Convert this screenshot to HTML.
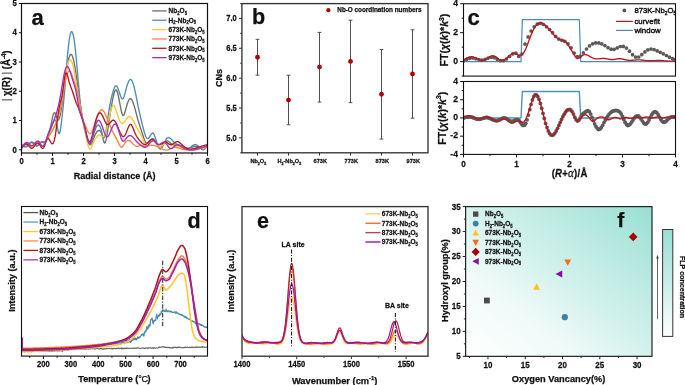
<!DOCTYPE html>
<html><head><meta charset="utf-8"><title>Figure</title>
<style>html,body{margin:0;padding:0;background:#fff;}svg{display:block;will-change:transform;}text{font-family:"Liberation Sans", sans-serif;}</style>
</head><body>
<svg width="685" height="385" viewBox="0 0 685 385" font-family='"Liberation Sans", sans-serif'>
<rect x="0" y="0" width="685" height="385" fill="#fff"/>
<defs><clipPath id="clipA"><rect x="21.5" y="3.5" width="186.0" height="149.5"/></clipPath><clipPath id="clipCU"><rect x="463.5" y="3.75" width="212.0" height="72.35"/></clipPath><clipPath id="clipCL"><rect x="463.5" y="81.5" width="212.0" height="72.9"/></clipPath><clipPath id="clipD"><rect x="21.5" y="206.5" width="186.0" height="149.60000000000002"/></clipPath><clipPath id="clipE"><rect x="242.0" y="206.6" width="186.0" height="149.6"/></clipPath></defs>
<g clip-path="url(#clipA)">
<path d="M21.50,145.41 L21.97,145.69 L22.43,145.95 L22.90,146.20 L23.36,146.43 L23.83,146.62 L24.30,146.76 L24.76,146.86 L25.23,146.90 L25.70,146.87 L26.16,146.76 L26.63,146.56 L27.09,146.28 L27.56,145.90 L28.03,145.44 L28.49,144.94 L28.96,144.42 L29.42,143.92 L29.89,143.44 L30.36,143.04 L30.82,142.72 L31.29,142.53 L31.76,142.49 L32.22,142.61 L32.69,142.86 L33.15,143.23 L33.62,143.67 L34.09,144.15 L34.55,144.63 L35.02,145.09 L35.48,145.49 L35.95,145.80 L36.42,145.99 L36.88,146.02 L37.35,145.86 L37.82,145.54 L38.28,145.09 L38.75,144.55 L39.21,143.98 L39.68,143.40 L40.15,142.86 L40.61,142.41 L41.08,142.08 L41.55,141.91 L42.01,141.94 L42.48,142.13 L42.94,142.38 L43.41,142.62 L43.88,142.76 L44.34,142.73 L44.81,142.43 L45.27,141.82 L45.74,140.94 L46.21,139.85 L46.67,138.61 L47.14,137.27 L47.61,135.89 L48.07,134.53 L48.54,133.20 L49.00,131.85 L49.47,130.43 L49.94,128.89 L50.40,127.20 L50.87,125.29 L51.33,123.14 L51.80,120.87 L52.27,118.65 L52.73,116.65 L53.20,114.99 L53.67,113.74 L54.13,112.96 L54.60,112.70 L55.06,113.04 L55.53,113.96 L56.00,115.27 L56.46,116.75 L56.93,118.18 L57.39,119.35 L57.86,120.04 L58.33,120.11 L58.79,119.60 L59.26,118.56 L59.73,117.06 L60.19,115.15 L60.66,112.89 L61.12,110.34 L61.59,107.54 L62.06,104.51 L62.52,101.27 L62.99,97.85 L63.45,94.26 L63.92,90.55 L64.39,86.76 L64.85,82.97 L65.32,79.23 L65.79,75.61 L66.25,72.18 L66.72,69.00 L67.18,66.10 L67.65,63.49 L68.12,61.19 L68.58,59.20 L69.05,57.54 L69.52,56.22 L69.98,55.25 L70.45,54.64 L70.91,54.40 L71.38,54.55 L71.85,55.07 L72.31,55.96 L72.78,57.21 L73.24,58.79 L73.71,60.69 L74.18,62.89 L74.64,65.39 L75.11,68.16 L75.58,71.16 L76.04,74.33 L76.51,77.64 L76.97,81.05 L77.44,84.50 L77.91,87.96 L78.37,91.38 L78.84,94.75 L79.30,98.04 L79.77,101.25 L80.24,104.36 L80.70,107.36 L81.17,110.22 L81.64,112.94 L82.10,115.50 L82.57,117.90 L83.03,120.18 L83.50,122.36 L83.97,124.47 L84.43,126.55 L84.90,128.64 L85.36,130.75 L85.83,132.87 L86.30,134.96 L86.76,136.96 L87.23,138.84 L87.70,140.55 L88.16,142.03 L88.63,143.24 L89.09,144.15 L89.56,144.69 L90.03,144.86 L90.49,144.70 L90.96,144.26 L91.42,143.58 L91.89,142.70 L92.36,141.67 L92.82,140.54 L93.29,139.34 L93.76,138.13 L94.22,136.95 L94.69,135.83 L95.15,134.81 L95.62,133.88 L96.09,133.05 L96.55,132.33 L97.02,131.71 L97.48,131.21 L97.95,130.83 L98.42,130.58 L98.88,130.45 L99.35,130.48 L99.82,130.68 L100.28,131.08 L100.75,131.72 L101.21,132.62 L101.68,133.82 L102.15,135.34 L102.61,137.15 L103.08,139.05 L103.55,140.82 L104.01,142.21 L104.48,143.00 L104.94,142.98 L105.41,142.17 L105.88,140.67 L106.34,138.61 L106.81,136.10 L107.27,133.25 L107.74,130.19 L108.21,127.03 L108.67,123.87 L109.14,120.75 L109.61,117.68 L110.07,114.68 L110.54,111.75 L111.00,108.89 L111.47,106.13 L111.94,103.45 L112.40,100.89 L112.87,98.48 L113.33,96.26 L113.80,94.28 L114.27,92.61 L114.73,91.28 L115.20,90.34 L115.67,89.85 L116.13,89.86 L116.60,90.37 L117.06,91.36 L117.53,92.75 L118.00,94.48 L118.46,96.51 L118.93,98.76 L119.39,101.17 L119.86,103.69 L120.33,106.22 L120.79,108.65 L121.26,110.88 L121.73,112.81 L122.19,114.32 L122.66,115.31 L123.12,115.69 L123.59,115.46 L124.06,114.72 L124.52,113.57 L124.99,112.12 L125.45,110.46 L125.92,108.72 L126.39,106.98 L126.85,105.33 L127.32,103.80 L127.79,102.41 L128.25,101.20 L128.72,100.18 L129.18,99.38 L129.65,98.83 L130.12,98.55 L130.58,98.56 L131.05,98.83 L131.52,99.35 L131.98,100.09 L132.45,101.03 L132.91,102.15 L133.38,103.43 L133.85,104.84 L134.31,106.37 L134.78,107.99 L135.24,109.69 L135.71,111.43 L136.18,113.20 L136.64,114.98 L137.11,116.73 L137.58,118.45 L138.04,120.10 L138.51,121.70 L138.97,123.23 L139.44,124.72 L139.91,126.17 L140.37,127.60 L140.84,129.01 L141.30,130.41 L141.77,131.80 L142.24,133.21 L142.70,134.63 L143.17,136.06 L143.64,137.44 L144.10,138.76 L144.57,139.97 L145.03,141.03 L145.50,141.93 L145.97,142.61 L146.43,143.04 L146.90,143.24 L147.36,143.24 L147.83,143.06 L148.30,142.74 L148.76,142.31 L149.23,141.80 L149.70,141.24 L150.16,140.67 L150.63,140.12 L151.09,139.61 L151.56,139.18 L152.03,138.86 L152.49,138.69 L152.96,138.68 L153.42,138.88 L153.89,139.24 L154.36,139.76 L154.82,140.39 L155.29,141.11 L155.76,141.89 L156.22,142.70 L156.69,143.52 L157.15,144.31 L157.62,145.05 L158.09,145.70 L158.55,146.24 L159.02,146.65 L159.48,146.89 L159.95,146.94 L160.42,146.82 L160.88,146.56 L161.35,146.18 L161.82,145.70 L162.28,145.15 L162.75,144.56 L163.21,143.94 L163.68,143.33 L164.15,142.74 L164.61,142.21 L165.08,141.74 L165.55,141.38 L166.01,141.14 L166.48,141.01 L166.94,141.00 L167.41,141.07 L167.88,141.23 L168.34,141.45 L168.81,141.73 L169.27,142.04 L169.74,142.39 L170.21,142.75 L170.67,143.11 L171.14,143.46 L171.61,143.79 L172.07,144.08 L172.54,144.33 L173.00,144.54 L173.47,144.72 L173.94,144.87 L174.40,145.00 L174.87,145.11 L175.33,145.21 L175.80,145.29 L176.27,145.37 L176.73,145.45 L177.20,145.53 L177.67,145.62 L178.13,145.70 L178.60,145.79 L179.06,145.89 L179.53,145.99 L180.00,146.10 L180.46,146.21 L180.93,146.33 L181.39,146.46 L181.86,146.60 L182.33,146.75 L182.79,146.91 L183.26,147.07 L183.73,147.25 L184.19,147.42 L184.66,147.59 L185.12,147.76 L185.59,147.91 L186.06,148.05 L186.52,148.17 L186.99,148.27 L187.45,148.34 L187.92,148.38 L188.39,148.38 L188.85,148.34 L189.32,148.26 L189.79,148.15 L190.25,148.00 L190.72,147.83 L191.18,147.64 L191.65,147.44 L192.12,147.24 L192.58,147.04 L193.05,146.85 L193.52,146.67 L193.98,146.52 L194.45,146.40 L194.91,146.31 L195.38,146.27 L195.85,146.27 L196.31,146.31 L196.78,146.37 L197.24,146.47 L197.71,146.58 L198.18,146.70 L198.64,146.84 L199.11,146.97 L199.58,147.10 L200.04,147.23 L200.51,147.33 L200.97,147.42 L201.44,147.47 L201.91,147.50 L202.37,147.50 L202.84,147.47 L203.30,147.42 L203.77,147.35 L204.24,147.26 L204.70,147.15 L205.17,147.03 L205.64,146.89 L206.10,146.75 L206.57,146.60 L207.03,146.45 L207.50,146.29" fill="none" stroke="#6e6e6e" stroke-width="1.35" stroke-linejoin="round" stroke-linecap="round"/>
<path d="M21.50,144.24 L21.97,144.62 L22.43,144.99 L22.90,145.34 L23.36,145.66 L23.83,145.94 L24.30,146.17 L24.76,146.34 L25.23,146.45 L25.70,146.48 L26.16,146.41 L26.63,146.25 L27.09,145.99 L27.56,145.61 L28.03,145.14 L28.49,144.62 L28.96,144.08 L29.42,143.53 L29.89,143.02 L30.36,142.57 L30.82,142.21 L31.29,141.98 L31.76,141.90 L32.22,141.99 L32.69,142.23 L33.15,142.58 L33.62,143.01 L34.09,143.50 L34.55,144.00 L35.02,144.50 L35.48,144.94 L35.95,145.31 L36.42,145.58 L36.88,145.70 L37.35,145.65 L37.82,145.45 L38.28,145.12 L38.75,144.70 L39.21,144.21 L39.68,143.70 L40.15,143.18 L40.61,142.70 L41.08,142.28 L41.55,141.96 L42.01,141.75 L42.48,141.66 L42.94,141.63 L43.41,141.64 L43.88,141.65 L44.34,141.62 L44.81,141.52 L45.27,141.31 L45.74,140.97 L46.21,140.45 L46.67,139.78 L47.14,138.97 L47.61,138.03 L48.07,136.97 L48.54,135.81 L49.00,134.56 L49.47,133.24 L49.94,131.87 L50.40,130.47 L50.87,129.05 L51.33,127.63 L51.80,126.24 L52.27,124.90 L52.73,123.65 L53.20,122.52 L53.67,121.52 L54.13,120.70 L54.60,120.11 L55.06,119.88 L55.53,120.14 L56.00,121.02 L56.46,122.66 L56.93,124.93 L57.39,127.49 L57.86,129.99 L58.33,132.09 L58.79,133.44 L59.26,133.69 L59.73,132.78 L60.19,130.87 L60.66,128.15 L61.12,124.80 L61.59,121.00 L62.06,116.92 L62.52,112.72 L62.99,108.39 L63.45,103.85 L63.92,99.03 L64.39,93.86 L64.85,88.33 L65.32,82.54 L65.79,76.61 L66.25,70.67 L66.72,64.83 L67.18,59.22 L67.65,53.96 L68.12,49.17 L68.58,44.93 L69.05,41.26 L69.52,38.17 L69.98,35.66 L70.45,33.74 L70.91,32.43 L71.38,31.72 L71.85,31.63 L72.31,32.14 L72.78,33.26 L73.24,34.95 L73.71,37.19 L74.18,39.97 L74.64,43.26 L75.11,47.05 L75.58,51.31 L76.04,56.00 L76.51,61.03 L76.97,66.30 L77.44,71.72 L77.91,77.19 L78.37,82.63 L78.84,87.93 L79.30,93.01 L79.77,97.84 L80.24,102.37 L80.70,106.60 L81.17,110.48 L81.64,114.00 L82.10,117.12 L82.57,119.86 L83.03,122.27 L83.50,124.44 L83.97,126.43 L84.43,128.32 L84.90,130.17 L85.36,132.06 L85.83,133.97 L86.30,135.85 L86.76,137.66 L87.23,139.34 L87.70,140.84 L88.16,142.10 L88.63,143.09 L89.09,143.73 L89.56,144.00 L90.03,143.86 L90.49,143.37 L90.96,142.58 L91.42,141.53 L91.89,140.28 L92.36,138.87 L92.82,137.36 L93.29,135.78 L93.76,134.20 L94.22,132.66 L94.69,131.20 L95.15,129.85 L95.62,128.64 L96.09,127.57 L96.55,126.66 L97.02,125.94 L97.48,125.41 L97.95,125.09 L98.42,124.99 L98.88,125.15 L99.35,125.56 L99.82,126.24 L100.28,127.19 L100.75,128.40 L101.21,129.85 L101.68,131.53 L102.15,133.35 L102.61,135.10 L103.08,136.56 L103.55,137.53 L104.01,137.79 L104.48,137.21 L104.94,135.87 L105.41,133.89 L105.88,131.39 L106.34,128.49 L106.81,125.31 L107.27,121.98 L107.74,118.61 L108.21,115.32 L108.67,112.23 L109.14,109.36 L109.61,106.69 L110.07,104.20 L110.54,101.88 L111.00,99.71 L111.47,97.67 L111.94,95.75 L112.40,93.93 L112.87,92.21 L113.33,90.61 L113.80,89.18 L114.27,87.95 L114.73,86.95 L115.20,86.23 L115.67,85.81 L116.13,85.73 L116.60,86.01 L117.06,86.61 L117.53,87.47 L118.00,88.54 L118.46,89.78 L118.93,91.13 L119.39,92.54 L119.86,93.97 L120.33,95.34 L120.79,96.60 L121.26,97.66 L121.73,98.46 L122.19,98.93 L122.66,99.00 L123.12,98.62 L123.59,97.78 L124.06,96.57 L124.52,95.08 L124.99,93.38 L125.45,91.58 L125.92,89.74 L126.39,87.95 L126.85,86.28 L127.32,84.76 L127.79,83.39 L128.25,82.19 L128.72,81.19 L129.18,80.40 L129.65,79.84 L130.12,79.52 L130.58,79.46 L131.05,79.66 L131.52,80.10 L131.98,80.79 L132.45,81.72 L132.91,82.88 L133.38,84.27 L133.85,85.89 L134.31,87.71 L134.78,89.71 L135.24,91.86 L135.71,94.11 L136.18,96.45 L136.64,98.82 L137.11,101.21 L137.58,103.57 L138.04,105.88 L138.51,108.12 L138.97,110.31 L139.44,112.43 L139.91,114.50 L140.37,116.53 L140.84,118.52 L141.30,120.47 L141.77,122.38 L142.24,124.27 L142.70,126.14 L143.17,127.97 L143.64,129.74 L144.10,131.42 L144.57,132.99 L145.03,134.42 L145.50,135.68 L145.97,136.76 L146.43,137.62 L146.90,138.25 L147.36,138.60 L147.83,138.67 L148.30,138.45 L148.76,138.01 L149.23,137.39 L149.70,136.65 L150.16,135.86 L150.63,135.07 L151.09,134.33 L151.56,133.71 L152.03,133.27 L152.49,133.06 L152.96,133.13 L153.42,133.53 L153.89,134.23 L154.36,135.17 L154.82,136.32 L155.29,137.63 L155.76,139.04 L156.22,140.51 L156.69,142.00 L157.15,143.46 L157.62,144.84 L158.09,146.10 L158.55,147.19 L159.02,148.06 L159.48,148.66 L159.95,148.98 L160.42,149.01 L160.88,148.81 L161.35,148.39 L161.82,147.80 L162.28,147.05 L162.75,146.19 L163.21,145.24 L163.68,144.24 L164.15,143.21 L164.61,142.19 L165.08,141.21 L165.55,140.30 L166.01,139.49 L166.48,138.81 L166.94,138.29 L167.41,137.93 L167.88,137.71 L168.34,137.63 L168.81,137.66 L169.27,137.80 L169.74,138.03 L170.21,138.33 L170.67,138.69 L171.14,139.11 L171.61,139.55 L172.07,140.02 L172.54,140.49 L173.00,140.95 L173.47,141.40 L173.94,141.83 L174.40,142.24 L174.87,142.63 L175.33,143.00 L175.80,143.35 L176.27,143.68 L176.73,143.98 L177.20,144.25 L177.67,144.50 L178.13,144.71 L178.60,144.91 L179.06,145.08 L179.53,145.24 L180.00,145.39 L180.46,145.53 L180.93,145.67 L181.39,145.82 L181.86,145.97 L182.33,146.14 L182.79,146.33 L183.26,146.54 L183.73,146.76 L184.19,146.99 L184.66,147.21 L185.12,147.43 L185.59,147.64 L186.06,147.82 L186.52,147.98 L186.99,148.09 L187.45,148.17 L187.92,148.19 L188.39,148.16 L188.85,148.06 L189.32,147.89 L189.79,147.66 L190.25,147.38 L190.72,147.06 L191.18,146.71 L191.65,146.36 L192.12,146.00 L192.58,145.66 L193.05,145.34 L193.52,145.05 L193.98,144.82 L194.45,144.65 L194.91,144.55 L195.38,144.54 L195.85,144.61 L196.31,144.76 L196.78,144.98 L197.24,145.26 L197.71,145.59 L198.18,145.97 L198.64,146.38 L199.11,146.83 L199.58,147.28 L200.04,147.75 L200.51,148.22 L200.97,148.66 L201.44,149.05 L201.91,149.39 L202.37,149.64 L202.84,149.79 L203.30,149.82 L203.77,149.71 L204.24,149.47 L204.70,149.11 L205.17,148.65 L205.64,148.10 L206.10,147.49 L206.57,146.83 L207.03,146.13 L207.50,145.41" fill="none" stroke="#4f8db0" stroke-width="1.35" stroke-linejoin="round" stroke-linecap="round"/>
<path d="M21.50,147.46 L21.97,146.94 L22.43,146.43 L22.90,145.94 L23.36,145.47 L23.83,145.05 L24.30,144.67 L24.76,144.35 L25.23,144.10 L25.70,143.92 L26.16,143.83 L26.63,143.84 L27.09,143.95 L27.56,144.17 L28.03,144.48 L28.49,144.85 L28.96,145.25 L29.42,145.66 L29.89,146.05 L30.36,146.39 L30.82,146.66 L31.29,146.83 L31.76,146.87 L32.22,146.77 L32.69,146.55 L33.15,146.22 L33.62,145.81 L34.09,145.35 L34.55,144.85 L35.02,144.35 L35.48,143.87 L35.95,143.42 L36.42,143.04 L36.88,142.75 L37.35,142.57 L37.82,142.52 L38.28,142.63 L38.75,142.93 L39.21,143.39 L39.68,143.98 L40.15,144.62 L40.61,145.28 L41.08,145.88 L41.55,146.39 L42.01,146.74 L42.48,146.88 L42.94,146.76 L43.41,146.39 L43.88,145.82 L44.34,145.09 L44.81,144.24 L45.27,143.32 L45.74,142.36 L46.21,141.41 L46.67,140.46 L47.14,139.52 L47.61,138.60 L48.07,137.68 L48.54,136.79 L49.00,135.90 L49.47,135.04 L49.94,134.20 L50.40,133.37 L50.87,132.55 L51.33,131.75 L51.80,130.94 L52.27,130.13 L52.73,129.32 L53.20,128.50 L53.67,127.67 L54.13,126.82 L54.60,125.95 L55.06,125.06 L55.53,124.13 L56.00,123.16 L56.46,122.12 L56.93,121.01 L57.39,119.80 L57.86,118.49 L58.33,117.05 L58.79,115.47 L59.26,113.74 L59.73,111.85 L60.19,109.79 L60.66,107.56 L61.12,105.16 L61.59,102.59 L62.06,99.84 L62.52,96.92 L62.99,93.81 L63.45,90.52 L63.92,87.08 L64.39,83.56 L64.85,80.05 L65.32,76.64 L65.79,73.42 L66.25,70.48 L66.72,67.90 L67.18,65.71 L67.65,63.90 L68.12,62.45 L68.58,61.35 L69.05,60.58 L69.52,60.12 L69.98,59.96 L70.45,60.08 L70.91,60.49 L71.38,61.18 L71.85,62.15 L72.31,63.39 L72.78,64.91 L73.24,66.71 L73.71,68.77 L74.18,71.09 L74.64,73.62 L75.11,76.32 L75.58,79.15 L76.04,82.06 L76.51,85.01 L76.97,87.96 L77.44,90.86 L77.91,93.72 L78.37,96.53 L78.84,99.30 L79.30,102.02 L79.77,104.71 L80.24,107.37 L80.70,109.98 L81.17,112.54 L81.64,115.06 L82.10,117.53 L82.57,119.95 L83.03,122.33 L83.50,124.67 L83.97,126.98 L84.43,129.26 L84.90,131.51 L85.36,133.75 L85.83,135.96 L86.30,138.12 L86.76,140.19 L87.23,142.16 L87.70,144.00 L88.16,145.67 L88.63,147.09 L89.09,148.21 L89.56,148.94 L90.03,149.22 L90.49,149.00 L90.96,148.37 L91.42,147.44 L91.89,146.31 L92.36,145.09 L92.82,143.89 L93.29,142.79 L93.76,141.79 L94.22,140.88 L94.69,140.04 L95.15,139.26 L95.62,138.52 L96.09,137.82 L96.55,137.14 L97.02,136.51 L97.48,135.95 L97.95,135.49 L98.42,135.14 L98.88,134.93 L99.35,134.88 L99.82,134.99 L100.28,135.23 L100.75,135.55 L101.21,135.90 L101.68,136.23 L102.15,136.48 L102.61,136.62 L103.08,136.60 L103.55,136.39 L104.01,135.98 L104.48,135.35 L104.94,134.50 L105.41,133.41 L105.88,132.07 L106.34,130.48 L106.81,128.67 L107.27,126.70 L107.74,124.59 L108.21,122.41 L108.67,120.18 L109.14,117.96 L109.61,115.79 L110.07,113.71 L110.54,111.77 L111.00,110.00 L111.47,108.46 L111.94,107.17 L112.40,106.19 L112.87,105.56 L113.33,105.31 L113.80,105.47 L114.27,105.99 L114.73,106.82 L115.20,107.88 L115.67,109.14 L116.13,110.53 L116.60,112.00 L117.06,113.49 L117.53,114.95 L118.00,116.37 L118.46,117.71 L118.93,118.96 L119.39,120.10 L119.86,121.10 L120.33,121.96 L120.79,122.64 L121.26,123.13 L121.73,123.40 L122.19,123.48 L122.66,123.39 L123.12,123.14 L123.59,122.76 L124.06,122.27 L124.52,121.70 L124.99,121.06 L125.45,120.39 L125.92,119.69 L126.39,119.00 L126.85,118.35 L127.32,117.75 L127.79,117.24 L128.25,116.83 L128.72,116.55 L129.18,116.43 L129.65,116.48 L130.12,116.68 L130.58,117.02 L131.05,117.49 L131.52,118.05 L131.98,118.71 L132.45,119.44 L132.91,120.22 L133.38,121.03 L133.85,121.88 L134.31,122.75 L134.78,123.64 L135.24,124.53 L135.71,125.43 L136.18,126.34 L136.64,127.24 L137.11,128.12 L137.58,129.00 L138.04,129.85 L138.51,130.68 L138.97,131.51 L139.44,132.33 L139.91,133.16 L140.37,134.01 L140.84,134.88 L141.30,135.79 L141.77,136.73 L142.24,137.73 L142.70,138.79 L143.17,139.88 L143.64,140.98 L144.10,142.05 L144.57,143.04 L145.03,143.94 L145.50,144.69 L145.97,145.27 L146.43,145.63 L146.90,145.80 L147.36,145.78 L147.83,145.61 L148.30,145.31 L148.76,144.90 L149.23,144.42 L149.70,143.88 L150.16,143.31 L150.63,142.75 L151.09,142.20 L151.56,141.71 L152.03,141.29 L152.49,140.97 L152.96,140.78 L153.42,140.73 L153.89,140.85 L154.36,141.09 L154.82,141.46 L155.29,141.91 L155.76,142.43 L156.22,143.00 L156.69,143.58 L157.15,144.17 L157.62,144.73 L158.09,145.25 L158.55,145.70 L159.02,146.06 L159.48,146.30 L159.95,146.42 L160.42,146.42 L160.88,146.31 L161.35,146.13 L161.82,145.87 L162.28,145.57 L162.75,145.23 L163.21,144.87 L163.68,144.51 L164.15,144.17 L164.61,143.86 L165.08,143.59 L165.55,143.40 L166.01,143.28 L166.48,143.24 L166.94,143.27 L167.41,143.36 L167.88,143.50 L168.34,143.68 L168.81,143.89 L169.27,144.12 L169.74,144.37 L170.21,144.63 L170.67,144.87 L171.14,145.11 L171.61,145.31 L172.07,145.49 L172.54,145.63 L173.00,145.74 L173.47,145.82 L173.94,145.89 L174.40,145.93 L174.87,145.97 L175.33,146.00 L175.80,146.03 L176.27,146.06 L176.73,146.09 L177.20,146.15 L177.67,146.21 L178.13,146.31 L178.60,146.42 L179.06,146.56 L179.53,146.72 L180.00,146.90 L180.46,147.09 L180.93,147.29 L181.39,147.50 L181.86,147.71 L182.33,147.92 L182.79,148.13 L183.26,148.33 L183.73,148.53 L184.19,148.71 L184.66,148.88 L185.12,149.03 L185.59,149.16 L186.06,149.27 L186.52,149.35 L186.99,149.41 L187.45,149.44 L187.92,149.46 L188.39,149.46 L188.85,149.44 L189.32,149.40 L189.79,149.35 L190.25,149.29 L190.72,149.22 L191.18,149.14 L191.65,149.05 L192.12,148.96 L192.58,148.86 L193.05,148.76 L193.52,148.66 L193.98,148.56 L194.45,148.47 L194.91,148.37 L195.38,148.29 L195.85,148.20 L196.31,148.13 L196.78,148.06 L197.24,147.99 L197.71,147.93 L198.18,147.88 L198.64,147.83 L199.11,147.78 L199.58,147.74 L200.04,147.70 L200.51,147.67 L200.97,147.64 L201.44,147.61 L201.91,147.59 L202.37,147.57 L202.84,147.55 L203.30,147.54 L203.77,147.52 L204.24,147.51 L204.70,147.50 L205.17,147.49 L205.64,147.48 L206.10,147.48 L206.57,147.47 L207.03,147.46 L207.50,147.46" fill="none" stroke="#ffc62e" stroke-width="1.35" stroke-linejoin="round" stroke-linecap="round"/>
<path d="M21.50,146.87 L21.97,146.35 L22.43,145.84 L22.90,145.35 L23.36,144.88 L23.83,144.46 L24.30,144.08 L24.76,143.76 L25.23,143.51 L25.70,143.33 L26.16,143.25 L26.63,143.25 L27.09,143.37 L27.56,143.59 L28.03,143.90 L28.49,144.27 L28.96,144.68 L29.42,145.09 L29.89,145.48 L30.36,145.82 L30.82,146.09 L31.29,146.25 L31.76,146.29 L32.22,146.18 L32.69,145.94 L33.15,145.59 L33.62,145.17 L34.09,144.69 L34.55,144.19 L35.02,143.68 L35.48,143.18 L35.95,142.74 L36.42,142.36 L36.88,142.07 L37.35,141.90 L37.82,141.88 L38.28,142.02 L38.75,142.36 L39.21,142.87 L39.68,143.50 L40.15,144.19 L40.61,144.88 L41.08,145.49 L41.55,145.98 L42.01,146.28 L42.48,146.32 L42.94,146.06 L43.41,145.52 L43.88,144.77 L44.34,143.86 L44.81,142.88 L45.27,141.87 L45.74,140.90 L46.21,140.02 L46.67,139.23 L47.14,138.50 L47.61,137.83 L48.07,137.20 L48.54,136.58 L49.00,135.98 L49.47,135.37 L49.94,134.74 L50.40,134.07 L50.87,133.35 L51.33,132.57 L51.80,131.75 L52.27,130.87 L52.73,129.97 L53.20,129.02 L53.67,128.05 L54.13,127.06 L54.60,126.06 L55.06,125.04 L55.53,124.01 L56.00,122.95 L56.46,121.83 L56.93,120.64 L57.39,119.35 L57.86,117.94 L58.33,116.39 L58.79,114.67 L59.26,112.77 L59.73,110.68 L60.19,108.44 L60.66,106.06 L61.12,103.59 L61.59,101.05 L62.06,98.46 L62.52,95.86 L62.99,93.26 L63.45,90.71 L63.92,88.22 L64.39,85.81 L64.85,83.51 L65.32,81.33 L65.79,79.28 L66.25,77.40 L66.72,75.69 L67.18,74.19 L67.65,72.92 L68.12,71.92 L68.58,71.22 L69.05,70.85 L69.52,70.83 L69.98,71.16 L70.45,71.78 L70.91,72.65 L71.38,73.72 L71.85,74.94 L72.31,76.25 L72.78,77.61 L73.24,79.00 L73.71,80.40 L74.18,81.84 L74.64,83.31 L75.11,84.82 L75.58,86.38 L76.04,88.00 L76.51,89.68 L76.97,91.43 L77.44,93.29 L77.91,95.27 L78.37,97.38 L78.84,99.64 L79.30,102.07 L79.77,104.70 L80.24,107.44 L80.70,110.19 L81.17,112.84 L81.64,115.27 L82.10,117.38 L82.57,119.10 L83.03,120.52 L83.50,121.71 L83.97,122.73 L84.43,123.68 L84.90,124.61 L85.36,125.61 L85.83,126.68 L86.30,127.78 L86.76,128.88 L87.23,129.94 L87.70,130.94 L88.16,131.84 L88.63,132.59 L89.09,133.18 L89.56,133.56 L90.03,133.71 L90.49,133.59 L90.96,133.22 L91.42,132.63 L91.89,131.85 L92.36,130.89 L92.82,129.78 L93.29,128.55 L93.76,127.22 L94.22,125.82 L94.69,124.37 L95.15,122.89 L95.62,121.41 L96.09,119.96 L96.55,118.56 L97.02,117.21 L97.48,115.93 L97.95,114.74 L98.42,113.64 L98.88,112.65 L99.35,111.78 L99.82,111.05 L100.28,110.46 L100.75,110.03 L101.21,109.78 L101.68,109.71 L102.15,109.82 L102.61,110.10 L103.08,110.54 L103.55,111.12 L104.01,111.82 L104.48,112.63 L104.94,113.53 L105.41,114.51 L105.88,115.55 L106.34,116.64 L106.81,117.75 L107.27,118.89 L107.74,120.04 L108.21,121.19 L108.67,122.34 L109.14,123.50 L109.61,124.64 L110.07,125.78 L110.54,126.90 L111.00,127.99 L111.47,129.07 L111.94,130.11 L112.40,131.11 L112.87,132.08 L113.33,133.00 L113.80,133.89 L114.27,134.75 L114.73,135.59 L115.20,136.43 L115.67,137.27 L116.13,138.13 L116.60,139.00 L117.06,139.92 L117.53,140.87 L118.00,141.88 L118.46,142.91 L118.93,143.91 L119.39,144.85 L119.86,145.69 L120.33,146.38 L120.79,146.88 L121.26,147.15 L121.73,147.16 L122.19,146.93 L122.66,146.50 L123.12,145.92 L123.59,145.24 L124.06,144.50 L124.52,143.74 L124.99,143.01 L125.45,142.34 L125.92,141.79 L126.39,141.33 L126.85,140.98 L127.32,140.72 L127.79,140.57 L128.25,140.50 L128.72,140.53 L129.18,140.65 L129.65,140.86 L130.12,141.15 L130.58,141.50 L131.05,141.90 L131.52,142.34 L131.98,142.81 L132.45,143.29 L132.91,143.76 L133.38,144.22 L133.85,144.65 L134.31,145.05 L134.78,145.41 L135.24,145.72 L135.71,145.98 L136.18,146.17 L136.64,146.30 L137.11,146.35 L137.58,146.32 L138.04,146.21 L138.51,146.02 L138.97,145.80 L139.44,145.59 L139.91,145.42 L140.37,145.31 L140.84,145.27 L141.30,145.30 L141.77,145.36 L142.24,145.46 L142.70,145.59 L143.17,145.73 L143.64,145.88 L144.10,146.02 L144.57,146.14 L145.03,146.23 L145.50,146.29 L145.97,146.30 L146.43,146.27 L146.90,146.20 L147.36,146.10 L147.83,145.99 L148.30,145.87 L148.76,145.74 L149.23,145.62 L149.70,145.50 L150.16,145.41 L150.63,145.34 L151.09,145.29 L151.56,145.27 L152.03,145.28 L152.49,145.30 L152.96,145.35 L153.42,145.41 L153.89,145.50 L154.36,145.60 L154.82,145.72 L155.29,145.86 L155.76,146.01 L156.22,146.17 L156.69,146.35 L157.15,146.54 L157.62,146.75 L158.09,146.96 L158.55,147.18 L159.02,147.41 L159.48,147.65 L159.95,147.88 L160.42,148.12 L160.88,148.35 L161.35,148.58 L161.82,148.80 L162.28,149.01 L162.75,149.20 L163.21,149.39 L163.68,149.56 L164.15,149.71 L164.61,149.84 L165.08,149.94 L165.55,150.02 L166.01,150.07 L166.48,150.09 L166.94,150.08 L167.41,150.04 L167.88,149.95 L168.34,149.83 L168.81,149.67 L169.27,149.47 L169.74,149.24 L170.21,149.00 L170.67,148.74 L171.14,148.48 L171.61,148.23 L172.07,147.99 L172.54,147.77 L173.00,147.59 L173.47,147.44 L173.94,147.34 L174.40,147.28 L174.87,147.25 L175.33,147.27 L175.80,147.31 L176.27,147.38 L176.73,147.47 L177.20,147.59 L177.67,147.71 L178.13,147.85 L178.60,148.00 L179.06,148.16 L179.53,148.31 L180.00,148.47 L180.46,148.62 L180.93,148.76 L181.39,148.90 L181.86,149.03 L182.33,149.16 L182.79,149.28 L183.26,149.39 L183.73,149.49 L184.19,149.58 L184.66,149.66 L185.12,149.72 L185.59,149.78 L186.06,149.82 L186.52,149.85 L186.99,149.87 L187.45,149.87 L187.92,149.86 L188.39,149.84 L188.85,149.82 L189.32,149.78 L189.79,149.74 L190.25,149.69 L190.72,149.63 L191.18,149.57 L191.65,149.50 L192.12,149.43 L192.58,149.35 L193.05,149.28 L193.52,149.20 L193.98,149.12 L194.45,149.03 L194.91,148.95 L195.38,148.87 L195.85,148.80 L196.31,148.72 L196.78,148.65 L197.24,148.57 L197.71,148.50 L198.18,148.43 L198.64,148.36 L199.11,148.29 L199.58,148.22 L200.04,148.15 L200.51,148.09 L200.97,148.02 L201.44,147.96 L201.91,147.89 L202.37,147.83 L202.84,147.77 L203.30,147.71 L203.77,147.65 L204.24,147.58 L204.70,147.52 L205.17,147.46 L205.64,147.40 L206.10,147.34 L206.57,147.29 L207.03,147.23 L207.50,147.17" fill="none" stroke="#ff8340" stroke-width="1.35" stroke-linejoin="round" stroke-linecap="round"/>
<path d="M21.50,148.34 L21.97,147.70 L22.43,147.09 L22.90,146.49 L23.36,145.93 L23.83,145.42 L24.30,144.97 L24.76,144.60 L25.23,144.31 L25.70,144.12 L26.16,144.03 L26.63,144.07 L27.09,144.25 L27.56,144.56 L28.03,144.99 L28.49,145.49 L28.96,146.03 L29.42,146.59 L29.89,147.12 L30.36,147.60 L30.82,147.98 L31.29,148.24 L31.76,148.34 L32.22,148.26 L32.69,148.02 L33.15,147.64 L33.62,147.17 L34.09,146.62 L34.55,146.03 L35.02,145.42 L35.48,144.83 L35.95,144.28 L36.42,143.81 L36.88,143.43 L37.35,143.19 L37.82,143.10 L38.28,143.21 L38.75,143.53 L39.21,144.05 L39.68,144.72 L40.15,145.48 L40.61,146.25 L41.08,146.99 L41.55,147.62 L42.01,148.08 L42.48,148.32 L42.94,148.27 L43.41,147.93 L43.88,147.31 L44.34,146.41 L44.81,145.25 L45.27,143.88 L45.74,142.40 L46.21,140.98 L46.67,139.73 L47.14,138.81 L47.61,138.33 L48.07,138.28 L48.54,138.57 L49.00,139.12 L49.47,139.87 L49.94,140.72 L50.40,141.59 L50.87,142.42 L51.33,143.11 L51.80,143.60 L52.27,143.80 L52.73,143.67 L53.20,143.18 L53.67,142.29 L54.13,140.98 L54.60,139.21 L55.06,136.95 L55.53,134.17 L56.00,130.86 L56.46,127.16 L56.93,123.27 L57.39,119.41 L57.86,115.76 L58.33,112.47 L58.79,109.55 L59.26,106.99 L59.73,104.77 L60.19,102.88 L60.66,101.20 L61.12,99.52 L61.59,97.65 L62.06,95.38 L62.52,92.55 L62.99,89.29 L63.45,85.82 L63.92,82.36 L64.39,79.15 L64.85,76.40 L65.32,74.34 L65.79,73.19 L66.25,72.94 L66.72,73.45 L67.18,74.55 L67.65,76.06 L68.12,77.83 L68.58,79.69 L69.05,81.48 L69.52,83.09 L69.98,84.55 L70.45,85.90 L70.91,87.17 L71.38,88.40 L71.85,89.63 L72.31,90.90 L72.78,92.24 L73.24,93.68 L73.71,95.17 L74.18,96.68 L74.64,98.19 L75.11,99.65 L75.58,101.03 L76.04,102.30 L76.51,103.47 L76.97,104.56 L77.44,105.61 L77.91,106.65 L78.37,107.70 L78.84,108.81 L79.30,109.99 L79.77,111.24 L80.24,112.55 L80.70,113.90 L81.17,115.28 L81.64,116.67 L82.10,118.07 L82.57,119.47 L83.03,120.89 L83.50,122.36 L83.97,123.90 L84.43,125.52 L84.90,127.26 L85.36,129.13 L85.83,131.10 L86.30,133.09 L86.76,135.04 L87.23,136.87 L87.70,138.53 L88.16,139.93 L88.63,141.01 L89.09,141.70 L89.56,141.93 L90.03,141.68 L90.49,141.00 L90.96,139.96 L91.42,138.59 L91.89,136.97 L92.36,135.15 L92.82,133.18 L93.29,131.12 L93.76,129.02 L94.22,126.95 L94.69,124.95 L95.15,123.06 L95.62,121.28 L96.09,119.64 L96.55,118.13 L97.02,116.79 L97.48,115.62 L97.95,114.63 L98.42,113.84 L98.88,113.26 L99.35,112.91 L99.82,112.79 L100.28,112.89 L100.75,113.19 L101.21,113.66 L101.68,114.29 L102.15,115.05 L102.61,115.93 L103.08,116.91 L103.55,117.96 L104.01,119.03 L104.48,120.10 L104.94,121.13 L105.41,122.09 L105.88,122.93 L106.34,123.63 L106.81,124.15 L107.27,124.46 L107.74,124.54 L108.21,124.44 L108.67,124.19 L109.14,123.82 L109.61,123.35 L110.07,122.83 L110.54,122.29 L111.00,121.75 L111.47,121.25 L111.94,120.81 L112.40,120.47 L112.87,120.23 L113.33,120.14 L113.80,120.22 L114.27,120.48 L114.73,120.92 L115.20,121.52 L115.67,122.26 L116.13,123.12 L116.60,124.08 L117.06,125.12 L117.53,126.22 L118.00,127.36 L118.46,128.52 L118.93,129.68 L119.39,130.82 L119.86,131.91 L120.33,132.94 L120.79,133.88 L121.26,134.72 L121.73,135.43 L122.19,136.00 L122.66,136.40 L123.12,136.61 L123.59,136.61 L124.06,136.38 L124.52,135.91 L124.99,135.22 L125.45,134.35 L125.92,133.34 L126.39,132.22 L126.85,131.04 L127.32,129.84 L127.79,128.64 L128.25,127.50 L128.72,126.47 L129.18,125.59 L129.65,124.91 L130.12,124.48 L130.58,124.34 L131.05,124.53 L131.52,125.03 L131.98,125.77 L132.45,126.71 L132.91,127.79 L133.38,128.97 L133.85,130.19 L134.31,131.40 L134.78,132.55 L135.24,133.61 L135.71,134.58 L136.18,135.47 L136.64,136.29 L137.11,137.04 L137.58,137.74 L138.04,138.40 L138.51,139.01 L138.97,139.60 L139.44,140.16 L139.91,140.71 L140.37,141.26 L140.84,141.79 L141.30,142.29 L141.77,142.77 L142.24,143.21 L142.70,143.61 L143.17,143.94 L143.64,144.22 L144.10,144.42 L144.57,144.54 L145.03,144.57 L145.50,144.50 L145.97,144.32 L146.43,144.04 L146.90,143.65 L147.36,143.18 L147.83,142.66 L148.30,142.11 L148.76,141.56 L149.23,141.02 L149.70,140.53 L150.16,140.10 L150.63,139.77 L151.09,139.55 L151.56,139.47 L152.03,139.51 L152.49,139.66 L152.96,139.90 L153.42,140.22 L153.89,140.60 L154.36,141.03 L154.82,141.49 L155.29,141.97 L155.76,142.45 L156.22,142.92 L156.69,143.36 L157.15,143.76 L157.62,144.10 L158.09,144.37 L158.55,144.54 L159.02,144.62 L159.48,144.61 L159.95,144.52 L160.42,144.37 L160.88,144.17 L161.35,143.93 L161.82,143.66 L162.28,143.39 L162.75,143.11 L163.21,142.85 L163.68,142.61 L164.15,142.41 L164.61,142.27 L165.08,142.18 L165.55,142.18 L166.01,142.27 L166.48,142.43 L166.94,142.66 L167.41,142.93 L167.88,143.22 L168.34,143.53 L168.81,143.82 L169.27,144.09 L169.74,144.31 L170.21,144.46 L170.67,144.54 L171.14,144.52 L171.61,144.42 L172.07,144.26 L172.54,144.03 L173.00,143.77 L173.47,143.47 L173.94,143.16 L174.40,142.84 L174.87,142.54 L175.33,142.25 L175.80,142.01 L176.27,141.81 L176.73,141.67 L177.20,141.61 L177.67,141.63 L178.13,141.74 L178.60,141.94 L179.06,142.20 L179.53,142.52 L180.00,142.88 L180.46,143.29 L180.93,143.72 L181.39,144.16 L181.86,144.61 L182.33,145.06 L182.79,145.50 L183.26,145.91 L183.73,146.29 L184.19,146.66 L184.66,147.00 L185.12,147.31 L185.59,147.60 L186.06,147.87 L186.52,148.11 L186.99,148.32 L187.45,148.51 L187.92,148.67 L188.39,148.80 L188.85,148.91 L189.32,148.99 L189.79,149.05 L190.25,149.08 L190.72,149.09 L191.18,149.07 L191.65,149.04 L192.12,148.99 L192.58,148.92 L193.05,148.84 L193.52,148.74 L193.98,148.64 L194.45,148.52 L194.91,148.39 L195.38,148.26 L195.85,148.11 L196.31,147.97 L196.78,147.82 L197.24,147.66 L197.71,147.51 L198.18,147.35 L198.64,147.19 L199.11,147.03 L199.58,146.87 L200.04,146.71 L200.51,146.55 L200.97,146.39 L201.44,146.24 L201.91,146.10 L202.37,145.95 L202.84,145.81 L203.30,145.68 L203.77,145.54 L204.24,145.41 L204.70,145.28 L205.17,145.15 L205.64,145.03 L206.10,144.90 L206.57,144.78 L207.03,144.66 L207.50,144.53" fill="none" stroke="#b3191c" stroke-width="1.35" stroke-linejoin="round" stroke-linecap="round"/>
<path d="M21.50,148.34 L21.97,147.55 L22.43,146.78 L22.90,146.03 L23.36,145.32 L23.83,144.66 L24.30,144.06 L24.76,143.54 L25.23,143.10 L25.70,142.77 L26.16,142.54 L26.63,142.45 L27.09,142.49 L27.56,142.67 L28.03,142.97 L28.49,143.35 L28.96,143.79 L29.42,144.25 L29.89,144.69 L30.36,145.09 L30.82,145.42 L31.29,145.63 L31.76,145.70 L32.22,145.62 L32.69,145.38 L33.15,145.04 L33.62,144.60 L34.09,144.10 L34.55,143.56 L35.02,143.01 L35.48,142.48 L35.95,141.99 L36.42,141.58 L36.88,141.26 L37.35,141.06 L37.82,141.02 L38.28,141.15 L38.75,141.48 L39.21,142.01 L39.68,142.67 L40.15,143.41 L40.61,144.18 L41.08,144.90 L41.55,145.53 L42.01,146.00 L42.48,146.27 L42.94,146.26 L43.41,146.00 L43.88,145.49 L44.34,144.75 L44.81,143.82 L45.27,142.71 L45.74,141.47 L46.21,140.13 L46.67,138.72 L47.14,137.30 L47.61,135.89 L48.07,134.54 L48.54,133.25 L49.00,132.02 L49.47,130.85 L49.94,129.72 L50.40,128.62 L50.87,127.54 L51.33,126.47 L51.80,125.40 L52.27,124.33 L52.73,123.24 L53.20,122.13 L53.67,120.99 L54.13,119.80 L54.60,118.57 L55.06,117.29 L55.53,115.94 L56.00,114.52 L56.46,113.02 L56.93,111.44 L57.39,109.75 L57.86,107.97 L58.33,106.07 L58.79,104.04 L59.26,101.88 L59.73,99.58 L60.19,97.13 L60.66,94.52 L61.12,91.76 L61.59,88.91 L62.06,86.02 L62.52,83.16 L62.99,80.38 L63.45,77.75 L63.92,75.32 L64.39,73.13 L64.85,71.21 L65.32,69.58 L65.79,68.26 L66.25,67.27 L66.72,66.64 L67.18,66.38 L67.65,66.50 L68.12,66.95 L68.58,67.70 L69.05,68.68 L69.52,69.87 L69.98,71.20 L70.45,72.63 L70.91,74.12 L71.38,75.64 L71.85,77.16 L72.31,78.69 L72.78,80.21 L73.24,81.72 L73.71,83.21 L74.18,84.69 L74.64,86.22 L75.11,87.87 L75.58,89.70 L76.04,91.78 L76.51,94.14 L76.97,96.73 L77.44,99.45 L77.91,102.20 L78.37,104.90 L78.84,107.45 L79.30,109.76 L79.77,111.73 L80.24,113.30 L80.70,114.59 L81.17,115.71 L81.64,116.81 L82.10,118.03 L82.57,119.44 L83.03,121.03 L83.50,122.76 L83.97,124.63 L84.43,126.60 L84.90,128.64 L85.36,130.74 L85.83,132.84 L86.30,134.90 L86.76,136.85 L87.23,138.65 L87.70,140.24 L88.16,141.56 L88.63,142.56 L89.09,143.19 L89.56,143.38 L90.03,143.13 L90.49,142.49 L90.96,141.52 L91.42,140.26 L91.89,138.77 L92.36,137.11 L92.82,135.33 L93.29,133.48 L93.76,131.62 L94.22,129.80 L94.69,128.08 L95.15,126.49 L95.62,125.03 L96.09,123.74 L96.55,122.62 L97.02,121.70 L97.48,120.99 L97.95,120.50 L98.42,120.27 L98.88,120.29 L99.35,120.58 L99.82,121.10 L100.28,121.82 L100.75,122.72 L101.21,123.77 L101.68,124.95 L102.15,126.21 L102.61,127.54 L103.08,128.91 L103.55,130.28 L104.01,131.62 L104.48,132.88 L104.94,134.04 L105.41,135.05 L105.88,135.88 L106.34,136.49 L106.81,136.85 L107.27,136.92 L107.74,136.70 L108.21,136.22 L108.67,135.53 L109.14,134.67 L109.61,133.68 L110.07,132.59 L110.54,131.44 L111.00,130.28 L111.47,129.15 L111.94,128.08 L112.40,127.09 L112.87,126.20 L113.33,125.45 L113.80,124.83 L114.27,124.39 L114.73,124.14 L115.20,124.10 L115.67,124.29 L116.13,124.73 L116.60,125.44 L117.06,126.37 L117.53,127.48 L118.00,128.74 L118.46,130.11 L118.93,131.55 L119.39,133.02 L119.86,134.47 L120.33,135.88 L120.79,137.20 L121.26,138.40 L121.73,139.43 L122.19,140.26 L122.66,140.84 L123.12,141.16 L123.59,141.19 L124.06,141.00 L124.52,140.63 L124.99,140.12 L125.45,139.51 L125.92,138.85 L126.39,138.19 L126.85,137.57 L127.32,137.03 L127.79,136.57 L128.25,136.20 L128.72,135.92 L129.18,135.72 L129.65,135.62 L130.12,135.59 L130.58,135.65 L131.05,135.80 L131.52,136.03 L131.98,136.34 L132.45,136.72 L132.91,137.16 L133.38,137.66 L133.85,138.19 L134.31,138.74 L134.78,139.31 L135.24,139.89 L135.71,140.45 L136.18,141.00 L136.64,141.51 L137.11,141.99 L137.58,142.45 L138.04,142.89 L138.51,143.31 L138.97,143.72 L139.44,144.13 L139.91,144.52 L140.37,144.92 L140.84,145.30 L141.30,145.67 L141.77,146.02 L142.24,146.34 L142.70,146.63 L143.17,146.86 L143.64,147.05 L144.10,147.18 L144.57,147.24 L145.03,147.23 L145.50,147.14 L145.97,146.95 L146.43,146.68 L146.90,146.31 L147.36,145.88 L147.83,145.39 L148.30,144.85 L148.76,144.29 L149.23,143.73 L149.70,143.16 L150.16,142.62 L150.63,142.12 L151.09,141.67 L151.56,141.29 L152.03,140.99 L152.49,140.80 L152.96,140.71 L153.42,140.76 L153.89,140.94 L154.36,141.23 L154.82,141.60 L155.29,142.03 L155.76,142.48 L156.22,142.95 L156.69,143.40 L157.15,143.81 L157.62,144.15 L158.09,144.40 L158.55,144.54 L159.02,144.54 L159.48,144.43 L159.95,144.23 L160.42,143.96 L160.88,143.65 L161.35,143.31 L161.82,142.98 L162.28,142.67 L162.75,142.40 L163.21,142.21 L163.68,142.11 L164.15,142.12 L164.61,142.28 L165.08,142.57 L165.55,142.98 L166.01,143.49 L166.48,144.07 L166.94,144.70 L167.41,145.35 L167.88,146.01 L168.34,146.64 L168.81,147.22 L169.27,147.74 L169.74,148.17 L170.21,148.47 L170.67,148.64 L171.14,148.66 L171.61,148.54 L172.07,148.32 L172.54,148.00 L173.00,147.61 L173.47,147.18 L173.94,146.73 L174.40,146.28 L174.87,145.86 L175.33,145.48 L175.80,145.16 L176.27,144.94 L176.73,144.80 L177.20,144.74 L177.67,144.76 L178.13,144.84 L178.60,144.98 L179.06,145.17 L179.53,145.40 L180.00,145.66 L180.46,145.95 L180.93,146.26 L181.39,146.58 L181.86,146.90 L182.33,147.21 L182.79,147.52 L183.26,147.81 L183.73,148.07 L184.19,148.32 L184.66,148.56 L185.12,148.77 L185.59,148.97 L186.06,149.15 L186.52,149.32 L186.99,149.47 L187.45,149.60 L187.92,149.72 L188.39,149.82 L188.85,149.91 L189.32,149.98 L189.79,150.04 L190.25,150.09 L190.72,150.12 L191.18,150.14 L191.65,150.14 L192.12,150.14 L192.58,150.12 L193.05,150.08 L193.52,150.04 L193.98,149.98 L194.45,149.92 L194.91,149.84 L195.38,149.76 L195.85,149.66 L196.31,149.56 L196.78,149.44 L197.24,149.33 L197.71,149.20 L198.18,149.07 L198.64,148.93 L199.11,148.78 L199.58,148.63 L200.04,148.48 L200.51,148.32 L200.97,148.16 L201.44,147.99 L201.91,147.83 L202.37,147.66 L202.84,147.49 L203.30,147.31 L203.77,147.14 L204.24,146.96 L204.70,146.79 L205.17,146.61 L205.64,146.43 L206.10,146.25 L206.57,146.07 L207.03,145.89 L207.50,145.70" fill="none" stroke="#a830b8" stroke-width="1.35" stroke-linejoin="round" stroke-linecap="round"/>
</g>
<rect x="21.50" y="3.50" width="186.00" height="149.50" stroke="#111" stroke-width="1.2" fill="none"/>
<line x1="18.90" y1="149.80" x2="21.50" y2="149.80" stroke="#111" stroke-width="1"/>
<line x1="18.90" y1="120.54" x2="21.50" y2="120.54" stroke="#111" stroke-width="1"/>
<line x1="18.90" y1="91.28" x2="21.50" y2="91.28" stroke="#111" stroke-width="1"/>
<line x1="18.90" y1="62.02" x2="21.50" y2="62.02" stroke="#111" stroke-width="1"/>
<line x1="18.90" y1="32.76" x2="21.50" y2="32.76" stroke="#111" stroke-width="1"/>
<line x1="18.90" y1="3.50" x2="21.50" y2="3.50" stroke="#111" stroke-width="1"/>
<line x1="21.50" y1="153.00" x2="21.50" y2="155.90" stroke="#111" stroke-width="1"/>
<line x1="37.00" y1="153.00" x2="37.00" y2="154.70" stroke="#111" stroke-width="1"/>
<line x1="52.50" y1="153.00" x2="52.50" y2="155.90" stroke="#111" stroke-width="1"/>
<line x1="68.00" y1="153.00" x2="68.00" y2="154.70" stroke="#111" stroke-width="1"/>
<line x1="83.50" y1="153.00" x2="83.50" y2="155.90" stroke="#111" stroke-width="1"/>
<line x1="99.00" y1="153.00" x2="99.00" y2="154.70" stroke="#111" stroke-width="1"/>
<line x1="114.50" y1="153.00" x2="114.50" y2="155.90" stroke="#111" stroke-width="1"/>
<line x1="130.00" y1="153.00" x2="130.00" y2="154.70" stroke="#111" stroke-width="1"/>
<line x1="145.50" y1="153.00" x2="145.50" y2="155.90" stroke="#111" stroke-width="1"/>
<line x1="161.00" y1="153.00" x2="161.00" y2="154.70" stroke="#111" stroke-width="1"/>
<line x1="176.50" y1="153.00" x2="176.50" y2="155.90" stroke="#111" stroke-width="1"/>
<line x1="192.00" y1="153.00" x2="192.00" y2="154.70" stroke="#111" stroke-width="1"/>
<line x1="207.50" y1="153.00" x2="207.50" y2="155.90" stroke="#111" stroke-width="1"/>
<text transform="translate(16.80 152.50) scale(0.92 1)" font-size="8.48" text-anchor="end" font-weight="bold" fill="#111" stroke="#111" stroke-width="0.25">0</text>
<text transform="translate(16.80 123.24) scale(0.92 1)" font-size="8.48" text-anchor="end" font-weight="bold" fill="#111" stroke="#111" stroke-width="0.25">1</text>
<text transform="translate(16.80 93.98) scale(0.92 1)" font-size="8.48" text-anchor="end" font-weight="bold" fill="#111" stroke="#111" stroke-width="0.25">2</text>
<text transform="translate(16.80 64.72) scale(0.92 1)" font-size="8.48" text-anchor="end" font-weight="bold" fill="#111" stroke="#111" stroke-width="0.25">3</text>
<text transform="translate(16.80 35.46) scale(0.92 1)" font-size="8.48" text-anchor="end" font-weight="bold" fill="#111" stroke="#111" stroke-width="0.25">4</text>
<text transform="translate(16.80 6.20) scale(0.92 1)" font-size="8.48" text-anchor="end" font-weight="bold" fill="#111" stroke="#111" stroke-width="0.25">5</text>
<text transform="translate(21.50 163.90) scale(0.92 1)" font-size="8.26" text-anchor="middle" font-weight="bold" fill="#111" stroke="#111" stroke-width="0.25">0</text>
<text transform="translate(52.50 163.90) scale(0.92 1)" font-size="8.26" text-anchor="middle" font-weight="bold" fill="#111" stroke="#111" stroke-width="0.25">1</text>
<text transform="translate(83.50 163.90) scale(0.92 1)" font-size="8.26" text-anchor="middle" font-weight="bold" fill="#111" stroke="#111" stroke-width="0.25">2</text>
<text transform="translate(114.50 163.90) scale(0.92 1)" font-size="8.26" text-anchor="middle" font-weight="bold" fill="#111" stroke="#111" stroke-width="0.25">3</text>
<text transform="translate(145.50 163.90) scale(0.92 1)" font-size="8.26" text-anchor="middle" font-weight="bold" fill="#111" stroke="#111" stroke-width="0.25">4</text>
<text transform="translate(176.50 163.90) scale(0.92 1)" font-size="8.26" text-anchor="middle" font-weight="bold" fill="#111" stroke="#111" stroke-width="0.25">5</text>
<text transform="translate(207.50 163.90) scale(0.92 1)" font-size="8.26" text-anchor="middle" font-weight="bold" fill="#111" stroke="#111" stroke-width="0.25">6</text>
<text transform="translate(114.60 179.00) scale(0.92 1)" font-size="9.89" text-anchor="middle" font-weight="bold" fill="#111" stroke="#111" stroke-width="0.25">Radial distance (Å)</text>
<text transform="translate(9.70 75.80) rotate(-90) scale(0.92 1)" font-size="10.43" text-anchor="middle" font-weight="bold" fill="#111" stroke="#111" stroke-width="0.25"><tspan font-weight="normal" fill="#888">|</tspan> χ(R) <tspan font-weight="normal" fill="#888">|</tspan> (Å<tspan font-size="64%" dy="-4.03">-4</tspan><tspan dy="4.03">)</tspan></text>
<text transform="translate(31.60 25.10) scale(1.0 1)" font-size="22.00" text-anchor="start" font-weight="bold" fill="#111" stroke="#111" stroke-width="0.25">a</text>
<line x1="152.20" y1="10.90" x2="166.60" y2="10.90" stroke="#6e6e6e" stroke-width="1.3"/>
<text transform="translate(168.60 13.20) scale(0.92 1)" font-size="7.07" text-anchor="start" font-weight="bold" fill="#111" stroke="#111" stroke-width="0.25">Nb<tspan font-size="64%" dy="1.82">2</tspan><tspan dy="-1.82">O</tspan><tspan font-size="64%" dy="1.82">5</tspan></text>
<line x1="152.20" y1="20.25" x2="166.60" y2="20.25" stroke="#4f8db0" stroke-width="1.3"/>
<text transform="translate(168.60 22.55) scale(0.92 1)" font-size="7.07" text-anchor="start" font-weight="bold" fill="#111" stroke="#111" stroke-width="0.25">H<tspan font-size="64%" dy="1.82">2</tspan><tspan dy="-1.82">-</tspan>Nb<tspan font-size="64%" dy="1.82">2</tspan><tspan dy="-1.82">O</tspan><tspan font-size="64%" dy="1.82">5</tspan></text>
<line x1="152.20" y1="29.60" x2="166.60" y2="29.60" stroke="#ffc62e" stroke-width="1.3"/>
<text transform="translate(168.60 31.90) scale(0.92 1)" font-size="7.07" text-anchor="start" font-weight="bold" fill="#111" stroke="#111" stroke-width="0.25">673K-Nb<tspan font-size="64%" dy="1.82">2</tspan><tspan dy="-1.82">O</tspan><tspan font-size="64%" dy="1.82">5</tspan></text>
<line x1="152.20" y1="38.95" x2="166.60" y2="38.95" stroke="#ff8340" stroke-width="1.3"/>
<text transform="translate(168.60 41.25) scale(0.92 1)" font-size="7.07" text-anchor="start" font-weight="bold" fill="#111" stroke="#111" stroke-width="0.25">773K-Nb<tspan font-size="64%" dy="1.82">2</tspan><tspan dy="-1.82">O</tspan><tspan font-size="64%" dy="1.82">5</tspan></text>
<line x1="152.20" y1="48.30" x2="166.60" y2="48.30" stroke="#b3191c" stroke-width="1.3"/>
<text transform="translate(168.60 50.60) scale(0.92 1)" font-size="7.07" text-anchor="start" font-weight="bold" fill="#111" stroke="#111" stroke-width="0.25">873K-Nb<tspan font-size="64%" dy="1.82">2</tspan><tspan dy="-1.82">O</tspan><tspan font-size="64%" dy="1.82">5</tspan></text>
<line x1="152.20" y1="57.65" x2="166.60" y2="57.65" stroke="#a830b8" stroke-width="1.3"/>
<text transform="translate(168.60 59.95) scale(0.92 1)" font-size="7.07" text-anchor="start" font-weight="bold" fill="#111" stroke="#111" stroke-width="0.25">973K-Nb<tspan font-size="64%" dy="1.82">2</tspan><tspan dy="-1.82">O</tspan><tspan font-size="64%" dy="1.82">5</tspan></text>
<rect x="241.90" y="3.60" width="186.10" height="149.20" stroke="#333" stroke-width="1.35" fill="none"/>
<line x1="240.20" y1="152.80" x2="241.90" y2="152.80" stroke="#333" stroke-width="1"/>
<line x1="239.00" y1="137.87" x2="241.90" y2="137.87" stroke="#333" stroke-width="1"/>
<line x1="240.20" y1="122.94" x2="241.90" y2="122.94" stroke="#333" stroke-width="1"/>
<line x1="239.00" y1="108.01" x2="241.90" y2="108.01" stroke="#333" stroke-width="1"/>
<line x1="240.20" y1="93.08" x2="241.90" y2="93.08" stroke="#333" stroke-width="1"/>
<line x1="239.00" y1="78.15" x2="241.90" y2="78.15" stroke="#333" stroke-width="1"/>
<line x1="240.20" y1="63.22" x2="241.90" y2="63.22" stroke="#333" stroke-width="1"/>
<line x1="239.00" y1="48.29" x2="241.90" y2="48.29" stroke="#333" stroke-width="1"/>
<line x1="240.20" y1="33.36" x2="241.90" y2="33.36" stroke="#333" stroke-width="1"/>
<line x1="239.00" y1="18.43" x2="241.90" y2="18.43" stroke="#333" stroke-width="1"/>
<line x1="240.20" y1="3.50" x2="241.90" y2="3.50" stroke="#333" stroke-width="1"/>
<text transform="translate(236.80 140.57) scale(0.92 1)" font-size="8.15" text-anchor="end" font-weight="bold" fill="#111" stroke="#111" stroke-width="0.25">5.0</text>
<text transform="translate(236.80 110.71) scale(0.92 1)" font-size="8.15" text-anchor="end" font-weight="bold" fill="#111" stroke="#111" stroke-width="0.25">5.5</text>
<text transform="translate(236.80 80.85) scale(0.92 1)" font-size="8.15" text-anchor="end" font-weight="bold" fill="#111" stroke="#111" stroke-width="0.25">6.0</text>
<text transform="translate(236.80 50.99) scale(0.92 1)" font-size="8.15" text-anchor="end" font-weight="bold" fill="#111" stroke="#111" stroke-width="0.25">6.5</text>
<text transform="translate(236.80 21.13) scale(0.92 1)" font-size="8.15" text-anchor="end" font-weight="bold" fill="#111" stroke="#111" stroke-width="0.25">7.0</text>
<line x1="257.50" y1="152.80" x2="257.50" y2="155.60" stroke="#333" stroke-width="1"/>
<line x1="288.50" y1="152.80" x2="288.50" y2="155.60" stroke="#333" stroke-width="1"/>
<line x1="319.50" y1="152.80" x2="319.50" y2="155.60" stroke="#333" stroke-width="1"/>
<line x1="350.50" y1="152.80" x2="350.50" y2="155.60" stroke="#333" stroke-width="1"/>
<line x1="381.50" y1="152.80" x2="381.50" y2="155.60" stroke="#333" stroke-width="1"/>
<line x1="412.50" y1="152.80" x2="412.50" y2="155.60" stroke="#333" stroke-width="1"/>
<text transform="translate(258.30 163.00) scale(0.92 1)" font-size="6.09" text-anchor="middle" font-weight="bold" fill="#111" stroke="#111" stroke-width="0.25">Nb<tspan font-size="64%" dy="1.57">2</tspan><tspan dy="-1.57">O</tspan><tspan font-size="64%" dy="1.57">5</tspan></text>
<text transform="translate(289.30 163.00) scale(0.92 1)" font-size="6.09" text-anchor="middle" font-weight="bold" fill="#111" stroke="#111" stroke-width="0.25">H<tspan font-size="64%" dy="1.57">2</tspan><tspan dy="-1.57">-</tspan>Nb<tspan font-size="64%" dy="1.57">2</tspan><tspan dy="-1.57">O</tspan><tspan font-size="64%" dy="1.57">5</tspan></text>
<text transform="translate(320.30 163.00) scale(0.92 1)" font-size="6.09" text-anchor="middle" font-weight="bold" fill="#111" stroke="#111" stroke-width="0.25">673K</text>
<text transform="translate(351.30 163.00) scale(0.92 1)" font-size="6.09" text-anchor="middle" font-weight="bold" fill="#111" stroke="#111" stroke-width="0.25">773K</text>
<text transform="translate(382.30 163.00) scale(0.92 1)" font-size="6.09" text-anchor="middle" font-weight="bold" fill="#111" stroke="#111" stroke-width="0.25">873K</text>
<text transform="translate(413.30 163.00) scale(0.92 1)" font-size="6.09" text-anchor="middle" font-weight="bold" fill="#111" stroke="#111" stroke-width="0.25">973K</text>
<text transform="translate(222.30 78.00) rotate(-90) scale(1.0 1)" font-size="9.00" text-anchor="middle" font-weight="bold" fill="#111" stroke="#111" stroke-width="0.25">CNs</text>
<text transform="translate(251.90 24.00) scale(1.0 1)" font-size="21.60" text-anchor="start" font-weight="bold" fill="#111" stroke="#111" stroke-width="0.25">b</text>
<line x1="257.50" y1="75.16" x2="257.50" y2="39.33" stroke="#505050" stroke-width="1"/>
<line x1="255.60" y1="75.16" x2="259.40" y2="75.16" stroke="#505050" stroke-width="1"/>
<line x1="255.60" y1="39.33" x2="259.40" y2="39.33" stroke="#505050" stroke-width="1"/>
<circle cx="257.50" cy="57.25" r="2.4" fill="#b00000"/>
<line x1="288.50" y1="124.73" x2="288.50" y2="75.22" stroke="#505050" stroke-width="1"/>
<line x1="286.60" y1="124.73" x2="290.40" y2="124.73" stroke="#505050" stroke-width="1"/>
<line x1="286.60" y1="75.22" x2="290.40" y2="75.22" stroke="#505050" stroke-width="1"/>
<circle cx="288.50" cy="100.07" r="2.4" fill="#b00000"/>
<line x1="319.50" y1="102.04" x2="319.50" y2="32.40" stroke="#505050" stroke-width="1"/>
<line x1="317.60" y1="102.04" x2="321.40" y2="102.04" stroke="#505050" stroke-width="1"/>
<line x1="317.60" y1="32.40" x2="321.40" y2="32.40" stroke="#505050" stroke-width="1"/>
<circle cx="319.50" cy="67.04" r="2.4" fill="#b00000"/>
<line x1="350.50" y1="102.64" x2="350.50" y2="20.22" stroke="#505050" stroke-width="1"/>
<line x1="348.60" y1="102.64" x2="352.40" y2="102.64" stroke="#505050" stroke-width="1"/>
<line x1="348.60" y1="20.22" x2="352.40" y2="20.22" stroke="#505050" stroke-width="1"/>
<circle cx="350.50" cy="61.43" r="2.4" fill="#b00000"/>
<line x1="381.50" y1="139.06" x2="381.50" y2="49.48" stroke="#505050" stroke-width="1"/>
<line x1="379.60" y1="139.06" x2="383.40" y2="139.06" stroke="#505050" stroke-width="1"/>
<line x1="379.60" y1="49.48" x2="383.40" y2="49.48" stroke="#505050" stroke-width="1"/>
<circle cx="381.50" cy="94.27" r="2.4" fill="#b00000"/>
<line x1="412.50" y1="118.16" x2="412.50" y2="29.78" stroke="#505050" stroke-width="1"/>
<line x1="410.60" y1="118.16" x2="414.40" y2="118.16" stroke="#505050" stroke-width="1"/>
<line x1="410.60" y1="29.78" x2="414.40" y2="29.78" stroke="#505050" stroke-width="1"/>
<circle cx="412.50" cy="73.97" r="2.4" fill="#b00000"/>
<circle cx="328.4" cy="10.2" r="2.1" fill="#b00000"/>
<text transform="translate(337.30 12.40) scale(1.0 1)" font-size="6.35" text-anchor="start" font-weight="bold" fill="#111" stroke="#111" stroke-width="0.25">Nb-O coordination numbers</text>
<g clip-path="url(#clipCU)">
<path d="M463.50,61.62 L521.00,61.62 L522.33,19.66 L579.31,19.66 L580.74,61.62 L675.50,61.62" fill="none" stroke="#4a8db0" stroke-width="1.2" stroke-linejoin="round" stroke-linecap="round"/>
<circle cx="463.5" cy="60.9" r="1.85" fill="#5a5a5a"/>
<circle cx="466.6" cy="59.4" r="1.85" fill="#5a5a5a"/>
<circle cx="469.6" cy="58.3" r="1.85" fill="#5a5a5a"/>
<circle cx="472.7" cy="58.0" r="1.85" fill="#5a5a5a"/>
<circle cx="475.8" cy="58.7" r="1.85" fill="#5a5a5a"/>
<circle cx="478.9" cy="59.7" r="1.85" fill="#5a5a5a"/>
<circle cx="481.9" cy="60.2" r="1.85" fill="#5a5a5a"/>
<circle cx="485.0" cy="59.4" r="1.85" fill="#5a5a5a"/>
<circle cx="488.1" cy="58.1" r="1.85" fill="#5a5a5a"/>
<circle cx="491.2" cy="57.3" r="1.85" fill="#5a5a5a"/>
<circle cx="494.2" cy="57.7" r="1.85" fill="#5a5a5a"/>
<circle cx="497.3" cy="59.3" r="1.85" fill="#5a5a5a"/>
<circle cx="500.4" cy="60.7" r="1.85" fill="#5a5a5a"/>
<circle cx="503.5" cy="60.7" r="1.85" fill="#5a5a5a"/>
<circle cx="506.5" cy="59.0" r="1.85" fill="#5a5a5a"/>
<circle cx="509.6" cy="56.5" r="1.85" fill="#5a5a5a"/>
<circle cx="512.7" cy="53.9" r="1.85" fill="#5a5a5a"/>
<circle cx="515.8" cy="53.2" r="1.85" fill="#5a5a5a"/>
<circle cx="518.8" cy="56.4" r="1.85" fill="#5a5a5a"/>
<circle cx="521.9" cy="54.0" r="1.85" fill="#5a5a5a"/>
<circle cx="525.0" cy="44.1" r="1.85" fill="#5a5a5a"/>
<circle cx="528.1" cy="36.9" r="1.85" fill="#5a5a5a"/>
<circle cx="531.1" cy="31.0" r="1.85" fill="#5a5a5a"/>
<circle cx="534.2" cy="26.8" r="1.85" fill="#5a5a5a"/>
<circle cx="537.3" cy="24.2" r="1.85" fill="#5a5a5a"/>
<circle cx="540.4" cy="23.3" r="1.85" fill="#5a5a5a"/>
<circle cx="543.4" cy="24.5" r="1.85" fill="#5a5a5a"/>
<circle cx="546.5" cy="26.8" r="1.85" fill="#5a5a5a"/>
<circle cx="549.6" cy="29.5" r="1.85" fill="#5a5a5a"/>
<circle cx="552.6" cy="32.7" r="1.85" fill="#5a5a5a"/>
<circle cx="555.7" cy="36.4" r="1.85" fill="#5a5a5a"/>
<circle cx="558.8" cy="39.1" r="1.85" fill="#5a5a5a"/>
<circle cx="561.9" cy="40.3" r="1.85" fill="#5a5a5a"/>
<circle cx="564.9" cy="41.4" r="1.85" fill="#5a5a5a"/>
<circle cx="568.0" cy="43.9" r="1.85" fill="#5a5a5a"/>
<circle cx="571.1" cy="47.8" r="1.85" fill="#5a5a5a"/>
<circle cx="574.2" cy="53.0" r="1.85" fill="#5a5a5a"/>
<circle cx="577.2" cy="56.7" r="1.85" fill="#5a5a5a"/>
<circle cx="580.3" cy="56.2" r="1.85" fill="#5a5a5a"/>
<circle cx="583.4" cy="52.8" r="1.85" fill="#5a5a5a"/>
<circle cx="586.5" cy="49.0" r="1.85" fill="#5a5a5a"/>
<circle cx="589.5" cy="45.9" r="1.85" fill="#5a5a5a"/>
<circle cx="592.6" cy="43.8" r="1.85" fill="#5a5a5a"/>
<circle cx="595.7" cy="42.9" r="1.85" fill="#5a5a5a"/>
<circle cx="598.8" cy="42.9" r="1.85" fill="#5a5a5a"/>
<circle cx="601.8" cy="43.9" r="1.85" fill="#5a5a5a"/>
<circle cx="604.9" cy="45.6" r="1.85" fill="#5a5a5a"/>
<circle cx="608.0" cy="47.7" r="1.85" fill="#5a5a5a"/>
<circle cx="611.1" cy="49.2" r="1.85" fill="#5a5a5a"/>
<circle cx="614.1" cy="49.3" r="1.85" fill="#5a5a5a"/>
<circle cx="617.2" cy="47.9" r="1.85" fill="#5a5a5a"/>
<circle cx="620.3" cy="46.5" r="1.85" fill="#5a5a5a"/>
<circle cx="623.3" cy="46.4" r="1.85" fill="#5a5a5a"/>
<circle cx="626.4" cy="48.1" r="1.85" fill="#5a5a5a"/>
<circle cx="629.5" cy="51.2" r="1.85" fill="#5a5a5a"/>
<circle cx="632.6" cy="54.7" r="1.85" fill="#5a5a5a"/>
<circle cx="635.6" cy="57.1" r="1.85" fill="#5a5a5a"/>
<circle cx="638.7" cy="57.0" r="1.85" fill="#5a5a5a"/>
<circle cx="641.8" cy="54.7" r="1.85" fill="#5a5a5a"/>
<circle cx="644.9" cy="51.9" r="1.85" fill="#5a5a5a"/>
<circle cx="647.9" cy="49.8" r="1.85" fill="#5a5a5a"/>
<circle cx="651.0" cy="49.0" r="1.85" fill="#5a5a5a"/>
<circle cx="654.1" cy="49.6" r="1.85" fill="#5a5a5a"/>
<circle cx="657.2" cy="50.9" r="1.85" fill="#5a5a5a"/>
<circle cx="660.2" cy="52.3" r="1.85" fill="#5a5a5a"/>
<circle cx="663.3" cy="53.8" r="1.85" fill="#5a5a5a"/>
<circle cx="666.4" cy="55.5" r="1.85" fill="#5a5a5a"/>
<circle cx="669.5" cy="57.2" r="1.85" fill="#5a5a5a"/>
<circle cx="672.5" cy="58.6" r="1.85" fill="#5a5a5a"/>
<circle cx="675.6" cy="59.5" r="1.85" fill="#5a5a5a"/>
<path d="M463.50,59.88 L464.03,59.57 L464.56,59.27 L465.09,58.96 L465.63,58.67 L466.16,58.39 L466.69,58.12 L467.22,57.87 L467.75,57.63 L468.28,57.42 L468.81,57.23 L469.34,57.07 L469.88,56.95 L470.41,56.85 L470.94,56.79 L471.47,56.77 L472.00,56.79 L472.53,56.85 L473.06,56.96 L473.60,57.11 L474.13,57.29 L474.66,57.50 L475.19,57.74 L475.72,58.00 L476.25,58.27 L476.78,58.55 L477.31,58.82 L477.85,59.10 L478.38,59.37 L478.91,59.62 L479.44,59.85 L479.97,60.06 L480.50,60.24 L481.03,60.37 L481.57,60.47 L482.10,60.52 L482.63,60.52 L483.16,60.45 L483.69,60.33 L484.22,60.15 L484.75,59.92 L485.28,59.65 L485.82,59.35 L486.35,59.02 L486.88,58.68 L487.41,58.32 L487.94,57.96 L488.47,57.60 L489.00,57.25 L489.54,56.92 L490.07,56.62 L490.60,56.35 L491.13,56.12 L491.66,55.94 L492.19,55.82 L492.72,55.75 L493.25,55.76 L493.79,55.85 L494.32,56.02 L494.85,56.25 L495.38,56.55 L495.91,56.90 L496.44,57.28 L496.97,57.68 L497.51,58.10 L498.04,58.51 L498.57,58.92 L499.10,59.30 L499.63,59.65 L500.16,59.96 L500.69,60.20 L501.22,60.38 L501.76,60.47 L502.29,60.48 L502.82,60.40 L503.35,60.26 L503.88,60.04 L504.41,59.76 L504.94,59.44 L505.47,59.06 L506.01,58.65 L506.54,58.22 L507.07,57.76 L507.60,57.28 L508.13,56.80 L508.66,56.32 L509.19,55.85 L509.73,55.39 L510.26,54.96 L510.79,54.56 L511.32,54.20 L511.85,53.88 L512.38,53.61 L512.91,53.41 L513.44,53.28 L513.98,53.22 L514.51,53.24 L515.04,53.35 L515.57,53.52 L516.10,53.75 L516.63,54.01 L517.16,54.28 L517.70,54.55 L518.23,54.80 L518.76,55.01 L519.29,55.17 L519.82,55.25 L520.35,55.24 L520.88,55.13 L521.41,54.91 L521.95,54.59 L522.48,54.15 L523.01,53.60 L523.54,52.92 L524.07,52.13 L524.60,51.21 L525.13,50.18 L525.67,49.04 L526.20,47.81 L526.73,46.50 L527.26,45.14 L527.79,43.74 L528.32,42.31 L528.85,40.87 L529.38,39.44 L529.92,38.03 L530.45,36.66 L530.98,35.32 L531.51,34.03 L532.04,32.78 L532.57,31.60 L533.10,30.46 L533.64,29.40 L534.17,28.39 L534.70,27.47 L535.23,26.61 L535.76,25.84 L536.29,25.15 L536.82,24.54 L537.35,24.01 L537.89,23.56 L538.42,23.19 L538.95,22.91 L539.48,22.71 L540.01,22.58 L540.54,22.55 L541.07,22.59 L541.61,22.71 L542.14,22.89 L542.67,23.14 L543.20,23.45 L543.73,23.81 L544.26,24.21 L544.79,24.66 L545.32,25.14 L545.86,25.64 L546.39,26.18 L546.92,26.73 L547.45,27.30 L547.98,27.89 L548.51,28.50 L549.04,29.12 L549.58,29.74 L550.11,30.38 L550.64,31.02 L551.17,31.66 L551.70,32.31 L552.23,32.95 L552.76,33.58 L553.29,34.21 L553.83,34.82 L554.36,35.41 L554.89,35.98 L555.42,36.52 L555.95,37.02 L556.48,37.49 L557.01,37.91 L557.55,38.28 L558.08,38.60 L558.61,38.87 L559.14,39.09 L559.67,39.28 L560.20,39.43 L560.73,39.56 L561.26,39.68 L561.80,39.79 L562.33,39.91 L562.86,40.06 L563.39,40.24 L563.92,40.47 L564.45,40.76 L564.98,41.13 L565.52,41.60 L566.05,42.15 L566.58,42.78 L567.11,43.48 L567.64,44.24 L568.17,45.04 L568.70,45.87 L569.23,46.72 L569.77,47.58 L570.30,48.44 L570.83,49.30 L571.36,50.16 L571.89,51.03 L572.42,51.91 L572.95,52.80 L573.48,53.69 L574.02,54.58 L574.55,55.45 L575.08,56.25 L575.61,56.97 L576.14,57.58 L576.67,58.05 L577.20,58.36 L577.74,58.47 L578.27,58.41 L578.80,58.19 L579.33,57.85 L579.86,57.43 L580.39,56.96 L580.92,56.48 L581.45,56.02 L581.99,55.61 L582.52,55.28 L583.05,55.01 L583.58,54.81 L584.11,54.67 L584.64,54.60 L585.17,54.59 L585.71,54.64 L586.24,54.74 L586.77,54.91 L587.30,55.12 L587.83,55.36 L588.36,55.64 L588.89,55.93 L589.42,56.24 L589.96,56.56 L590.49,56.87 L591.02,57.17 L591.55,57.44 L592.08,57.70 L592.61,57.93 L593.14,58.14 L593.68,58.32 L594.21,58.48 L594.74,58.61 L595.27,58.72 L595.80,58.80 L596.33,58.86 L596.86,58.89 L597.39,58.89 L597.93,58.88 L598.46,58.85 L598.99,58.81 L599.52,58.75 L600.05,58.70 L600.58,58.64 L601.11,58.58 L601.65,58.52 L602.18,58.48 L602.71,58.45 L603.24,58.43 L603.77,58.43 L604.30,58.46 L604.83,58.50 L605.36,58.57 L605.90,58.65 L606.43,58.74 L606.96,58.85 L607.49,58.95 L608.02,59.06 L608.55,59.17 L609.08,59.27 L609.62,59.37 L610.15,59.45 L610.68,59.52 L611.21,59.56 L611.74,59.59 L612.27,59.59 L612.80,59.57 L613.33,59.53 L613.87,59.47 L614.40,59.40 L614.93,59.31 L615.46,59.23 L615.99,59.13 L616.52,59.04 L617.05,58.96 L617.59,58.88 L618.12,58.82 L618.65,58.77 L619.18,58.73 L619.71,58.72 L620.24,58.74 L620.77,58.78 L621.30,58.84 L621.84,58.92 L622.37,59.02 L622.90,59.13 L623.43,59.24 L623.96,59.37 L624.49,59.49 L625.02,59.62 L625.56,59.75 L626.09,59.86 L626.62,59.97 L627.15,60.07 L627.68,60.16 L628.21,60.22 L628.74,60.27 L629.27,60.30 L629.81,60.32 L630.34,60.33 L630.87,60.32 L631.40,60.31 L631.93,60.28 L632.46,60.25 L632.99,60.21 L633.53,60.17 L634.06,60.13 L634.59,60.09 L635.12,60.05 L635.65,60.00 L636.18,59.97 L636.71,59.93 L637.24,59.91 L637.78,59.89 L638.31,59.88 L638.84,59.89 L639.37,59.90 L639.90,59.92 L640.43,59.95 L640.96,59.99 L641.49,60.04 L642.03,60.09 L642.56,60.14 L643.09,60.20 L643.62,60.26 L644.15,60.32 L644.68,60.38 L645.21,60.44 L645.75,60.50 L646.28,60.56 L646.81,60.61 L647.34,60.65 L647.87,60.69 L648.40,60.72 L648.93,60.75 L649.46,60.76 L650.00,60.77 L650.53,60.77 L651.06,60.76 L651.59,60.75 L652.12,60.73 L652.65,60.71 L653.18,60.68 L653.72,60.65 L654.25,60.63 L654.78,60.60 L655.31,60.57 L655.84,60.54 L656.37,60.51 L656.90,60.49 L657.43,60.47 L657.97,60.46 L658.50,60.45 L659.03,60.45 L659.56,60.46 L660.09,60.48 L660.62,60.50 L661.15,60.53 L661.69,60.57 L662.22,60.61 L662.75,60.65 L663.28,60.70 L663.81,60.75 L664.34,60.80 L664.87,60.85 L665.40,60.89 L665.94,60.94 L666.47,60.98 L667.00,61.01 L667.53,61.04 L668.06,61.06 L668.59,61.08 L669.12,61.09 L669.66,61.09 L670.19,61.09 L670.72,61.08 L671.25,61.07 L671.78,61.06 L672.31,61.04 L672.84,61.02 L673.37,61.00 L673.91,60.98 L674.44,60.95 L674.97,60.92 L675.50,60.90" fill="none" stroke="#c0141c" stroke-width="1.35" stroke-linejoin="round" stroke-linecap="round"/>
</g>
<g clip-path="url(#clipCL)">
<path d="M463.50,117.95 L521.00,117.95 L522.33,91.53 L579.31,91.53 L580.74,117.95 L675.50,117.95" fill="none" stroke="#4f92b8" stroke-width="1.4" stroke-linejoin="round" stroke-linecap="round"/>
<circle cx="463.5" cy="118.0" r="1.9" fill="#5a5a5a"/>
<circle cx="464.8" cy="117.5" r="1.9" fill="#5a5a5a"/>
<circle cx="466.1" cy="117.2" r="1.9" fill="#5a5a5a"/>
<circle cx="467.5" cy="116.9" r="1.9" fill="#5a5a5a"/>
<circle cx="468.8" cy="116.8" r="1.9" fill="#5a5a5a"/>
<circle cx="470.1" cy="116.8" r="1.9" fill="#5a5a5a"/>
<circle cx="471.4" cy="117.1" r="1.9" fill="#5a5a5a"/>
<circle cx="472.8" cy="117.5" r="1.9" fill="#5a5a5a"/>
<circle cx="474.1" cy="118.1" r="1.9" fill="#5a5a5a"/>
<circle cx="475.4" cy="118.6" r="1.9" fill="#5a5a5a"/>
<circle cx="476.8" cy="119.0" r="1.9" fill="#5a5a5a"/>
<circle cx="478.1" cy="119.3" r="1.9" fill="#5a5a5a"/>
<circle cx="479.4" cy="119.3" r="1.9" fill="#5a5a5a"/>
<circle cx="480.7" cy="119.0" r="1.9" fill="#5a5a5a"/>
<circle cx="482.1" cy="118.6" r="1.9" fill="#5a5a5a"/>
<circle cx="483.4" cy="118.2" r="1.9" fill="#5a5a5a"/>
<circle cx="484.7" cy="117.8" r="1.9" fill="#5a5a5a"/>
<circle cx="486.0" cy="117.5" r="1.9" fill="#5a5a5a"/>
<circle cx="487.4" cy="117.5" r="1.9" fill="#5a5a5a"/>
<circle cx="488.7" cy="117.9" r="1.9" fill="#5a5a5a"/>
<circle cx="490.0" cy="118.4" r="1.9" fill="#5a5a5a"/>
<circle cx="491.3" cy="119.0" r="1.9" fill="#5a5a5a"/>
<circle cx="492.6" cy="119.7" r="1.9" fill="#5a5a5a"/>
<circle cx="494.0" cy="120.2" r="1.9" fill="#5a5a5a"/>
<circle cx="495.3" cy="120.6" r="1.9" fill="#5a5a5a"/>
<circle cx="496.6" cy="120.8" r="1.9" fill="#5a5a5a"/>
<circle cx="497.9" cy="120.5" r="1.9" fill="#5a5a5a"/>
<circle cx="499.3" cy="120.0" r="1.9" fill="#5a5a5a"/>
<circle cx="500.6" cy="119.3" r="1.9" fill="#5a5a5a"/>
<circle cx="501.9" cy="118.6" r="1.9" fill="#5a5a5a"/>
<circle cx="503.2" cy="118.0" r="1.9" fill="#5a5a5a"/>
<circle cx="504.6" cy="117.9" r="1.9" fill="#5a5a5a"/>
<circle cx="505.9" cy="118.3" r="1.9" fill="#5a5a5a"/>
<circle cx="507.2" cy="119.1" r="1.9" fill="#5a5a5a"/>
<circle cx="508.6" cy="120.1" r="1.9" fill="#5a5a5a"/>
<circle cx="509.9" cy="121.0" r="1.9" fill="#5a5a5a"/>
<circle cx="511.2" cy="121.5" r="1.9" fill="#5a5a5a"/>
<circle cx="512.5" cy="121.5" r="1.9" fill="#5a5a5a"/>
<circle cx="513.9" cy="121.0" r="1.9" fill="#5a5a5a"/>
<circle cx="515.2" cy="120.1" r="1.9" fill="#5a5a5a"/>
<circle cx="516.5" cy="119.6" r="1.9" fill="#5a5a5a"/>
<circle cx="517.8" cy="119.6" r="1.9" fill="#5a5a5a"/>
<circle cx="519.1" cy="120.7" r="1.9" fill="#5a5a5a"/>
<circle cx="520.5" cy="122.5" r="1.9" fill="#5a5a5a"/>
<circle cx="521.8" cy="124.3" r="1.9" fill="#5a5a5a"/>
<circle cx="523.1" cy="125.4" r="1.9" fill="#5a5a5a"/>
<circle cx="524.5" cy="125.2" r="1.9" fill="#5a5a5a"/>
<circle cx="525.8" cy="123.3" r="1.9" fill="#5a5a5a"/>
<circle cx="527.1" cy="119.8" r="1.9" fill="#5a5a5a"/>
<circle cx="528.4" cy="115.1" r="1.9" fill="#5a5a5a"/>
<circle cx="529.8" cy="109.7" r="1.9" fill="#5a5a5a"/>
<circle cx="531.1" cy="104.4" r="1.9" fill="#5a5a5a"/>
<circle cx="532.4" cy="99.9" r="1.9" fill="#5a5a5a"/>
<circle cx="533.7" cy="96.7" r="1.9" fill="#5a5a5a"/>
<circle cx="535.0" cy="95.0" r="1.9" fill="#5a5a5a"/>
<circle cx="536.4" cy="94.8" r="1.9" fill="#5a5a5a"/>
<circle cx="537.7" cy="96.4" r="1.9" fill="#5a5a5a"/>
<circle cx="539.0" cy="99.3" r="1.9" fill="#5a5a5a"/>
<circle cx="540.4" cy="103.4" r="1.9" fill="#5a5a5a"/>
<circle cx="541.7" cy="108.2" r="1.9" fill="#5a5a5a"/>
<circle cx="543.0" cy="113.3" r="1.9" fill="#5a5a5a"/>
<circle cx="544.3" cy="118.5" r="1.9" fill="#5a5a5a"/>
<circle cx="545.6" cy="123.4" r="1.9" fill="#5a5a5a"/>
<circle cx="547.0" cy="127.6" r="1.9" fill="#5a5a5a"/>
<circle cx="548.3" cy="131.0" r="1.9" fill="#5a5a5a"/>
<circle cx="549.6" cy="133.5" r="1.9" fill="#5a5a5a"/>
<circle cx="551.0" cy="135.0" r="1.9" fill="#5a5a5a"/>
<circle cx="552.3" cy="135.3" r="1.9" fill="#5a5a5a"/>
<circle cx="553.6" cy="134.7" r="1.9" fill="#5a5a5a"/>
<circle cx="554.9" cy="133.1" r="1.9" fill="#5a5a5a"/>
<circle cx="556.2" cy="131.0" r="1.9" fill="#5a5a5a"/>
<circle cx="557.6" cy="128.3" r="1.9" fill="#5a5a5a"/>
<circle cx="558.9" cy="125.4" r="1.9" fill="#5a5a5a"/>
<circle cx="560.2" cy="122.4" r="1.9" fill="#5a5a5a"/>
<circle cx="561.5" cy="119.5" r="1.9" fill="#5a5a5a"/>
<circle cx="562.9" cy="116.7" r="1.9" fill="#5a5a5a"/>
<circle cx="564.2" cy="114.2" r="1.9" fill="#5a5a5a"/>
<circle cx="565.5" cy="112.1" r="1.9" fill="#5a5a5a"/>
<circle cx="566.9" cy="110.5" r="1.9" fill="#5a5a5a"/>
<circle cx="568.2" cy="109.6" r="1.9" fill="#5a5a5a"/>
<circle cx="569.5" cy="109.4" r="1.9" fill="#5a5a5a"/>
<circle cx="570.8" cy="110.0" r="1.9" fill="#5a5a5a"/>
<circle cx="572.1" cy="111.6" r="1.9" fill="#5a5a5a"/>
<circle cx="573.5" cy="114.1" r="1.9" fill="#5a5a5a"/>
<circle cx="574.8" cy="117.2" r="1.9" fill="#5a5a5a"/>
<circle cx="576.1" cy="119.8" r="1.9" fill="#5a5a5a"/>
<circle cx="577.5" cy="121.0" r="1.9" fill="#5a5a5a"/>
<circle cx="578.8" cy="120.2" r="1.9" fill="#5a5a5a"/>
<circle cx="580.1" cy="118.1" r="1.9" fill="#5a5a5a"/>
<circle cx="581.4" cy="115.6" r="1.9" fill="#5a5a5a"/>
<circle cx="582.8" cy="113.9" r="1.9" fill="#5a5a5a"/>
<circle cx="584.1" cy="112.8" r="1.9" fill="#5a5a5a"/>
<circle cx="585.4" cy="112.0" r="1.9" fill="#5a5a5a"/>
<circle cx="586.7" cy="111.1" r="1.9" fill="#5a5a5a"/>
<circle cx="588.0" cy="110.7" r="1.9" fill="#5a5a5a"/>
<circle cx="589.4" cy="111.7" r="1.9" fill="#5a5a5a"/>
<circle cx="590.7" cy="114.1" r="1.9" fill="#5a5a5a"/>
<circle cx="592.0" cy="117.3" r="1.9" fill="#5a5a5a"/>
<circle cx="593.4" cy="120.7" r="1.9" fill="#5a5a5a"/>
<circle cx="594.7" cy="123.9" r="1.9" fill="#5a5a5a"/>
<circle cx="596.0" cy="126.6" r="1.9" fill="#5a5a5a"/>
<circle cx="597.3" cy="128.6" r="1.9" fill="#5a5a5a"/>
<circle cx="598.6" cy="129.5" r="1.9" fill="#5a5a5a"/>
<circle cx="600.0" cy="129.1" r="1.9" fill="#5a5a5a"/>
<circle cx="601.3" cy="127.6" r="1.9" fill="#5a5a5a"/>
<circle cx="602.6" cy="125.3" r="1.9" fill="#5a5a5a"/>
<circle cx="604.0" cy="122.6" r="1.9" fill="#5a5a5a"/>
<circle cx="605.3" cy="120.1" r="1.9" fill="#5a5a5a"/>
<circle cx="606.6" cy="117.8" r="1.9" fill="#5a5a5a"/>
<circle cx="607.9" cy="115.8" r="1.9" fill="#5a5a5a"/>
<circle cx="609.2" cy="114.1" r="1.9" fill="#5a5a5a"/>
<circle cx="610.6" cy="112.7" r="1.9" fill="#5a5a5a"/>
<circle cx="611.9" cy="111.7" r="1.9" fill="#5a5a5a"/>
<circle cx="613.2" cy="111.0" r="1.9" fill="#5a5a5a"/>
<circle cx="614.5" cy="110.6" r="1.9" fill="#5a5a5a"/>
<circle cx="615.9" cy="110.5" r="1.9" fill="#5a5a5a"/>
<circle cx="617.2" cy="110.6" r="1.9" fill="#5a5a5a"/>
<circle cx="618.5" cy="111.1" r="1.9" fill="#5a5a5a"/>
<circle cx="619.9" cy="112.1" r="1.9" fill="#5a5a5a"/>
<circle cx="621.2" cy="113.9" r="1.9" fill="#5a5a5a"/>
<circle cx="622.5" cy="116.4" r="1.9" fill="#5a5a5a"/>
<circle cx="623.8" cy="119.4" r="1.9" fill="#5a5a5a"/>
<circle cx="625.1" cy="122.2" r="1.9" fill="#5a5a5a"/>
<circle cx="626.5" cy="124.5" r="1.9" fill="#5a5a5a"/>
<circle cx="627.8" cy="125.5" r="1.9" fill="#5a5a5a"/>
<circle cx="629.1" cy="125.1" r="1.9" fill="#5a5a5a"/>
<circle cx="630.5" cy="123.8" r="1.9" fill="#5a5a5a"/>
<circle cx="631.8" cy="121.9" r="1.9" fill="#5a5a5a"/>
<circle cx="633.1" cy="119.9" r="1.9" fill="#5a5a5a"/>
<circle cx="634.4" cy="118.0" r="1.9" fill="#5a5a5a"/>
<circle cx="635.8" cy="116.5" r="1.9" fill="#5a5a5a"/>
<circle cx="637.1" cy="115.8" r="1.9" fill="#5a5a5a"/>
<circle cx="638.4" cy="116.0" r="1.9" fill="#5a5a5a"/>
<circle cx="639.7" cy="117.1" r="1.9" fill="#5a5a5a"/>
<circle cx="641.0" cy="118.9" r="1.9" fill="#5a5a5a"/>
<circle cx="642.4" cy="121.1" r="1.9" fill="#5a5a5a"/>
<circle cx="643.7" cy="123.0" r="1.9" fill="#5a5a5a"/>
<circle cx="645.0" cy="124.1" r="1.9" fill="#5a5a5a"/>
<circle cx="646.4" cy="123.8" r="1.9" fill="#5a5a5a"/>
<circle cx="647.7" cy="122.3" r="1.9" fill="#5a5a5a"/>
<circle cx="649.0" cy="120.0" r="1.9" fill="#5a5a5a"/>
<circle cx="650.3" cy="117.4" r="1.9" fill="#5a5a5a"/>
<circle cx="651.6" cy="115.0" r="1.9" fill="#5a5a5a"/>
<circle cx="653.0" cy="113.0" r="1.9" fill="#5a5a5a"/>
<circle cx="654.3" cy="111.8" r="1.9" fill="#5a5a5a"/>
<circle cx="655.6" cy="111.8" r="1.9" fill="#5a5a5a"/>
<circle cx="657.0" cy="112.9" r="1.9" fill="#5a5a5a"/>
<circle cx="658.3" cy="114.8" r="1.9" fill="#5a5a5a"/>
<circle cx="659.6" cy="117.1" r="1.9" fill="#5a5a5a"/>
<circle cx="660.9" cy="119.4" r="1.9" fill="#5a5a5a"/>
<circle cx="662.2" cy="121.3" r="1.9" fill="#5a5a5a"/>
<circle cx="663.6" cy="122.2" r="1.9" fill="#5a5a5a"/>
<circle cx="664.9" cy="122.0" r="1.9" fill="#5a5a5a"/>
<circle cx="666.2" cy="121.1" r="1.9" fill="#5a5a5a"/>
<circle cx="667.5" cy="119.8" r="1.9" fill="#5a5a5a"/>
<circle cx="668.9" cy="118.5" r="1.9" fill="#5a5a5a"/>
<circle cx="670.2" cy="117.5" r="1.9" fill="#5a5a5a"/>
<circle cx="671.5" cy="116.9" r="1.9" fill="#5a5a5a"/>
<circle cx="672.9" cy="116.8" r="1.9" fill="#5a5a5a"/>
<circle cx="674.2" cy="117.0" r="1.9" fill="#5a5a5a"/>
<circle cx="675.5" cy="117.5" r="1.9" fill="#5a5a5a"/>
<path d="M463.50,117.49 L464.03,117.31 L464.56,117.12 L465.09,116.94 L465.63,116.77 L466.16,116.62 L466.69,116.48 L467.22,116.36 L467.75,116.26 L468.28,116.19 L468.81,116.14 L469.34,116.13 L469.88,116.16 L470.41,116.22 L470.94,116.33 L471.47,116.47 L472.00,116.64 L472.53,116.83 L473.06,117.04 L473.60,117.27 L474.13,117.50 L474.66,117.73 L475.19,117.95 L475.72,118.16 L476.25,118.36 L476.78,118.53 L477.31,118.67 L477.85,118.78 L478.38,118.84 L478.91,118.86 L479.44,118.83 L479.97,118.75 L480.50,118.63 L481.03,118.49 L481.57,118.32 L482.10,118.14 L482.63,117.95 L483.16,117.76 L483.69,117.57 L484.22,117.40 L484.75,117.26 L485.28,117.14 L485.82,117.06 L486.35,117.03 L486.88,117.04 L487.41,117.12 L487.94,117.24 L488.47,117.41 L489.00,117.62 L489.54,117.86 L490.07,118.13 L490.60,118.42 L491.13,118.72 L491.66,119.03 L492.19,119.34 L492.72,119.64 L493.25,119.93 L493.79,120.20 L494.32,120.45 L494.85,120.66 L495.38,120.84 L495.91,120.97 L496.44,121.05 L496.97,121.08 L497.51,121.04 L498.04,120.93 L498.57,120.77 L499.10,120.57 L499.63,120.34 L500.16,120.09 L500.69,119.82 L501.22,119.57 L501.76,119.33 L502.29,119.12 L502.82,118.94 L503.35,118.82 L503.88,118.77 L504.41,118.78 L504.94,118.89 L505.47,119.09 L506.01,119.36 L506.54,119.70 L507.07,120.09 L507.60,120.50 L508.13,120.94 L508.66,121.37 L509.19,121.79 L509.73,122.18 L510.26,122.52 L510.79,122.81 L511.32,123.01 L511.85,123.13 L512.38,123.13 L512.91,123.03 L513.44,122.83 L513.98,122.57 L514.51,122.26 L515.04,121.92 L515.57,121.58 L516.10,121.27 L516.63,121.00 L517.16,120.80 L517.70,120.69 L518.23,120.70 L518.76,120.82 L519.29,121.03 L519.82,121.29 L520.35,121.59 L520.88,121.87 L521.41,122.12 L521.95,122.29 L522.48,122.36 L523.01,122.29 L523.54,122.05 L524.07,121.63 L524.60,121.03 L525.13,120.26 L525.67,119.33 L526.20,118.26 L526.73,117.05 L527.26,115.72 L527.79,114.27 L528.32,112.74 L528.85,111.13 L529.38,109.49 L529.92,107.81 L530.45,106.14 L530.98,104.48 L531.51,102.86 L532.04,101.31 L532.57,99.85 L533.10,98.52 L533.64,97.34 L534.17,96.34 L534.70,95.55 L535.23,95.01 L535.76,94.74 L536.29,94.77 L536.82,95.10 L537.35,95.73 L537.89,96.62 L538.42,97.74 L538.95,99.06 L539.48,100.57 L540.01,102.24 L540.54,104.04 L541.07,105.94 L541.61,107.93 L542.14,109.98 L542.67,112.06 L543.20,114.16 L543.73,116.26 L544.26,118.32 L544.79,120.34 L545.32,122.28 L545.86,124.12 L546.39,125.84 L546.92,127.45 L547.45,128.93 L547.98,130.28 L548.51,131.48 L549.04,132.53 L549.58,133.43 L550.11,134.17 L550.64,134.73 L551.17,135.12 L551.70,135.32 L552.23,135.34 L552.76,135.19 L553.29,134.89 L553.83,134.44 L554.36,133.86 L554.89,133.17 L555.42,132.37 L555.95,131.48 L556.48,130.51 L557.01,129.48 L557.55,128.40 L558.08,127.28 L558.61,126.12 L559.14,124.94 L559.67,123.75 L560.20,122.55 L560.73,121.35 L561.26,120.16 L561.80,118.98 L562.33,117.83 L562.86,116.71 L563.39,115.63 L563.92,114.60 L564.45,113.63 L564.98,112.73 L565.52,111.92 L566.05,111.21 L566.58,110.60 L567.11,110.11 L567.64,109.75 L568.17,109.53 L568.70,109.46 L569.23,109.55 L569.77,109.79 L570.30,110.17 L570.83,110.68 L571.36,111.32 L571.89,112.07 L572.42,112.94 L572.95,113.91 L573.48,114.95 L574.02,116.04 L574.55,117.12 L575.08,118.15 L575.61,119.08 L576.14,119.89 L576.67,120.52 L577.20,120.94 L577.74,121.10 L578.27,121.00 L578.80,120.70 L579.33,120.23 L579.86,119.64 L580.39,118.97 L580.92,118.26 L581.45,117.57 L581.99,116.92 L582.52,116.32 L583.05,115.79 L583.58,115.36 L584.11,115.02 L584.64,114.81 L585.17,114.74 L585.71,114.80 L586.24,114.99 L586.77,115.29 L587.30,115.70 L587.83,116.20 L588.36,116.78 L588.89,117.43 L589.42,118.13 L589.96,118.83 L590.49,119.50 L591.02,120.10 L591.55,120.60 L592.08,120.96 L592.61,121.13 L593.14,121.13 L593.68,120.98 L594.21,120.71 L594.74,120.35 L595.27,119.93 L595.80,119.48 L596.33,119.03 L596.86,118.60 L597.39,118.20 L597.93,117.86 L598.46,117.55 L598.99,117.30 L599.52,117.10 L600.05,116.96 L600.58,116.87 L601.11,116.85 L601.65,116.89 L602.18,116.98 L602.71,117.13 L603.24,117.33 L603.77,117.57 L604.30,117.85 L604.83,118.16 L605.36,118.50 L605.90,118.84 L606.43,119.15 L606.96,119.42 L607.49,119.63 L608.02,119.75 L608.55,119.77 L609.08,119.69 L609.62,119.53 L610.15,119.31 L610.68,119.05 L611.21,118.77 L611.74,118.49 L612.27,118.22 L612.80,117.99 L613.33,117.79 L613.87,117.63 L614.40,117.51 L614.93,117.44 L615.46,117.42 L615.99,117.47 L616.52,117.58 L617.05,117.74 L617.59,117.94 L618.12,118.15 L618.65,118.37 L619.18,118.56 L619.71,118.73 L620.24,118.83 L620.77,118.87 L621.30,118.81 L621.84,118.68 L622.37,118.50 L622.90,118.28 L623.43,118.05 L623.96,117.83 L624.49,117.64 L625.02,117.51 L625.56,117.46 L626.09,117.48 L626.62,117.55 L627.15,117.67 L627.68,117.81 L628.21,117.97 L628.74,118.12 L629.27,118.25 L629.81,118.35 L630.34,118.40 L630.87,118.39 L631.40,118.32 L631.93,118.21 L632.46,118.06 L632.99,117.90 L633.53,117.73 L634.06,117.56 L634.59,117.41 L635.12,117.30 L635.65,117.23 L636.18,117.21 L636.71,117.25 L637.24,117.32 L637.78,117.42 L638.31,117.53 L638.84,117.65 L639.37,117.77 L639.90,117.86 L640.43,117.93 L640.96,117.95 L641.49,117.92 L642.03,117.85 L642.56,117.75 L643.09,117.62 L643.62,117.48 L644.15,117.35 L644.68,117.22 L645.21,117.12 L645.75,117.06 L646.28,117.04 L646.81,117.07 L647.34,117.16 L647.87,117.28 L648.40,117.43 L648.93,117.58 L649.46,117.74 L650.00,117.89 L650.53,118.01 L651.06,118.09 L651.59,118.13 L652.12,118.11 L652.65,118.04 L653.18,117.92 L653.72,117.78 L654.25,117.63 L654.78,117.47 L655.31,117.32 L655.84,117.19 L656.37,117.09 L656.90,117.04 L657.43,117.04 L657.97,117.09 L658.50,117.18 L659.03,117.29 L659.56,117.42 L660.09,117.56 L660.62,117.69 L661.15,117.81 L661.69,117.90 L662.22,117.95 L662.75,117.96 L663.28,117.92 L663.81,117.86 L664.34,117.76 L664.87,117.65 L665.40,117.52 L665.94,117.39 L666.47,117.26 L667.00,117.14 L667.53,117.04 L668.06,116.96 L668.59,116.91 L669.12,116.87 L669.66,116.85 L670.19,116.86 L670.72,116.87 L671.25,116.91 L671.78,116.95 L672.31,117.01 L672.84,117.07 L673.37,117.15 L673.91,117.23 L674.44,117.31 L674.97,117.40 L675.50,117.49" fill="none" stroke="#c0141c" stroke-width="1.4" stroke-linejoin="round" stroke-linecap="round"/>
</g>
<rect x="463.50" y="3.75" width="212.00" height="72.35" stroke="#111" stroke-width="1.1" fill="none"/>
<rect x="463.50" y="81.50" width="212.00" height="72.90" stroke="#111" stroke-width="1.1" fill="none"/>
<line x1="461.70" y1="76.09" x2="463.50" y2="76.09" stroke="#111" stroke-width="1"/>
<line x1="460.10" y1="61.62" x2="463.50" y2="61.62" stroke="#111" stroke-width="1"/>
<line x1="461.70" y1="47.15" x2="463.50" y2="47.15" stroke="#111" stroke-width="1"/>
<line x1="460.10" y1="32.68" x2="463.50" y2="32.68" stroke="#111" stroke-width="1"/>
<line x1="461.70" y1="18.21" x2="463.50" y2="18.21" stroke="#111" stroke-width="1"/>
<line x1="460.10" y1="3.74" x2="463.50" y2="3.74" stroke="#111" stroke-width="1"/>
<text transform="translate(458.00 63.92) scale(0.92 1)" font-size="9.35" text-anchor="end" font-weight="bold" fill="#111" stroke="#111" stroke-width="0.25">0</text>
<text transform="translate(458.00 34.98) scale(0.92 1)" font-size="9.35" text-anchor="end" font-weight="bold" fill="#111" stroke="#111" stroke-width="0.25">2</text>
<text transform="translate(458.00 6.04) scale(0.92 1)" font-size="9.35" text-anchor="end" font-weight="bold" fill="#111" stroke="#111" stroke-width="0.25">4</text>
<line x1="460.10" y1="154.39" x2="463.50" y2="154.39" stroke="#111" stroke-width="1"/>
<line x1="461.70" y1="145.28" x2="463.50" y2="145.28" stroke="#111" stroke-width="1"/>
<line x1="460.10" y1="136.17" x2="463.50" y2="136.17" stroke="#111" stroke-width="1"/>
<line x1="461.70" y1="127.06" x2="463.50" y2="127.06" stroke="#111" stroke-width="1"/>
<line x1="460.10" y1="117.95" x2="463.50" y2="117.95" stroke="#111" stroke-width="1"/>
<line x1="461.70" y1="108.84" x2="463.50" y2="108.84" stroke="#111" stroke-width="1"/>
<line x1="460.10" y1="99.73" x2="463.50" y2="99.73" stroke="#111" stroke-width="1"/>
<line x1="461.70" y1="90.62" x2="463.50" y2="90.62" stroke="#111" stroke-width="1"/>
<line x1="460.10" y1="81.51" x2="463.50" y2="81.51" stroke="#111" stroke-width="1"/>
<text transform="translate(458.00 156.69) scale(0.92 1)" font-size="9.35" text-anchor="end" font-weight="bold" fill="#111" stroke="#111" stroke-width="0.25">-4</text>
<text transform="translate(458.00 138.47) scale(0.92 1)" font-size="9.35" text-anchor="end" font-weight="bold" fill="#111" stroke="#111" stroke-width="0.25">-2</text>
<text transform="translate(458.00 120.25) scale(0.92 1)" font-size="9.35" text-anchor="end" font-weight="bold" fill="#111" stroke="#111" stroke-width="0.25">0</text>
<text transform="translate(458.00 102.03) scale(0.92 1)" font-size="9.35" text-anchor="end" font-weight="bold" fill="#111" stroke="#111" stroke-width="0.25">2</text>
<text transform="translate(458.00 83.81) scale(0.92 1)" font-size="9.35" text-anchor="end" font-weight="bold" fill="#111" stroke="#111" stroke-width="0.25">4</text>
<line x1="463.50" y1="154.40" x2="463.50" y2="157.40" stroke="#111" stroke-width="1"/>
<line x1="490.00" y1="154.40" x2="490.00" y2="156.20" stroke="#111" stroke-width="1"/>
<line x1="516.50" y1="154.40" x2="516.50" y2="157.40" stroke="#111" stroke-width="1"/>
<line x1="543.00" y1="154.40" x2="543.00" y2="156.20" stroke="#111" stroke-width="1"/>
<line x1="569.50" y1="154.40" x2="569.50" y2="157.40" stroke="#111" stroke-width="1"/>
<line x1="596.00" y1="154.40" x2="596.00" y2="156.20" stroke="#111" stroke-width="1"/>
<line x1="622.50" y1="154.40" x2="622.50" y2="157.40" stroke="#111" stroke-width="1"/>
<line x1="649.00" y1="154.40" x2="649.00" y2="156.20" stroke="#111" stroke-width="1"/>
<line x1="675.50" y1="154.40" x2="675.50" y2="157.40" stroke="#111" stroke-width="1"/>
<text transform="translate(463.50 166.90) scale(0.92 1)" font-size="8.91" text-anchor="middle" font-weight="bold" fill="#111" stroke="#111" stroke-width="0.25">0</text>
<text transform="translate(516.50 166.90) scale(0.92 1)" font-size="8.91" text-anchor="middle" font-weight="bold" fill="#111" stroke="#111" stroke-width="0.25">1</text>
<text transform="translate(569.50 166.90) scale(0.92 1)" font-size="8.91" text-anchor="middle" font-weight="bold" fill="#111" stroke="#111" stroke-width="0.25">2</text>
<text transform="translate(622.50 166.90) scale(0.92 1)" font-size="8.91" text-anchor="middle" font-weight="bold" fill="#111" stroke="#111" stroke-width="0.25">3</text>
<text transform="translate(675.50 166.90) scale(0.92 1)" font-size="8.91" text-anchor="middle" font-weight="bold" fill="#111" stroke="#111" stroke-width="0.25">4</text>
<text transform="translate(569.60 176.60) scale(0.92 1)" font-size="10.43" text-anchor="middle" font-weight="bold" fill="#111" stroke="#111" stroke-width="0.25" letter-spacing="0.25">(<tspan font-style="italic">R</tspan>+<tspan font-style="italic" font-weight="normal" font-family="Liberation Serif, serif" font-size="115%">α</tspan>)/Å</text>
<text transform="translate(448.30 40.10) rotate(-90) scale(1.0 1)" font-size="10.60" text-anchor="middle" font-weight="bold" fill="#111" stroke="#111" stroke-width="0.25">FT(<tspan font-style="italic">χ</tspan>(<tspan font-style="italic">k</tspan>)*<tspan font-style="italic">k</tspan><tspan font-size="64%" dy="-4.33">3</tspan><tspan dy="4.33">)</tspan></text>
<text transform="translate(445.60 118.20) rotate(-90) scale(1.0 1)" font-size="10.60" text-anchor="middle" font-weight="bold" fill="#111" stroke="#111" stroke-width="0.25">FT(<tspan font-style="italic">χ</tspan>(<tspan font-style="italic">k</tspan>)*<tspan font-style="italic">k</tspan><tspan font-size="64%" dy="-4.33">3</tspan><tspan dy="4.33">)</tspan></text>
<text transform="translate(467.60 24.60) scale(1.0 1)" font-size="22.00" text-anchor="start" font-weight="bold" fill="#111" stroke="#111" stroke-width="0.25">c</text>
<circle cx="624.4" cy="10.4" r="1.9" fill="#555"/>
<svg x="0" y="0" width="676" height="385" overflow="hidden">
<text transform="translate(634.40 13.00) scale(1.0 1)" font-size="7.70" text-anchor="start" font-weight="normal" fill="#111" stroke="#111" stroke-width="0.4">873K-Nb<tspan font-size="64%" dy="2.16">2</tspan><tspan dy="-2.16">O</tspan><tspan font-size="64%" dy="2.16">5</tspan></text>
</svg>
<line x1="616.00" y1="21.40" x2="632.90" y2="21.40" stroke="#c0141c" stroke-width="1.2"/>
<text transform="translate(634.40 23.80) scale(1.0 1)" font-size="7.90" text-anchor="start" font-weight="normal" fill="#111" stroke="#111" stroke-width="0.4">curvefit</text>
<line x1="616.00" y1="30.40" x2="632.90" y2="30.40" stroke="#4a8db0" stroke-width="1.2"/>
<text transform="translate(634.40 32.80) scale(1.0 1)" font-size="7.90" text-anchor="start" font-weight="normal" fill="#111" stroke="#111" stroke-width="0.4">window</text>
<g clip-path="url(#clipD)">
<path d="M21.60,349.42 L22.06,349.80 L22.53,349.42 L22.99,349.53 L23.46,349.48 L23.92,349.82 L24.39,349.44 L24.85,349.33 L25.32,349.47 L25.78,349.28 L26.25,349.43 L26.71,349.39 L27.18,349.45 L27.64,349.87 L28.11,349.28 L28.57,349.39 L29.03,349.33 L29.50,349.55 L29.96,349.08 L30.43,349.20 L30.89,349.36 L31.36,349.51 L31.82,349.36 L32.29,349.24 L32.75,349.15 L33.22,349.49 L33.68,349.72 L34.15,349.44 L34.61,349.41 L35.08,349.47 L35.54,349.12 L36.00,349.27 L36.47,349.28 L36.93,349.42 L37.40,349.34 L37.86,349.04 L38.33,349.62 L38.79,349.76 L39.26,349.27 L39.72,349.43 L40.19,349.40 L40.65,349.52 L41.12,348.96 L41.58,349.73 L42.05,349.20 L42.51,349.63 L42.97,349.34 L43.44,349.21 L43.90,349.27 L44.37,349.53 L44.83,349.09 L45.30,349.21 L45.76,349.18 L46.23,348.87 L46.69,349.62 L47.16,349.43 L47.62,349.28 L48.09,349.57 L48.55,349.04 L49.02,349.26 L49.48,349.71 L49.94,349.52 L50.41,348.71 L50.87,348.43 L51.34,349.00 L51.80,349.52 L52.27,349.14 L52.73,349.20 L53.20,349.40 L53.66,349.02 L54.13,349.30 L54.59,349.44 L55.06,349.35 L55.52,349.33 L55.98,349.08 L56.45,349.35 L56.91,349.12 L57.38,349.55 L57.84,349.86 L58.31,349.03 L58.77,348.67 L59.24,349.10 L59.70,349.30 L60.17,349.46 L60.63,349.47 L61.10,349.00 L61.56,348.99 L62.03,349.50 L62.49,348.91 L62.95,349.45 L63.42,349.12 L63.88,349.36 L64.35,349.34 L64.81,349.35 L65.28,349.36 L65.74,348.90 L66.21,349.22 L66.67,349.14 L67.14,349.21 L67.60,349.44 L68.07,349.06 L68.53,348.94 L69.00,348.93 L69.46,349.03 L69.92,349.29 L70.39,348.90 L70.85,349.38 L71.32,349.16 L71.78,349.03 L72.25,348.74 L72.71,349.13 L73.18,349.24 L73.64,348.62 L74.11,349.35 L74.57,349.46 L75.04,349.13 L75.50,349.16 L75.97,349.63 L76.43,349.33 L76.89,348.79 L77.36,349.01 L77.82,348.97 L78.29,348.96 L78.75,348.40 L79.22,349.18 L79.68,348.82 L80.15,349.01 L80.61,348.93 L81.08,349.18 L81.54,348.88 L82.01,348.75 L82.47,349.07 L82.94,349.29 L83.40,348.85 L83.86,349.26 L84.33,348.98 L84.79,348.78 L85.26,349.28 L85.72,348.69 L86.19,349.14 L86.65,348.76 L87.12,348.99 L87.58,348.56 L88.05,348.65 L88.51,349.12 L88.98,348.90 L89.44,348.85 L89.91,348.73 L90.37,348.94 L90.83,348.47 L91.30,348.54 L91.76,348.77 L92.23,348.59 L92.69,348.62 L93.16,348.77 L93.62,348.75 L94.09,348.72 L94.55,349.19 L95.02,349.02 L95.48,349.07 L95.95,348.75 L96.41,348.62 L96.88,348.38 L97.34,348.65 L97.80,348.21 L98.27,348.58 L98.73,348.91 L99.20,349.12 L99.66,348.95 L100.13,348.48 L100.59,348.82 L101.06,348.49 L101.52,348.89 L101.99,348.65 L102.45,348.88 L102.92,349.31 L103.38,348.89 L103.85,349.24 L104.31,348.69 L104.77,348.56 L105.24,348.97 L105.70,349.06 L106.17,348.49 L106.63,348.64 L107.10,348.25 L107.56,348.56 L108.03,348.82 L108.49,348.58 L108.96,348.45 L109.42,348.23 L109.89,348.67 L110.35,348.77 L110.82,348.72 L111.28,348.63 L111.74,348.24 L112.21,348.99 L112.67,348.53 L113.14,348.51 L113.60,348.72 L114.07,347.99 L114.53,348.51 L115.00,348.49 L115.46,348.61 L115.93,348.85 L116.39,348.62 L116.86,348.04 L117.32,348.41 L117.78,348.54 L118.25,348.52 L118.71,348.16 L119.18,348.05 L119.64,348.60 L120.11,348.54 L120.57,348.45 L121.04,348.02 L121.50,348.89 L121.97,347.71 L122.43,348.34 L122.90,348.95 L123.36,348.38 L123.83,348.47 L124.29,348.11 L124.75,348.74 L125.22,348.07 L125.68,348.45 L126.15,348.42 L126.61,348.12 L127.08,348.60 L127.54,348.01 L128.01,348.19 L128.47,348.35 L128.94,348.25 L129.40,348.46 L129.87,348.57 L130.33,348.26 L130.80,348.19 L131.26,348.19 L131.72,348.22 L132.19,348.51 L132.65,348.25 L133.12,348.40 L133.58,348.27 L134.05,348.07 L134.51,348.49 L134.98,348.01 L135.44,348.27 L135.91,348.63 L136.37,347.98 L136.84,348.23 L137.30,347.84 L137.77,348.10 L138.23,347.85 L138.69,348.13 L139.16,348.08 L139.62,348.24 L140.09,348.59 L140.55,348.26 L141.02,348.35 L141.48,348.17 L141.95,348.11 L142.41,347.96 L142.88,347.71 L143.34,348.18 L143.81,348.56 L144.27,348.27 L144.74,348.01 L145.20,348.55 L145.66,348.03 L146.13,347.98 L146.59,347.82 L147.06,347.88 L147.52,348.06 L147.99,348.61 L148.45,348.06 L148.92,347.84 L149.38,347.94 L149.85,348.03 L150.31,347.66 L150.78,348.11 L151.24,348.24 L151.71,348.14 L152.17,348.20 L152.63,347.72 L153.10,347.61 L153.56,348.35 L154.03,348.29 L154.49,347.62 L154.96,348.05 L155.42,347.99 L155.89,348.11 L156.35,348.01 L156.82,347.82 L157.28,347.97 L157.75,347.95 L158.21,347.88 L158.68,347.36 L159.14,346.98 L159.60,347.41 L160.07,347.06 L160.53,347.38 L161.00,347.35 L161.46,347.10 L161.93,346.83 L162.39,346.86 L162.86,347.09 L163.32,346.63 L163.79,347.08 L164.25,347.10 L164.72,347.08 L165.18,347.49 L165.65,347.06 L166.11,347.58 L166.57,347.21 L167.04,347.33 L167.50,347.31 L167.97,347.71 L168.43,347.36 L168.90,347.61 L169.36,347.31 L169.83,347.86 L170.29,348.06 L170.76,347.65 L171.22,348.00 L171.69,347.73 L172.15,348.13 L172.62,347.61 L173.08,347.19 L173.54,347.95 L174.01,347.55 L174.47,347.32 L174.94,347.41 L175.40,347.16 L175.87,347.52 L176.33,347.29 L176.80,347.93 L177.26,347.72 L177.73,347.13 L178.19,347.17 L178.66,347.40 L179.12,347.05 L179.58,347.50 L180.05,347.51 L180.51,347.33 L180.98,347.38 L181.44,347.63 L181.91,347.86 L182.37,347.87 L182.84,347.50 L183.30,347.70 L183.77,347.30 L184.23,347.58 L184.70,347.23 L185.16,347.65 L185.63,347.15 L186.09,347.21 L186.55,347.44 L187.02,347.58 L187.48,347.07 L187.95,347.29 L188.41,347.45 L188.88,347.47 L189.34,347.20 L189.81,347.43 L190.27,347.33 L190.74,347.74 L191.20,347.52 L191.67,347.04 L192.13,346.82 L192.60,347.39 L193.06,347.65 L193.52,347.39 L193.99,347.56 L194.45,347.21 L194.92,346.98 L195.38,347.50 L195.85,347.32 L196.31,347.46 L196.78,346.93 L197.24,347.31 L197.71,347.10 L198.17,347.45 L198.64,347.09 L199.10,347.07 L199.57,347.07 L200.03,347.52 L200.49,347.20 L200.96,346.99 L201.42,346.91 L201.89,346.89 L202.35,347.51 L202.82,346.68 L203.28,346.91 L203.75,347.27 L204.21,347.39 L204.68,347.04 L205.14,347.26 L205.61,347.24 L206.07,347.29 L206.54,347.04 L207.00,347.43" fill="none" stroke="#666666" stroke-width="1.1" stroke-linejoin="round" stroke-linecap="round"/>
<path d="M21.60,351.42 L21.97,349.37 L22.34,350.72 L22.71,350.30 L23.09,350.37 L23.46,350.49 L23.83,349.70 L24.20,350.52 L24.57,350.25 L24.94,352.15 L25.32,350.77 L25.69,350.53 L26.06,350.57 L26.43,350.42 L26.80,350.26 L27.17,350.57 L27.54,350.98 L27.92,350.66 L28.29,351.22 L28.66,350.71 L29.03,350.82 L29.40,351.52 L29.77,351.08 L30.15,350.62 L30.52,350.77 L30.89,351.11 L31.26,351.75 L31.63,350.77 L32.00,350.79 L32.37,351.36 L32.75,350.52 L33.12,350.79 L33.49,351.33 L33.86,351.20 L34.23,350.99 L34.60,351.25 L34.98,349.69 L35.35,351.42 L35.72,350.54 L36.09,350.22 L36.46,351.10 L36.83,351.30 L37.20,350.79 L37.58,350.51 L37.95,351.00 L38.32,350.97 L38.69,351.63 L39.06,351.33 L39.43,351.09 L39.81,351.50 L40.18,350.91 L40.55,350.58 L40.92,351.26 L41.29,351.26 L41.66,350.90 L42.03,350.64 L42.41,351.10 L42.78,349.87 L43.15,351.30 L43.52,351.21 L43.89,350.25 L44.26,351.01 L44.64,350.54 L45.01,351.31 L45.38,350.05 L45.75,350.55 L46.12,351.28 L46.49,351.48 L46.86,349.98 L47.24,350.72 L47.61,351.09 L47.98,350.66 L48.35,351.64 L48.72,350.39 L49.09,351.07 L49.47,350.44 L49.84,351.53 L50.21,350.88 L50.58,350.72 L50.95,350.10 L51.32,351.63 L51.69,351.20 L52.07,351.19 L52.44,351.35 L52.81,350.99 L53.18,350.54 L53.55,350.45 L53.92,350.44 L54.30,351.41 L54.67,350.12 L55.04,350.50 L55.41,350.62 L55.78,350.85 L56.15,351.00 L56.53,350.16 L56.90,349.93 L57.27,350.70 L57.64,351.23 L58.01,351.01 L58.38,350.76 L58.75,350.50 L59.13,350.77 L59.50,350.51 L59.87,350.97 L60.24,350.23 L60.61,350.63 L60.98,350.49 L61.36,350.75 L61.73,350.57 L62.10,351.57 L62.47,351.05 L62.84,351.00 L63.21,349.36 L63.58,350.06 L63.96,349.88 L64.33,350.33 L64.70,349.00 L65.07,350.48 L65.44,350.36 L65.81,349.22 L66.19,349.30 L66.56,349.30 L66.93,349.61 L67.30,349.80 L67.67,350.36 L68.04,349.28 L68.41,349.64 L68.79,349.29 L69.16,349.94 L69.53,349.42 L69.90,349.63 L70.27,348.47 L70.64,348.80 L71.02,348.45 L71.39,349.43 L71.76,348.98 L72.13,348.47 L72.50,348.34 L72.87,348.68 L73.24,348.08 L73.62,347.90 L73.99,348.46 L74.36,349.27 L74.73,347.98 L75.10,347.76 L75.47,347.41 L75.85,347.26 L76.22,348.02 L76.59,348.09 L76.96,347.63 L77.33,347.70 L77.70,347.53 L78.07,347.46 L78.45,346.64 L78.82,347.04 L79.19,347.23 L79.56,346.75 L79.93,346.82 L80.30,346.59 L80.68,346.74 L81.05,347.21 L81.42,346.57 L81.79,346.62 L82.16,346.99 L82.53,346.85 L82.90,347.27 L83.28,345.50 L83.65,346.77 L84.02,346.12 L84.39,346.34 L84.76,346.61 L85.13,346.67 L85.51,346.60 L85.88,346.16 L86.25,346.77 L86.62,345.88 L86.99,345.90 L87.36,346.28 L87.73,345.63 L88.11,346.81 L88.48,346.26 L88.85,346.74 L89.22,345.71 L89.59,345.51 L89.96,345.72 L90.34,345.94 L90.71,345.31 L91.08,345.71 L91.45,345.50 L91.82,346.20 L92.19,345.14 L92.56,345.88 L92.94,345.09 L93.31,344.91 L93.68,344.99 L94.05,344.75 L94.42,345.32 L94.79,345.68 L95.17,345.26 L95.54,345.44 L95.91,345.86 L96.28,345.22 L96.65,345.16 L97.02,344.92 L97.39,344.29 L97.77,345.32 L98.14,344.16 L98.51,345.22 L98.88,344.89 L99.25,345.37 L99.62,344.81 L100.00,344.44 L100.37,344.94 L100.74,344.50 L101.11,344.64 L101.48,344.71 L101.85,344.60 L102.22,344.55 L102.60,344.23 L102.97,344.48 L103.34,343.58 L103.71,344.44 L104.08,343.94 L104.45,344.95 L104.83,344.98 L105.20,343.50 L105.57,344.41 L105.94,344.25 L106.31,343.81 L106.68,344.48 L107.05,344.00 L107.43,343.37 L107.80,344.01 L108.17,344.03 L108.54,344.11 L108.91,343.46 L109.28,344.26 L109.66,344.27 L110.03,343.38 L110.40,343.56 L110.77,343.78 L111.14,343.52 L111.51,344.52 L111.88,343.78 L112.26,343.19 L112.63,343.25 L113.00,343.54 L113.37,344.56 L113.74,343.40 L114.11,343.50 L114.49,343.63 L114.86,343.34 L115.23,344.34 L115.60,343.04 L115.97,343.57 L116.34,343.26 L116.72,343.42 L117.09,342.57 L117.46,343.85 L117.83,342.95 L118.20,342.98 L118.57,342.50 L118.94,342.54 L119.32,343.07 L119.69,343.22 L120.06,343.40 L120.43,343.76 L120.80,343.26 L121.17,342.59 L121.55,343.27 L121.92,342.99 L122.29,342.31 L122.66,343.00 L123.03,343.45 L123.40,342.44 L123.77,341.85 L124.15,342.76 L124.52,343.76 L124.89,341.80 L125.26,341.84 L125.63,341.73 L126.00,342.89 L126.38,340.07 L126.75,341.98 L127.12,342.65 L127.49,340.77 L127.86,342.77 L128.23,341.83 L128.60,340.77 L128.98,341.37 L129.35,339.71 L129.72,340.48 L130.09,342.54 L130.46,339.98 L130.83,342.34 L131.21,340.49 L131.58,341.34 L131.95,340.37 L132.32,338.19 L132.69,339.56 L133.06,340.11 L133.43,338.77 L133.81,338.46 L134.18,339.86 L134.55,338.80 L134.92,337.71 L135.29,338.47 L135.66,339.71 L136.04,338.36 L136.41,339.47 L136.78,339.84 L137.15,338.33 L137.52,337.12 L137.89,336.80 L138.26,337.77 L138.64,338.41 L139.01,337.67 L139.38,337.72 L139.75,336.62 L140.12,337.07 L140.49,336.15 L140.87,336.03 L141.24,334.91 L141.61,334.39 L141.98,335.08 L142.35,334.20 L142.72,333.97 L143.09,335.02 L143.47,333.88 L143.84,336.12 L144.21,333.84 L144.58,331.92 L144.95,332.67 L145.32,331.76 L145.70,330.30 L146.07,331.40 L146.44,329.17 L146.81,326.55 L147.18,329.42 L147.55,327.55 L147.92,328.83 L148.30,326.31 L148.67,325.24 L149.04,327.14 L149.41,324.26 L149.78,324.93 L150.15,325.64 L150.53,320.05 L150.90,319.52 L151.27,319.36 L151.64,319.70 L152.01,317.92 L152.38,318.91 L152.75,322.59 L153.13,323.89 L153.50,321.19 L153.87,320.38 L154.24,321.55 L154.61,320.21 L154.98,320.48 L155.36,319.97 L155.73,320.53 L156.10,316.51 L156.47,316.63 L156.84,314.02 L157.21,317.11 L157.58,318.88 L157.96,316.47 L158.33,316.02 L158.70,315.11 L159.07,316.28 L159.44,315.47 L159.81,313.77 L160.19,314.94 L160.56,313.96 L160.93,313.71 L161.30,311.72 L161.67,313.17 L162.04,311.36 L162.41,310.41 L162.79,309.78 L163.16,309.98 L163.53,311.00 L163.90,310.03 L164.27,311.31 L164.64,310.95 L165.02,311.73 L165.39,311.35 L165.76,310.66 L166.13,309.09 L166.50,311.17 L166.87,311.69 L167.24,311.19 L167.62,311.60 L167.99,310.73 L168.36,311.04 L168.73,310.84 L169.10,311.93 L169.47,311.43 L169.85,311.19 L170.22,310.86 L170.59,311.43 L170.96,312.20 L171.33,311.80 L171.70,311.32 L172.07,312.34 L172.45,312.39 L172.82,312.24 L173.19,312.21 L173.56,312.44 L173.93,312.23 L174.30,312.40 L174.68,311.78 L175.05,312.89 L175.42,312.40 L175.79,313.31 L176.16,311.59 L176.53,312.95 L176.91,313.21 L177.28,312.75 L177.65,313.26 L178.02,313.55 L178.39,313.63 L178.76,313.30 L179.13,313.66 L179.51,314.37 L179.88,314.67 L180.25,314.34 L180.62,314.53 L180.99,314.79 L181.36,315.37 L181.74,314.64 L182.11,314.73 L182.48,315.60 L182.85,315.26 L183.22,315.71 L183.59,316.23 L183.96,316.63 L184.34,316.15 L184.71,317.21 L185.08,316.27 L185.45,317.52 L185.82,316.78 L186.19,317.12 L186.57,318.19 L186.94,317.92 L187.31,317.94 L187.68,318.29 L188.05,318.88 L188.42,318.84 L188.79,319.04 L189.17,319.71 L189.54,319.11 L189.91,319.41 L190.28,319.58 L190.65,320.53 L191.02,320.65 L191.40,320.97 L191.77,320.58 L192.14,320.71 L192.51,321.36 L192.88,321.00 L193.25,321.74 L193.62,321.89 L194.00,321.44 L194.37,321.91 L194.74,322.08 L195.11,323.11 L195.48,323.68 L195.85,322.66 L196.23,322.89 L196.60,322.04 L196.97,323.35 L197.34,323.43 L197.71,323.13 L198.08,324.14 L198.45,323.25 L198.83,324.03 L199.20,324.36 L199.57,323.89 L199.94,325.00 L200.31,325.25 L200.68,324.31 L201.06,324.45 L201.43,325.51 L201.80,325.38 L202.17,325.00 L202.54,325.56 L202.91,325.79 L203.28,325.91 L203.66,326.49 L204.03,326.44 L204.40,327.20 L204.77,327.16 L205.14,326.98 L205.51,327.29 L205.89,327.54 L206.26,327.39 L206.63,326.65 L207.00,327.72" fill="none" stroke="#4a8caf" stroke-width="1.2" stroke-linejoin="round" stroke-linecap="round"/>
<path d="M21.60,351.90 L22.06,351.88 L22.53,351.87 L22.99,351.85 L23.46,351.83 L23.92,351.82 L24.39,351.80 L24.85,351.79 L25.32,351.77 L25.78,351.75 L26.25,351.73 L26.71,351.72 L27.18,351.70 L27.64,351.68 L28.11,351.67 L28.57,351.65 L29.03,351.63 L29.50,351.61 L29.96,351.60 L30.43,351.58 L30.89,351.56 L31.36,351.54 L31.82,351.53 L32.29,351.51 L32.75,351.49 L33.22,351.47 L33.68,351.45 L34.15,351.44 L34.61,351.42 L35.08,351.40 L35.54,351.38 L36.00,351.36 L36.47,351.34 L36.93,351.32 L37.40,351.31 L37.86,351.29 L38.33,351.27 L38.79,351.25 L39.26,351.23 L39.72,351.21 L40.19,351.19 L40.65,351.17 L41.12,351.15 L41.58,351.14 L42.05,351.12 L42.51,351.10 L42.97,351.08 L43.44,351.06 L43.90,351.04 L44.37,351.02 L44.83,351.00 L45.30,350.98 L45.76,350.96 L46.23,350.94 L46.69,350.92 L47.16,350.91 L47.62,350.89 L48.09,350.87 L48.55,350.85 L49.02,350.83 L49.48,350.81 L49.94,350.79 L50.41,350.77 L50.87,350.75 L51.34,350.73 L51.80,350.70 L52.27,350.68 L52.73,350.66 L53.20,350.64 L53.66,350.62 L54.13,350.60 L54.59,350.58 L55.06,350.55 L55.52,350.53 L55.98,350.51 L56.45,350.49 L56.91,350.46 L57.38,350.44 L57.84,350.41 L58.31,350.39 L58.77,350.37 L59.24,350.34 L59.70,350.32 L60.17,350.29 L60.63,350.27 L61.10,350.24 L61.56,350.21 L62.03,350.19 L62.49,350.16 L62.95,350.13 L63.42,350.10 L63.88,350.07 L64.35,350.04 L64.81,350.01 L65.28,349.98 L65.74,349.95 L66.21,349.92 L66.67,349.89 L67.14,349.86 L67.60,349.83 L68.07,349.80 L68.53,349.77 L69.00,349.74 L69.46,349.70 L69.92,349.67 L70.39,349.64 L70.85,349.60 L71.32,349.57 L71.78,349.54 L72.25,349.50 L72.71,349.47 L73.18,349.43 L73.64,349.40 L74.11,349.36 L74.57,349.33 L75.04,349.29 L75.50,349.26 L75.97,349.22 L76.43,349.18 L76.89,349.15 L77.36,349.11 L77.82,349.07 L78.29,349.04 L78.75,349.00 L79.22,348.96 L79.68,348.93 L80.15,348.89 L80.61,348.85 L81.08,348.81 L81.54,348.77 L82.01,348.73 L82.47,348.69 L82.94,348.65 L83.40,348.61 L83.86,348.57 L84.33,348.53 L84.79,348.49 L85.26,348.44 L85.72,348.40 L86.19,348.36 L86.65,348.31 L87.12,348.27 L87.58,348.23 L88.05,348.18 L88.51,348.14 L88.98,348.09 L89.44,348.05 L89.91,348.00 L90.37,347.96 L90.83,347.91 L91.30,347.86 L91.76,347.82 L92.23,347.77 L92.69,347.73 L93.16,347.68 L93.62,347.63 L94.09,347.59 L94.55,347.54 L95.02,347.49 L95.48,347.45 L95.95,347.40 L96.41,347.36 L96.88,347.31 L97.34,347.26 L97.80,347.22 L98.27,347.17 L98.73,347.12 L99.20,347.08 L99.66,347.03 L100.13,346.99 L100.59,346.94 L101.06,346.90 L101.52,346.86 L101.99,346.81 L102.45,346.77 L102.92,346.73 L103.38,346.68 L103.85,346.64 L104.31,346.60 L104.77,346.56 L105.24,346.51 L105.70,346.47 L106.17,346.42 L106.63,346.38 L107.10,346.33 L107.56,346.28 L108.03,346.23 L108.49,346.18 L108.96,346.13 L109.42,346.07 L109.89,346.01 L110.35,345.96 L110.82,345.90 L111.28,345.83 L111.74,345.77 L112.21,345.70 L112.67,345.64 L113.14,345.57 L113.60,345.50 L114.07,345.42 L114.53,345.35 L115.00,345.27 L115.46,345.19 L115.93,345.11 L116.39,345.03 L116.86,344.94 L117.32,344.86 L117.78,344.77 L118.25,344.67 L118.71,344.58 L119.18,344.48 L119.64,344.38 L120.11,344.28 L120.57,344.17 L121.04,344.05 L121.50,343.93 L121.97,343.80 L122.43,343.66 L122.90,343.52 L123.36,343.37 L123.83,343.22 L124.29,343.06 L124.75,342.89 L125.22,342.72 L125.68,342.53 L126.15,342.34 L126.61,342.14 L127.08,341.93 L127.54,341.71 L128.01,341.47 L128.47,341.22 L128.94,340.96 L129.40,340.68 L129.87,340.39 L130.33,340.07 L130.80,339.73 L131.26,339.36 L131.72,338.96 L132.19,338.53 L132.65,338.08 L133.12,337.61 L133.58,337.12 L134.05,336.61 L134.51,336.09 L134.98,335.55 L135.44,334.99 L135.91,334.43 L136.37,333.85 L136.84,333.27 L137.30,332.68 L137.77,332.09 L138.23,331.49 L138.69,330.89 L139.16,330.29 L139.62,329.68 L140.09,329.05 L140.55,328.41 L141.02,327.75 L141.48,327.07 L141.95,326.38 L142.41,325.68 L142.88,324.96 L143.34,324.23 L143.81,323.50 L144.27,322.74 L144.74,321.98 L145.20,321.21 L145.66,320.43 L146.13,319.65 L146.59,318.85 L147.06,318.05 L147.52,317.24 L147.99,316.43 L148.45,315.61 L148.92,314.78 L149.38,313.94 L149.85,313.09 L150.31,312.22 L150.78,311.35 L151.24,310.46 L151.71,309.56 L152.17,308.65 L152.63,307.73 L153.10,306.80 L153.56,305.86 L154.03,304.91 L154.49,303.94 L154.96,302.97 L155.42,301.98 L155.89,300.99 L156.35,299.98 L156.82,298.96 L157.28,297.93 L157.75,296.90 L158.21,295.71 L158.68,294.34 L159.14,292.85 L159.60,291.32 L160.07,289.82 L160.53,288.43 L161.00,287.22 L161.46,286.26 L161.93,285.63 L162.39,285.40 L162.86,285.61 L163.32,286.19 L163.79,286.99 L164.25,287.90 L164.72,288.78 L165.18,289.50 L165.65,289.93 L166.11,289.98 L166.57,289.84 L167.04,289.58 L167.50,289.21 L167.97,288.77 L168.43,288.27 L168.90,287.74 L169.36,287.21 L169.83,286.69 L170.29,286.18 L170.76,285.62 L171.22,285.01 L171.69,284.37 L172.15,283.69 L172.62,282.99 L173.08,282.29 L173.54,281.58 L174.01,280.89 L174.47,280.22 L174.94,279.58 L175.40,278.95 L175.87,278.29 L176.33,277.61 L176.80,276.95 L177.26,276.31 L177.73,275.71 L178.19,275.19 L178.66,274.75 L179.12,274.42 L179.58,274.12 L180.05,273.84 L180.51,273.58 L180.98,273.38 L181.44,273.25 L181.91,273.20 L182.37,273.28 L182.84,273.50 L183.30,273.83 L183.77,274.26 L184.23,274.88 L184.70,276.32 L185.16,278.47 L185.63,281.06 L186.09,283.86 L186.55,286.64 L187.02,289.86 L187.48,293.53 L187.95,297.47 L188.41,301.51 L188.88,305.47 L189.34,309.17 L189.81,312.73 L190.27,316.42 L190.74,320.10 L191.20,323.59 L191.67,326.71 L192.13,329.31 L192.60,331.25 L193.06,332.88 L193.52,334.29 L193.99,335.47 L194.45,336.42 L194.92,337.20 L195.38,337.89 L195.85,338.49 L196.31,339.00 L196.78,339.41 L197.24,339.74 L197.71,340.03 L198.17,340.29 L198.64,340.53 L199.10,340.72 L199.57,340.88 L200.03,341.01 L200.49,341.11 L200.96,341.21 L201.42,341.31 L201.89,341.40 L202.35,341.49 L202.82,341.57 L203.28,341.64 L203.75,341.71 L204.21,341.78 L204.68,341.83 L205.14,341.88 L205.61,341.92 L206.07,341.95 L206.54,341.98 L207.00,341.99" fill="none" stroke="#ffc72c" stroke-width="1.55" stroke-linejoin="round" stroke-linecap="round"/>
<path d="M21.60,348.40 L22.06,348.39 L22.53,348.38 L22.99,348.37 L23.46,348.36 L23.92,348.34 L24.39,348.33 L24.85,348.32 L25.32,348.31 L25.78,348.30 L26.25,348.29 L26.71,348.27 L27.18,348.26 L27.64,348.25 L28.11,348.24 L28.57,348.23 L29.03,348.21 L29.50,348.20 L29.96,348.19 L30.43,348.18 L30.89,348.16 L31.36,348.15 L31.82,348.14 L32.29,348.13 L32.75,348.11 L33.22,348.10 L33.68,348.09 L34.15,348.07 L34.61,348.06 L35.08,348.05 L35.54,348.03 L36.00,348.02 L36.47,348.01 L36.93,347.99 L37.40,347.98 L37.86,347.96 L38.33,347.95 L38.79,347.94 L39.26,347.92 L39.72,347.91 L40.19,347.89 L40.65,347.88 L41.12,347.87 L41.58,347.85 L42.05,347.84 L42.51,347.82 L42.97,347.81 L43.44,347.79 L43.90,347.78 L44.37,347.77 L44.83,347.75 L45.30,347.74 L45.76,347.72 L46.23,347.71 L46.69,347.69 L47.16,347.68 L47.62,347.66 L48.09,347.65 L48.55,347.63 L49.02,347.62 L49.48,347.60 L49.94,347.59 L50.41,347.57 L50.87,347.55 L51.34,347.54 L51.80,347.52 L52.27,347.51 L52.73,347.49 L53.20,347.47 L53.66,347.46 L54.13,347.44 L54.59,347.42 L55.06,347.40 L55.52,347.39 L55.98,347.37 L56.45,347.35 L56.91,347.33 L57.38,347.31 L57.84,347.29 L58.31,347.27 L58.77,347.25 L59.24,347.23 L59.70,347.21 L60.17,347.19 L60.63,347.17 L61.10,347.15 L61.56,347.13 L62.03,347.11 L62.49,347.08 L62.95,347.06 L63.42,347.04 L63.88,347.01 L64.35,346.99 L64.81,346.96 L65.28,346.94 L65.74,346.91 L66.21,346.89 L66.67,346.86 L67.14,346.83 L67.60,346.81 L68.07,346.78 L68.53,346.75 L69.00,346.72 L69.46,346.69 L69.92,346.67 L70.39,346.64 L70.85,346.61 L71.32,346.58 L71.78,346.55 L72.25,346.52 L72.71,346.49 L73.18,346.46 L73.64,346.43 L74.11,346.40 L74.57,346.37 L75.04,346.34 L75.50,346.31 L75.97,346.27 L76.43,346.24 L76.89,346.21 L77.36,346.18 L77.82,346.15 L78.29,346.12 L78.75,346.09 L79.22,346.05 L79.68,346.02 L80.15,345.99 L80.61,345.96 L81.08,345.93 L81.54,345.89 L82.01,345.86 L82.47,345.83 L82.94,345.80 L83.40,345.77 L83.86,345.74 L84.33,345.70 L84.79,345.67 L85.26,345.64 L85.72,345.61 L86.19,345.58 L86.65,345.54 L87.12,345.51 L87.58,345.48 L88.05,345.44 L88.51,345.41 L88.98,345.38 L89.44,345.34 L89.91,345.31 L90.37,345.27 L90.83,345.24 L91.30,345.20 L91.76,345.16 L92.23,345.13 L92.69,345.09 L93.16,345.05 L93.62,345.01 L94.09,344.97 L94.55,344.93 L95.02,344.89 L95.48,344.85 L95.95,344.80 L96.41,344.76 L96.88,344.72 L97.34,344.67 L97.80,344.63 L98.27,344.58 L98.73,344.53 L99.20,344.49 L99.66,344.44 L100.13,344.39 L100.59,344.33 L101.06,344.28 L101.52,344.23 L101.99,344.17 L102.45,344.11 L102.92,344.05 L103.38,343.99 L103.85,343.92 L104.31,343.86 L104.77,343.79 L105.24,343.73 L105.70,343.66 L106.17,343.59 L106.63,343.51 L107.10,343.44 L107.56,343.36 L108.03,343.29 L108.49,343.21 L108.96,343.13 L109.42,343.05 L109.89,342.97 L110.35,342.89 L110.82,342.80 L111.28,342.72 L111.74,342.63 L112.21,342.54 L112.67,342.46 L113.14,342.37 L113.60,342.28 L114.07,342.19 L114.53,342.09 L115.00,342.00 L115.46,341.91 L115.93,341.81 L116.39,341.72 L116.86,341.62 L117.32,341.53 L117.78,341.43 L118.25,341.33 L118.71,341.22 L119.18,341.12 L119.64,341.01 L120.11,340.90 L120.57,340.78 L121.04,340.66 L121.50,340.53 L121.97,340.40 L122.43,340.27 L122.90,340.12 L123.36,339.98 L123.83,339.82 L124.29,339.66 L124.75,339.49 L125.22,339.31 L125.68,339.12 L126.15,338.91 L126.61,338.69 L127.08,338.45 L127.54,338.20 L128.01,337.93 L128.47,337.65 L128.94,337.35 L129.40,337.04 L129.87,336.72 L130.33,336.38 L130.80,336.03 L131.26,335.67 L131.72,335.29 L132.19,334.90 L132.65,334.50 L133.12,334.09 L133.58,333.67 L134.05,333.24 L134.51,332.79 L134.98,332.30 L135.44,331.77 L135.91,331.19 L136.37,330.58 L136.84,329.93 L137.30,329.25 L137.77,328.54 L138.23,327.81 L138.69,327.07 L139.16,326.30 L139.62,325.52 L140.09,324.74 L140.55,323.94 L141.02,323.15 L141.48,322.36 L141.95,321.55 L142.41,320.71 L142.88,319.85 L143.34,318.97 L143.81,318.07 L144.27,317.15 L144.74,316.21 L145.20,315.26 L145.66,314.30 L146.13,313.33 L146.59,312.35 L147.06,311.36 L147.52,310.37 L147.99,309.38 L148.45,308.39 L148.92,307.39 L149.38,306.39 L149.85,305.38 L150.31,304.37 L150.78,303.34 L151.24,302.31 L151.71,301.26 L152.17,300.20 L152.63,299.14 L153.10,298.06 L153.56,296.96 L154.03,295.86 L154.49,294.73 L154.96,293.60 L155.42,292.44 L155.89,291.22 L156.35,289.91 L156.82,288.53 L157.28,287.13 L157.75,285.73 L158.21,284.37 L158.68,283.07 L159.14,281.87 L159.60,280.79 L160.07,279.87 L160.53,278.96 L161.00,278.06 L161.46,277.27 L161.93,276.72 L162.39,276.50 L162.86,276.62 L163.32,276.93 L163.79,277.37 L164.25,277.86 L164.72,278.34 L165.18,278.73 L165.65,278.96 L166.11,278.99 L166.57,278.90 L167.04,278.73 L167.50,278.49 L167.97,278.18 L168.43,277.83 L168.90,277.45 L169.36,277.03 L169.83,276.48 L170.29,275.68 L170.76,274.72 L171.22,273.68 L171.69,272.65 L172.15,271.70 L172.62,270.79 L173.08,269.86 L173.54,268.93 L174.01,267.99 L174.47,267.06 L174.94,266.12 L175.40,265.17 L175.87,264.16 L176.33,263.14 L176.80,262.15 L177.26,261.22 L177.73,260.41 L178.19,259.73 L178.66,259.06 L179.12,258.38 L179.58,257.74 L180.05,257.15 L180.51,256.64 L180.98,256.25 L181.44,255.99 L181.91,255.90 L182.37,256.03 L182.84,256.36 L183.30,256.85 L183.77,257.45 L184.23,258.11 L184.70,258.81 L185.16,259.69 L185.63,260.78 L186.09,262.05 L186.55,263.45 L187.02,264.96 L187.48,266.55 L187.95,268.17 L188.41,269.94 L188.88,271.91 L189.34,274.06 L189.81,276.35 L190.27,278.77 L190.74,281.34 L191.20,284.21 L191.67,287.34 L192.13,290.60 L192.60,293.89 L193.06,297.12 L193.52,300.16 L193.99,303.06 L194.45,305.91 L194.92,308.70 L195.38,311.44 L195.85,314.13 L196.31,316.82 L196.78,319.59 L197.24,322.32 L197.71,324.86 L198.17,327.07 L198.64,328.88 L199.10,330.54 L199.57,332.06 L200.03,333.40 L200.49,334.54 L200.96,335.43 L201.42,336.14 L201.89,336.78 L202.35,337.35 L202.82,337.85 L203.28,338.28 L203.75,338.65 L204.21,338.95 L204.68,339.21 L205.14,339.45 L205.61,339.68 L206.07,339.87 L206.54,340.03 L207.00,340.14" fill="none" stroke="#ff8340" stroke-width="1.55" stroke-linejoin="round" stroke-linecap="round"/>
<path d="M21.60,349.40 L22.06,349.39 L22.53,349.38 L22.99,349.37 L23.46,349.37 L23.92,349.36 L24.39,349.35 L24.85,349.34 L25.32,349.33 L25.78,349.32 L26.25,349.31 L26.71,349.30 L27.18,349.29 L27.64,349.28 L28.11,349.27 L28.57,349.26 L29.03,349.25 L29.50,349.25 L29.96,349.24 L30.43,349.23 L30.89,349.21 L31.36,349.20 L31.82,349.19 L32.29,349.18 L32.75,349.17 L33.22,349.16 L33.68,349.15 L34.15,349.14 L34.61,349.13 L35.08,349.12 L35.54,349.11 L36.00,349.10 L36.47,349.09 L36.93,349.08 L37.40,349.06 L37.86,349.05 L38.33,349.04 L38.79,349.03 L39.26,349.02 L39.72,349.01 L40.19,349.00 L40.65,348.98 L41.12,348.97 L41.58,348.96 L42.05,348.95 L42.51,348.94 L42.97,348.93 L43.44,348.91 L43.90,348.90 L44.37,348.89 L44.83,348.88 L45.30,348.87 L45.76,348.86 L46.23,348.84 L46.69,348.83 L47.16,348.82 L47.62,348.81 L48.09,348.79 L48.55,348.78 L49.02,348.77 L49.48,348.76 L49.94,348.74 L50.41,348.73 L50.87,348.72 L51.34,348.70 L51.80,348.69 L52.27,348.68 L52.73,348.66 L53.20,348.65 L53.66,348.63 L54.13,348.62 L54.59,348.60 L55.06,348.59 L55.52,348.57 L55.98,348.55 L56.45,348.54 L56.91,348.52 L57.38,348.50 L57.84,348.49 L58.31,348.47 L58.77,348.45 L59.24,348.43 L59.70,348.41 L60.17,348.39 L60.63,348.37 L61.10,348.35 L61.56,348.33 L62.03,348.31 L62.49,348.28 L62.95,348.26 L63.42,348.23 L63.88,348.21 L64.35,348.18 L64.81,348.15 L65.28,348.12 L65.74,348.09 L66.21,348.06 L66.67,348.03 L67.14,348.00 L67.60,347.97 L68.07,347.94 L68.53,347.91 L69.00,347.87 L69.46,347.84 L69.92,347.81 L70.39,347.77 L70.85,347.74 L71.32,347.70 L71.78,347.67 L72.25,347.63 L72.71,347.59 L73.18,347.56 L73.64,347.52 L74.11,347.48 L74.57,347.45 L75.04,347.41 L75.50,347.37 L75.97,347.33 L76.43,347.29 L76.89,347.26 L77.36,347.22 L77.82,347.18 L78.29,347.14 L78.75,347.10 L79.22,347.06 L79.68,347.03 L80.15,346.99 L80.61,346.95 L81.08,346.91 L81.54,346.87 L82.01,346.83 L82.47,346.79 L82.94,346.76 L83.40,346.72 L83.86,346.68 L84.33,346.64 L84.79,346.60 L85.26,346.56 L85.72,346.51 L86.19,346.47 L86.65,346.43 L87.12,346.39 L87.58,346.35 L88.05,346.30 L88.51,346.26 L88.98,346.22 L89.44,346.17 L89.91,346.13 L90.37,346.08 L90.83,346.04 L91.30,345.99 L91.76,345.95 L92.23,345.90 L92.69,345.85 L93.16,345.80 L93.62,345.75 L94.09,345.70 L94.55,345.65 L95.02,345.60 L95.48,345.55 L95.95,345.50 L96.41,345.44 L96.88,345.39 L97.34,345.33 L97.80,345.28 L98.27,345.22 L98.73,345.16 L99.20,345.10 L99.66,345.04 L100.13,344.98 L100.59,344.92 L101.06,344.86 L101.52,344.79 L101.99,344.73 L102.45,344.66 L102.92,344.59 L103.38,344.52 L103.85,344.45 L104.31,344.38 L104.77,344.31 L105.24,344.23 L105.70,344.16 L106.17,344.08 L106.63,344.00 L107.10,343.92 L107.56,343.83 L108.03,343.75 L108.49,343.67 L108.96,343.58 L109.42,343.49 L109.89,343.40 L110.35,343.31 L110.82,343.21 L111.28,343.12 L111.74,343.02 L112.21,342.92 L112.67,342.82 L113.14,342.72 L113.60,342.62 L114.07,342.52 L114.53,342.41 L115.00,342.30 L115.46,342.19 L115.93,342.08 L116.39,341.96 L116.86,341.85 L117.32,341.73 L117.78,341.61 L118.25,341.48 L118.71,341.35 L119.18,341.22 L119.64,341.08 L120.11,340.94 L120.57,340.79 L121.04,340.64 L121.50,340.48 L121.97,340.32 L122.43,340.15 L122.90,339.98 L123.36,339.79 L123.83,339.61 L124.29,339.41 L124.75,339.21 L125.22,339.00 L125.68,338.78 L126.15,338.54 L126.61,338.29 L127.08,338.02 L127.54,337.74 L128.01,337.45 L128.47,337.14 L128.94,336.82 L129.40,336.48 L129.87,336.13 L130.33,335.77 L130.80,335.39 L131.26,335.00 L131.72,334.60 L132.19,334.18 L132.65,333.74 L133.12,333.30 L133.58,332.84 L134.05,332.36 L134.51,331.87 L134.98,331.33 L135.44,330.73 L135.91,330.09 L136.37,329.40 L136.84,328.68 L137.30,327.92 L137.77,327.13 L138.23,326.31 L138.69,325.47 L139.16,324.62 L139.62,323.75 L140.09,322.88 L140.55,322.00 L141.02,321.12 L141.48,320.24 L141.95,319.36 L142.41,318.44 L142.88,317.50 L143.34,316.55 L143.81,315.57 L144.27,314.57 L144.74,313.56 L145.20,312.53 L145.66,311.49 L146.13,310.44 L146.59,309.38 L147.06,308.31 L147.52,307.23 L147.99,306.16 L148.45,305.08 L148.92,303.99 L149.38,302.90 L149.85,301.81 L150.31,300.70 L150.78,299.58 L151.24,298.46 L151.71,297.32 L152.17,296.16 L152.63,295.00 L153.10,293.81 L153.56,292.62 L154.03,291.40 L154.49,290.17 L154.96,288.91 L155.42,287.64 L155.89,286.29 L156.35,284.83 L156.82,283.31 L157.28,281.76 L157.75,280.20 L158.21,278.68 L158.68,277.22 L159.14,275.85 L159.60,274.62 L160.07,273.55 L160.53,272.47 L161.00,271.39 L161.46,270.44 L161.93,269.76 L162.39,269.50 L162.86,269.61 L163.32,269.89 L163.79,270.30 L164.25,270.75 L164.72,271.19 L165.18,271.55 L165.65,271.77 L166.11,271.78 L166.57,271.61 L167.04,271.30 L167.50,270.87 L167.97,270.35 L168.43,269.77 L168.90,269.16 L169.36,268.55 L169.83,267.88 L170.29,267.05 L170.76,266.13 L171.22,265.14 L171.69,264.15 L172.15,263.19 L172.62,262.23 L173.08,261.24 L173.54,260.23 L174.01,259.21 L174.47,258.18 L174.94,257.14 L175.40,256.05 L175.87,254.88 L176.33,253.68 L176.80,252.51 L177.26,251.42 L177.73,250.47 L178.19,249.69 L178.66,248.93 L179.12,248.17 L179.58,247.45 L180.05,246.79 L180.51,246.22 L180.98,245.78 L181.44,245.50 L181.91,245.40 L182.37,245.52 L182.84,245.83 L183.30,246.31 L183.77,246.90 L184.23,247.58 L184.70,248.35 L185.16,249.52 L185.63,251.08 L186.09,252.98 L186.55,255.12 L187.02,257.43 L187.48,259.83 L187.95,262.26 L188.41,264.94 L188.88,267.99 L189.34,271.25 L189.81,274.61 L190.27,277.99 L190.74,281.52 L191.20,285.18 L191.67,288.89 L192.13,292.59 L192.60,296.24 L193.06,300.00 L193.52,303.77 L193.99,307.39 L194.45,310.70 L194.92,313.72 L195.38,316.64 L195.85,319.38 L196.31,321.89 L196.78,324.08 L197.24,325.98 L197.71,327.75 L198.17,329.37 L198.64,330.82 L199.10,332.08 L199.57,333.14 L200.03,334.08 L200.49,334.96 L200.96,335.77 L201.42,336.50 L201.89,337.12 L202.35,337.63 L202.82,338.01 L203.28,338.33 L203.75,338.63 L204.21,338.91 L204.68,339.17 L205.14,339.40 L205.61,339.60 L206.07,339.77 L206.54,339.89 L207.00,339.97" fill="none" stroke="#a81a1f" stroke-width="1.55" stroke-linejoin="round" stroke-linecap="round"/>
<path d="M21.60,350.60 L22.06,350.59 L22.53,350.58 L22.99,350.57 L23.46,350.57 L23.92,350.56 L24.39,350.55 L24.85,350.54 L25.32,350.53 L25.78,350.52 L26.25,350.51 L26.71,350.50 L27.18,350.49 L27.64,350.48 L28.11,350.47 L28.57,350.46 L29.03,350.45 L29.50,350.45 L29.96,350.44 L30.43,350.43 L30.89,350.41 L31.36,350.40 L31.82,350.39 L32.29,350.38 L32.75,350.37 L33.22,350.36 L33.68,350.35 L34.15,350.34 L34.61,350.33 L35.08,350.32 L35.54,350.31 L36.00,350.30 L36.47,350.29 L36.93,350.28 L37.40,350.26 L37.86,350.25 L38.33,350.24 L38.79,350.23 L39.26,350.22 L39.72,350.21 L40.19,350.20 L40.65,350.18 L41.12,350.17 L41.58,350.16 L42.05,350.15 L42.51,350.14 L42.97,350.13 L43.44,350.11 L43.90,350.10 L44.37,350.09 L44.83,350.08 L45.30,350.07 L45.76,350.06 L46.23,350.04 L46.69,350.03 L47.16,350.02 L47.62,350.01 L48.09,349.99 L48.55,349.98 L49.02,349.97 L49.48,349.96 L49.94,349.94 L50.41,349.93 L50.87,349.92 L51.34,349.90 L51.80,349.89 L52.27,349.88 L52.73,349.86 L53.20,349.85 L53.66,349.83 L54.13,349.82 L54.59,349.80 L55.06,349.79 L55.52,349.77 L55.98,349.75 L56.45,349.74 L56.91,349.72 L57.38,349.70 L57.84,349.69 L58.31,349.67 L58.77,349.65 L59.24,349.63 L59.70,349.61 L60.17,349.59 L60.63,349.57 L61.10,349.55 L61.56,349.53 L62.03,349.51 L62.49,349.48 L62.95,349.46 L63.42,349.43 L63.88,349.41 L64.35,349.38 L64.81,349.35 L65.28,349.33 L65.74,349.30 L66.21,349.27 L66.67,349.24 L67.14,349.21 L67.60,349.18 L68.07,349.15 L68.53,349.11 L69.00,349.08 L69.46,349.05 L69.92,349.01 L70.39,348.98 L70.85,348.95 L71.32,348.91 L71.78,348.88 L72.25,348.84 L72.71,348.80 L73.18,348.77 L73.64,348.73 L74.11,348.69 L74.57,348.65 L75.04,348.62 L75.50,348.58 L75.97,348.54 L76.43,348.50 L76.89,348.46 L77.36,348.42 L77.82,348.39 L78.29,348.35 L78.75,348.31 L79.22,348.27 L79.68,348.23 L80.15,348.19 L80.61,348.15 L81.08,348.11 L81.54,348.07 L82.01,348.03 L82.47,347.98 L82.94,347.94 L83.40,347.90 L83.86,347.86 L84.33,347.82 L84.79,347.77 L85.26,347.73 L85.72,347.69 L86.19,347.64 L86.65,347.60 L87.12,347.55 L87.58,347.50 L88.05,347.46 L88.51,347.41 L88.98,347.36 L89.44,347.31 L89.91,347.26 L90.37,347.21 L90.83,347.16 L91.30,347.11 L91.76,347.06 L92.23,347.01 L92.69,346.96 L93.16,346.90 L93.62,346.85 L94.09,346.79 L94.55,346.73 L95.02,346.68 L95.48,346.62 L95.95,346.56 L96.41,346.50 L96.88,346.44 L97.34,346.37 L97.80,346.31 L98.27,346.25 L98.73,346.18 L99.20,346.12 L99.66,346.05 L100.13,345.98 L100.59,345.91 L101.06,345.84 L101.52,345.76 L101.99,345.68 L102.45,345.60 L102.92,345.51 L103.38,345.42 L103.85,345.33 L104.31,345.24 L104.77,345.15 L105.24,345.05 L105.70,344.95 L106.17,344.85 L106.63,344.75 L107.10,344.65 L107.56,344.54 L108.03,344.44 L108.49,344.33 L108.96,344.22 L109.42,344.12 L109.89,344.01 L110.35,343.90 L110.82,343.79 L111.28,343.68 L111.74,343.57 L112.21,343.46 L112.67,343.35 L113.14,343.24 L113.60,343.13 L114.07,343.02 L114.53,342.91 L115.00,342.80 L115.46,342.69 L115.93,342.59 L116.39,342.49 L116.86,342.39 L117.32,342.29 L117.78,342.20 L118.25,342.10 L118.71,342.00 L119.18,341.90 L119.64,341.80 L120.11,341.70 L120.57,341.59 L121.04,341.48 L121.50,341.36 L121.97,341.24 L122.43,341.12 L122.90,340.99 L123.36,340.85 L123.83,340.70 L124.29,340.55 L124.75,340.39 L125.22,340.22 L125.68,340.03 L126.15,339.83 L126.61,339.61 L127.08,339.38 L127.54,339.13 L128.01,338.87 L128.47,338.59 L128.94,338.30 L129.40,337.99 L129.87,337.67 L130.33,337.34 L130.80,336.99 L131.26,336.64 L131.72,336.26 L132.19,335.88 L132.65,335.49 L133.12,335.08 L133.58,334.66 L134.05,334.24 L134.51,333.79 L134.98,333.31 L135.44,332.77 L135.91,332.20 L136.37,331.59 L136.84,330.94 L137.30,330.26 L137.77,329.55 L138.23,328.82 L138.69,328.07 L139.16,327.31 L139.62,326.53 L140.09,325.74 L140.55,324.95 L141.02,324.15 L141.48,323.36 L141.95,322.55 L142.41,321.71 L142.88,320.85 L143.34,319.97 L143.81,319.07 L144.27,318.15 L144.74,317.21 L145.20,316.26 L145.66,315.30 L146.13,314.33 L146.59,313.35 L147.06,312.36 L147.52,311.37 L147.99,310.38 L148.45,309.39 L148.92,308.39 L149.38,307.39 L149.85,306.38 L150.31,305.37 L150.78,304.34 L151.24,303.31 L151.71,302.26 L152.17,301.20 L152.63,300.14 L153.10,299.06 L153.56,297.96 L154.03,296.86 L154.49,295.73 L154.96,294.60 L155.42,293.44 L155.89,292.20 L156.35,290.85 L156.82,289.43 L157.28,287.97 L157.75,286.53 L158.21,285.13 L158.68,283.83 L159.14,282.66 L159.60,281.67 L160.07,280.90 L160.53,280.19 L161.00,279.52 L161.46,278.95 L161.93,278.55 L162.39,278.40 L162.86,278.51 L163.32,278.79 L163.79,279.20 L164.25,279.65 L164.72,280.09 L165.18,280.45 L165.65,280.67 L166.11,280.69 L166.57,280.62 L167.04,280.48 L167.50,280.27 L167.97,280.02 L168.43,279.72 L168.90,279.39 L169.36,279.03 L169.83,278.52 L170.29,277.73 L170.76,276.75 L171.22,275.70 L171.69,274.65 L172.15,273.70 L172.62,272.79 L173.08,271.86 L173.54,270.93 L174.01,269.99 L174.47,269.06 L174.94,268.12 L175.40,267.15 L175.87,266.11 L176.33,265.06 L176.80,264.04 L177.26,263.12 L177.73,262.36 L178.19,261.78 L178.66,261.24 L179.12,260.72 L179.58,260.23 L180.05,259.80 L180.51,259.43 L180.98,259.14 L181.44,258.96 L181.91,258.90 L182.37,259.03 L182.84,259.36 L183.30,259.85 L183.77,260.45 L184.23,261.11 L184.70,261.80 L185.16,262.67 L185.63,263.73 L186.09,264.96 L186.55,266.33 L187.02,267.80 L187.48,269.36 L187.95,270.97 L188.41,272.77 L188.88,274.80 L189.34,277.02 L189.81,279.37 L190.27,281.80 L190.74,284.27 L191.20,286.89 L191.67,289.65 L192.13,292.51 L192.60,295.44 L193.06,298.40 L193.52,301.35 L193.99,304.26 L194.45,307.21 L194.92,310.21 L195.38,313.19 L195.85,316.08 L196.31,318.92 L196.78,321.89 L197.24,324.81 L197.71,327.47 L198.17,329.66 L198.64,331.26 L199.10,332.62 L199.57,333.82 L200.03,334.86 L200.49,335.73 L200.96,336.45 L201.42,337.04 L201.89,337.58 L202.35,338.07 L202.82,338.51 L203.28,338.88 L203.75,339.20 L204.21,339.46 L204.68,339.67 L205.14,339.88 L205.61,340.07 L206.07,340.24 L206.54,340.37 L207.00,340.46" fill="none" stroke="#a020b8" stroke-width="1.55" stroke-linejoin="round" stroke-linecap="round"/>
<line x1="22.30" y1="349.50" x2="22.30" y2="337.40" stroke="#a81a1f" stroke-width="1.3"/>
<line x1="22.30" y1="350.50" x2="22.30" y2="339.00" stroke="#a020b8" stroke-width="1.3"/>
</g>
<line x1="162.60" y1="260.80" x2="162.60" y2="327.60" stroke="#555" stroke-width="1.4" stroke-dasharray="4.5 1.5 1.2 1.5"/>
<rect x="21.50" y="206.50" width="186.00" height="149.60" stroke="#111" stroke-width="1.1" fill="none"/>
<line x1="29.69" y1="356.10" x2="29.69" y2="357.80" stroke="#111" stroke-width="1"/>
<line x1="43.40" y1="356.10" x2="43.40" y2="359.00" stroke="#111" stroke-width="1"/>
<line x1="57.11" y1="356.10" x2="57.11" y2="357.80" stroke="#111" stroke-width="1"/>
<line x1="70.82" y1="356.10" x2="70.82" y2="359.00" stroke="#111" stroke-width="1"/>
<line x1="84.53" y1="356.10" x2="84.53" y2="357.80" stroke="#111" stroke-width="1"/>
<line x1="98.24" y1="356.10" x2="98.24" y2="359.00" stroke="#111" stroke-width="1"/>
<line x1="111.95" y1="356.10" x2="111.95" y2="357.80" stroke="#111" stroke-width="1"/>
<line x1="125.66" y1="356.10" x2="125.66" y2="359.00" stroke="#111" stroke-width="1"/>
<line x1="139.37" y1="356.10" x2="139.37" y2="357.80" stroke="#111" stroke-width="1"/>
<line x1="153.08" y1="356.10" x2="153.08" y2="359.00" stroke="#111" stroke-width="1"/>
<line x1="166.79" y1="356.10" x2="166.79" y2="357.80" stroke="#111" stroke-width="1"/>
<line x1="180.50" y1="356.10" x2="180.50" y2="359.00" stroke="#111" stroke-width="1"/>
<line x1="194.21" y1="356.10" x2="194.21" y2="357.80" stroke="#111" stroke-width="1"/>
<text transform="translate(43.40 366.70) scale(0.92 1)" font-size="8.26" text-anchor="middle" font-weight="bold" fill="#111" stroke="#111" stroke-width="0.25">200</text>
<text transform="translate(70.82 366.70) scale(0.92 1)" font-size="8.26" text-anchor="middle" font-weight="bold" fill="#111" stroke="#111" stroke-width="0.25">300</text>
<text transform="translate(98.24 366.70) scale(0.92 1)" font-size="8.26" text-anchor="middle" font-weight="bold" fill="#111" stroke="#111" stroke-width="0.25">400</text>
<text transform="translate(125.66 366.70) scale(0.92 1)" font-size="8.26" text-anchor="middle" font-weight="bold" fill="#111" stroke="#111" stroke-width="0.25">500</text>
<text transform="translate(153.08 366.70) scale(0.92 1)" font-size="8.26" text-anchor="middle" font-weight="bold" fill="#111" stroke="#111" stroke-width="0.25">600</text>
<text transform="translate(180.50 366.70) scale(0.92 1)" font-size="8.26" text-anchor="middle" font-weight="bold" fill="#111" stroke="#111" stroke-width="0.25">700</text>
<text transform="translate(114.40 381.60) scale(1.0 1)" font-size="9.10" text-anchor="middle" font-weight="bold" fill="#111" stroke="#111" stroke-width="0.25">Temperature (<tspan font-weight="normal" letter-spacing="-0.5">°C</tspan>)</text>
<text transform="translate(14.50 280.70) rotate(-90) scale(1.0 1)" font-size="9.20" text-anchor="middle" font-weight="bold" fill="#111" stroke="#111" stroke-width="0.25">Intensity (a.u.)</text>
<text transform="translate(187.50 228.00) scale(1.0 1)" font-size="21.50" text-anchor="start" font-weight="bold" fill="#111" stroke="#111" stroke-width="0.25">d</text>
<line x1="23.40" y1="212.60" x2="38.20" y2="212.60" stroke="#555555" stroke-width="1.3"/>
<text transform="translate(39.60 214.90) scale(0.92 1)" font-size="7.07" text-anchor="start" font-weight="bold" fill="#111" stroke="#111" stroke-width="0.25">Nb<tspan font-size="64%" dy="1.82">2</tspan><tspan dy="-1.82">O</tspan><tspan font-size="64%" dy="1.82">5</tspan></text>
<line x1="23.40" y1="222.05" x2="38.20" y2="222.05" stroke="#6a9ab8" stroke-width="1.3"/>
<text transform="translate(39.60 224.35) scale(0.92 1)" font-size="7.07" text-anchor="start" font-weight="bold" fill="#111" stroke="#111" stroke-width="0.25">H<tspan font-size="64%" dy="1.82">2</tspan><tspan dy="-1.82">-</tspan>Nb<tspan font-size="64%" dy="1.82">2</tspan><tspan dy="-1.82">O</tspan><tspan font-size="64%" dy="1.82">5</tspan></text>
<line x1="23.40" y1="231.50" x2="38.20" y2="231.50" stroke="#ffc72c" stroke-width="1.3"/>
<text transform="translate(39.60 233.80) scale(0.92 1)" font-size="7.07" text-anchor="start" font-weight="bold" fill="#111" stroke="#111" stroke-width="0.25">673K-Nb<tspan font-size="64%" dy="1.82">2</tspan><tspan dy="-1.82">O</tspan><tspan font-size="64%" dy="1.82">5</tspan></text>
<line x1="23.40" y1="240.95" x2="38.20" y2="240.95" stroke="#ff8a4a" stroke-width="1.3"/>
<text transform="translate(39.60 243.25) scale(0.92 1)" font-size="7.07" text-anchor="start" font-weight="bold" fill="#111" stroke="#111" stroke-width="0.25">773K-Nb<tspan font-size="64%" dy="1.82">2</tspan><tspan dy="-1.82">O</tspan><tspan font-size="64%" dy="1.82">5</tspan></text>
<line x1="23.40" y1="250.40" x2="38.20" y2="250.40" stroke="#a81a1f" stroke-width="1.3"/>
<text transform="translate(39.60 252.70) scale(0.92 1)" font-size="7.07" text-anchor="start" font-weight="bold" fill="#111" stroke="#111" stroke-width="0.25">873K-Nb<tspan font-size="64%" dy="1.82">2</tspan><tspan dy="-1.82">O</tspan><tspan font-size="64%" dy="1.82">5</tspan></text>
<line x1="23.40" y1="259.85" x2="38.20" y2="259.85" stroke="#a83ab8" stroke-width="1.3"/>
<text transform="translate(39.60 262.15) scale(0.92 1)" font-size="7.07" text-anchor="start" font-weight="bold" fill="#111" stroke="#111" stroke-width="0.25">973K-Nb<tspan font-size="64%" dy="1.82">2</tspan><tspan dy="-1.82">O</tspan><tspan font-size="64%" dy="1.82">5</tspan></text>
<g clip-path="url(#clipE)">
<path d="M242.00,335.95 L242.27,336.64 L242.53,337.18 L242.80,337.66 L243.06,338.24 L243.33,338.66 L243.60,339.24 L243.86,339.81 L244.13,339.98 L244.39,340.33 L244.66,340.80 L244.93,341.09 L245.19,341.35 L245.46,341.49 L245.73,341.84 L245.99,342.16 L246.26,342.12 L246.52,342.41 L246.79,342.41 L247.06,342.64 L247.32,342.72 L247.59,343.04 L247.85,343.03 L248.12,343.31 L248.39,343.39 L248.65,343.42 L248.92,343.21 L249.18,343.50 L249.45,343.60 L249.72,343.66 L249.98,343.49 L250.25,343.64 L250.51,343.59 L250.78,343.61 L251.05,343.84 L251.31,343.61 L251.58,343.69 L251.85,343.79 L252.11,343.60 L252.38,343.63 L252.64,343.64 L252.91,343.61 L253.18,343.43 L253.44,343.57 L253.71,343.69 L253.97,343.32 L254.24,343.59 L254.51,343.48 L254.77,343.37 L255.04,343.67 L255.30,343.51 L255.57,343.26 L255.84,343.40 L256.10,343.46 L256.37,343.36 L256.63,343.47 L256.90,343.38 L257.17,343.47 L257.43,343.58 L257.70,343.34 L257.97,343.46 L258.23,343.39 L258.50,343.49 L258.76,343.35 L259.03,343.45 L259.30,343.52 L259.56,343.68 L259.83,343.74 L260.09,343.47 L260.36,343.57 L260.63,343.77 L260.89,343.48 L261.16,343.69 L261.42,343.76 L261.69,343.95 L261.96,343.91 L262.22,343.81 L262.49,343.82 L262.76,343.85 L263.02,344.08 L263.29,343.86 L263.55,343.88 L263.82,343.96 L264.09,343.90 L264.35,343.89 L264.62,343.77 L264.88,343.89 L265.15,343.83 L265.42,344.00 L265.68,343.92 L265.95,343.81 L266.21,343.87 L266.48,343.72 L266.75,343.85 L267.01,343.69 L267.28,343.73 L267.54,343.47 L267.81,343.62 L268.08,343.34 L268.34,343.26 L268.61,343.44 L268.88,343.33 L269.14,343.42 L269.41,343.64 L269.67,343.24 L269.94,343.24 L270.21,343.32 L270.47,343.34 L270.74,343.24 L271.00,343.23 L271.27,343.33 L271.54,343.31 L271.80,343.13 L272.07,343.25 L272.33,343.28 L272.60,343.17 L272.87,343.35 L273.13,343.24 L273.40,343.50 L273.66,343.44 L273.93,343.47 L274.20,343.43 L274.46,343.54 L274.73,343.36 L275.00,343.52 L275.26,343.75 L275.53,343.51 L275.79,343.92 L276.06,343.66 L276.33,344.02 L276.59,343.88 L276.86,344.12 L277.12,344.09 L277.39,343.93 L277.66,344.30 L277.92,344.36 L278.19,344.20 L278.45,344.19 L278.72,344.21 L278.99,344.11 L279.25,344.34 L279.52,344.11 L279.78,344.12 L280.05,343.97 L280.32,343.90 L280.58,343.71 L280.85,343.88 L281.12,343.54 L281.38,343.48 L281.65,343.12 L281.91,342.75 L282.18,342.47 L282.45,342.05 L282.71,341.68 L282.98,341.12 L283.24,340.54 L283.51,339.76 L283.78,339.08 L284.04,338.54 L284.31,337.34 L284.57,336.27 L284.84,335.31 L285.11,334.21 L285.37,332.53 L285.64,331.24 L285.90,329.64 L286.17,327.86 L286.44,326.43 L286.70,324.52 L286.97,322.64 L287.24,320.58 L287.50,318.73 L287.77,316.58 L288.03,314.59 L288.30,312.44 L288.57,310.43 L288.83,308.80 L289.10,306.71 L289.36,305.05 L289.63,303.37 L289.90,301.84 L290.16,300.51 L290.43,299.51 L290.69,298.47 L290.96,297.78 L291.23,297.32 L291.49,297.21 L291.76,297.15 L292.02,297.35 L292.29,297.71 L292.56,298.31 L292.82,299.51 L293.09,300.64 L293.36,301.82 L293.62,303.39 L293.89,305.06 L294.15,306.83 L294.42,308.71 L294.69,310.49 L294.95,312.73 L295.22,314.43 L295.48,316.73 L295.75,318.72 L296.02,320.77 L296.28,322.85 L296.55,324.70 L296.81,326.20 L297.08,327.86 L297.35,329.80 L297.61,331.11 L297.88,332.65 L298.15,334.07 L298.41,334.97 L298.68,336.02 L298.94,337.29 L299.21,338.16 L299.48,338.92 L299.74,339.65 L300.01,340.16 L300.27,340.63 L300.54,341.26 L300.81,341.57 L301.07,341.84 L301.34,342.39 L301.60,342.58 L301.87,342.85 L302.14,342.86 L302.40,343.05 L302.67,343.14 L302.93,343.26 L303.20,343.49 L303.47,343.45 L303.73,343.65 L304.00,343.71 L304.27,343.97 L304.53,343.61 L304.80,343.93 L305.06,343.85 L305.33,343.91 L305.60,343.78 L305.86,343.94 L306.13,344.12 L306.39,344.06 L306.66,344.12 L306.93,344.12 L307.19,344.33 L307.46,344.23 L307.72,344.01 L307.99,344.22 L308.26,344.11 L308.52,343.98 L308.79,344.34 L309.05,344.60 L309.32,344.47 L309.59,344.34 L309.85,344.39 L310.12,344.66 L310.39,344.55 L310.65,344.55 L310.92,344.54 L311.18,344.55 L311.45,344.64 L311.72,344.61 L311.98,344.56 L312.25,344.39 L312.51,344.56 L312.78,344.40 L313.05,344.59 L313.31,344.28 L313.58,344.38 L313.84,344.37 L314.11,344.17 L314.38,344.51 L314.64,344.44 L314.91,344.17 L315.17,344.28 L315.44,344.20 L315.71,343.80 L315.97,344.11 L316.24,344.04 L316.51,344.02 L316.77,343.85 L317.04,343.92 L317.30,343.91 L317.57,344.05 L317.84,343.93 L318.10,343.87 L318.37,344.05 L318.63,343.79 L318.90,343.80 L319.17,343.63 L319.43,344.04 L319.70,343.98 L319.96,343.98 L320.23,343.97 L320.50,343.92 L320.76,343.95 L321.03,343.92 L321.29,343.96 L321.56,344.02 L321.83,344.22 L322.09,344.14 L322.36,344.10 L322.63,344.08 L322.89,344.11 L323.16,344.41 L323.42,344.32 L323.69,344.30 L323.96,344.29 L324.22,344.23 L324.49,344.39 L324.75,344.53 L325.02,344.40 L325.29,344.45 L325.55,344.47 L325.82,344.53 L326.08,344.34 L326.35,344.51 L326.62,344.44 L326.88,344.66 L327.15,344.46 L327.41,344.61 L327.68,344.72 L327.95,344.48 L328.21,344.43 L328.48,344.51 L328.75,344.46 L329.01,344.31 L329.28,344.45 L329.54,344.60 L329.81,344.29 L330.08,344.25 L330.34,344.09 L330.61,344.20 L330.87,343.95 L331.14,343.89 L331.41,344.10 L331.67,343.75 L331.94,343.88 L332.20,343.81 L332.47,343.52 L332.74,343.40 L333.00,343.38 L333.27,342.91 L333.54,342.63 L333.80,342.26 L334.07,342.11 L334.33,341.94 L334.60,341.48 L334.87,340.82 L335.13,340.36 L335.40,339.89 L335.66,339.44 L335.93,338.80 L336.20,338.24 L336.46,337.63 L336.73,336.92 L336.99,336.32 L337.26,335.74 L337.53,335.11 L337.79,334.63 L338.06,334.29 L338.32,333.70 L338.59,333.27 L338.86,332.79 L339.12,332.85 L339.39,332.48 L339.66,332.55 L339.92,332.93 L340.19,333.12 L340.45,333.31 L340.72,333.51 L340.99,334.13 L341.25,334.62 L341.52,335.36 L341.78,336.17 L342.05,336.57 L342.32,337.11 L342.58,337.73 L342.85,338.51 L343.11,339.13 L343.38,339.62 L343.65,340.34 L343.91,340.71 L344.18,341.46 L344.44,341.89 L344.71,342.27 L344.98,342.42 L345.24,342.83 L345.51,343.00 L345.78,343.17 L346.04,343.34 L346.31,343.36 L346.57,343.45 L346.84,343.79 L347.11,343.73 L347.37,343.81 L347.64,343.92 L347.90,343.60 L348.17,343.71 L348.44,343.81 L348.70,343.82 L348.97,343.70 L349.23,343.84 L349.50,343.71 L349.77,343.51 L350.03,343.52 L350.30,343.70 L350.56,343.63 L350.83,343.32 L351.10,343.68 L351.36,343.57 L351.63,343.65 L351.90,343.43 L352.16,343.43 L352.43,343.32 L352.69,343.76 L352.96,343.44 L353.23,343.66 L353.49,343.41 L353.76,343.53 L354.02,343.33 L354.29,343.51 L354.56,343.71 L354.82,343.48 L355.09,343.80 L355.35,343.75 L355.62,343.63 L355.89,343.75 L356.15,343.80 L356.42,343.90 L356.68,343.89 L356.95,343.91 L357.22,344.02 L357.48,343.98 L357.75,343.99 L358.02,344.18 L358.28,344.32 L358.55,344.07 L358.81,344.28 L359.08,344.22 L359.35,344.20 L359.61,344.43 L359.88,344.27 L360.14,344.51 L360.41,344.24 L360.68,344.37 L360.94,344.28 L361.21,344.20 L361.47,344.34 L361.74,344.23 L362.01,344.29 L362.27,344.19 L362.54,344.03 L362.80,344.12 L363.07,344.11 L363.34,344.19 L363.60,343.93 L363.87,344.01 L364.14,343.78 L364.40,344.03 L364.67,343.80 L364.93,343.69 L365.20,343.88 L365.47,344.01 L365.73,343.68 L366.00,343.72 L366.26,343.76 L366.53,343.71 L366.80,343.90 L367.06,343.76 L367.33,343.78 L367.59,343.95 L367.86,343.81 L368.13,343.97 L368.39,343.83 L368.66,343.82 L368.92,343.78 L369.19,344.25 L369.46,344.02 L369.72,344.12 L369.99,344.12 L370.26,344.18 L370.52,344.20 L370.79,344.45 L371.05,344.13 L371.32,344.10 L371.59,344.19 L371.85,344.17 L372.12,344.44 L372.38,344.47 L372.65,344.27 L372.92,344.22 L373.18,344.35 L373.45,344.56 L373.71,344.05 L373.98,344.44 L374.25,344.23 L374.51,344.46 L374.78,344.18 L375.05,344.24 L375.31,344.06 L375.58,344.08 L375.84,344.32 L376.11,344.21 L376.38,344.01 L376.64,343.91 L376.91,343.74 L377.17,343.86 L377.44,343.86 L377.71,343.80 L377.97,343.75 L378.24,343.59 L378.50,343.67 L378.77,343.64 L379.04,343.76 L379.30,343.80 L379.57,343.53 L379.83,343.44 L380.10,343.51 L380.37,343.43 L380.63,343.41 L380.90,343.49 L381.17,343.38 L381.43,343.58 L381.70,343.51 L381.96,343.57 L382.23,343.54 L382.50,343.50 L382.76,343.50 L383.03,343.62 L383.29,343.61 L383.56,343.74 L383.83,343.75 L384.09,343.62 L384.36,343.83 L384.62,343.70 L384.89,343.82 L385.16,343.89 L385.42,343.71 L385.69,344.00 L385.95,344.03 L386.22,344.01 L386.49,343.98 L386.75,343.99 L387.02,343.91 L387.29,343.97 L387.55,343.90 L387.82,343.93 L388.08,343.70 L388.35,343.78 L388.62,343.66 L388.88,343.49 L389.15,343.29 L389.41,343.22 L389.68,342.74 L389.95,342.75 L390.21,342.45 L390.48,342.15 L390.74,341.83 L391.01,341.35 L391.28,341.01 L391.54,340.71 L391.81,340.26 L392.07,339.79 L392.34,339.13 L392.61,338.92 L392.87,338.54 L393.14,338.07 L393.41,337.55 L393.67,336.92 L393.94,336.84 L394.20,336.36 L394.47,335.76 L394.74,335.85 L395.00,335.41 L395.27,335.28 L395.53,335.26 L395.80,335.44 L396.07,335.26 L396.33,335.42 L396.60,335.73 L396.86,335.90 L397.13,335.93 L397.40,336.20 L397.66,336.40 L397.93,336.83 L398.19,337.35 L398.46,337.76 L398.73,338.15 L398.99,338.70 L399.26,338.93 L399.53,339.45 L399.79,339.98 L400.06,340.39 L400.32,340.85 L400.59,341.16 L400.86,341.44 L401.12,341.87 L401.39,342.03 L401.65,342.25 L401.92,342.79 L402.19,342.96 L402.45,343.22 L402.72,343.18 L402.98,343.52 L403.25,343.65 L403.52,343.76 L403.78,343.71 L404.05,344.04 L404.31,344.28 L404.58,344.28 L404.85,344.22 L405.11,344.34 L405.38,344.46 L405.65,344.06 L405.91,344.39 L406.18,344.48 L406.44,344.49 L406.71,344.59 L406.98,344.50 L407.24,344.38 L407.51,344.34 L407.77,344.36 L408.04,344.15 L408.31,344.16 L408.57,344.21 L408.84,344.28 L409.10,343.96 L409.37,343.91 L409.64,343.88 L409.90,343.95 L410.17,343.72 L410.44,343.84 L410.70,343.48 L410.97,343.52 L411.23,343.46 L411.50,343.53 L411.77,343.52 L412.03,343.17 L412.30,343.21 L412.56,343.34 L412.83,343.20 L413.10,343.09 L413.36,343.39 L413.63,343.33 L413.89,343.35 L414.16,343.25 L414.43,343.45 L414.69,343.33 L414.96,343.53 L415.22,343.33 L415.49,343.38 L415.76,343.56 L416.02,343.50 L416.29,343.72 L416.56,343.72 L416.82,343.63 L417.09,343.80 L417.35,343.80 L417.62,344.00 L417.89,343.86 L418.15,343.92 L418.42,344.14 L418.68,344.29 L418.95,344.28 L419.22,344.05 L419.48,344.07 L419.75,344.21 L420.01,343.98 L420.28,343.84 L420.55,343.91 L420.81,343.87 L421.08,343.63 L421.34,343.42 L421.61,343.31 L421.88,343.41 L422.14,343.06 L422.41,342.94 L422.68,342.75 L422.94,342.55 L423.21,342.15 L423.47,341.95 L423.74,341.44 L424.01,341.14 L424.27,340.67 L424.54,340.50 L424.80,339.91 L425.07,339.35 L425.34,338.89 L425.60,338.38 L425.87,337.94 L426.13,337.09 L426.40,336.57 L426.67,336.05 L426.93,335.79 L427.20,334.98 L427.46,334.23 L427.73,333.71 L428.00,333.27" fill="none" stroke="#ffc83c" stroke-width="1.2" stroke-linejoin="round" stroke-linecap="round"/>
<path d="M242.00,335.75 L242.27,336.38 L242.53,337.18 L242.80,337.65 L243.06,338.18 L243.33,338.51 L243.60,339.23 L243.86,339.60 L244.13,339.83 L244.39,340.17 L244.66,340.15 L244.93,340.74 L245.19,340.89 L245.46,341.19 L245.73,341.42 L245.99,341.48 L246.26,341.48 L246.52,341.87 L246.79,341.87 L247.06,342.03 L247.32,342.10 L247.59,342.21 L247.85,342.05 L248.12,342.54 L248.39,342.48 L248.65,342.63 L248.92,342.78 L249.18,342.58 L249.45,342.39 L249.72,342.52 L249.98,342.51 L250.25,342.61 L250.51,342.69 L250.78,342.46 L251.05,342.75 L251.31,342.54 L251.58,342.77 L251.85,342.73 L252.11,342.72 L252.38,342.76 L252.64,342.72 L252.91,342.73 L253.18,342.62 L253.44,342.83 L253.71,343.08 L253.97,343.11 L254.24,343.06 L254.51,343.01 L254.77,342.87 L255.04,343.15 L255.30,342.99 L255.57,343.02 L255.84,343.02 L256.10,343.09 L256.37,343.06 L256.63,343.13 L256.90,343.03 L257.17,343.14 L257.43,343.49 L257.70,343.23 L257.97,343.23 L258.23,343.34 L258.50,343.37 L258.76,343.17 L259.03,343.29 L259.30,343.43 L259.56,343.36 L259.83,343.35 L260.09,343.52 L260.36,343.25 L260.63,343.33 L260.89,343.25 L261.16,343.48 L261.42,343.05 L261.69,343.19 L261.96,343.18 L262.22,343.30 L262.49,343.27 L262.76,343.34 L263.02,342.95 L263.29,343.20 L263.55,343.04 L263.82,342.97 L264.09,343.08 L264.35,342.87 L264.62,342.70 L264.88,342.87 L265.15,342.70 L265.42,342.77 L265.68,342.87 L265.95,342.83 L266.21,342.96 L266.48,342.72 L266.75,342.54 L267.01,342.61 L267.28,342.57 L267.54,342.53 L267.81,342.71 L268.08,342.58 L268.34,342.41 L268.61,342.74 L268.88,342.64 L269.14,342.71 L269.41,342.69 L269.67,342.77 L269.94,342.71 L270.21,342.88 L270.47,342.81 L270.74,342.83 L271.00,342.87 L271.27,342.68 L271.54,342.87 L271.80,342.90 L272.07,343.00 L272.33,342.85 L272.60,343.26 L272.87,343.12 L273.13,343.00 L273.40,342.99 L273.66,343.21 L273.93,343.27 L274.20,343.24 L274.46,343.38 L274.73,343.33 L275.00,343.51 L275.26,343.39 L275.53,343.50 L275.79,343.65 L276.06,343.86 L276.33,343.45 L276.59,343.52 L276.86,343.48 L277.12,343.68 L277.39,343.44 L277.66,343.51 L277.92,343.54 L278.19,343.40 L278.45,343.36 L278.72,343.36 L278.99,343.10 L279.25,343.10 L279.52,343.13 L279.78,343.08 L280.05,342.90 L280.32,342.54 L280.58,342.49 L280.85,342.41 L281.12,342.10 L281.38,341.69 L281.65,341.21 L281.91,340.95 L282.18,340.28 L282.45,339.61 L282.71,338.96 L282.98,338.44 L283.24,337.39 L283.51,336.48 L283.78,335.13 L284.04,334.00 L284.31,332.37 L284.57,330.82 L284.84,329.36 L285.11,327.22 L285.37,324.96 L285.64,322.73 L285.90,320.34 L286.17,317.83 L286.44,314.87 L286.70,311.81 L286.97,308.96 L287.24,305.87 L287.50,302.67 L287.77,299.55 L288.03,296.15 L288.30,292.94 L288.57,289.48 L288.83,286.57 L289.10,283.70 L289.36,280.67 L289.63,277.94 L289.90,275.50 L290.16,273.53 L290.43,271.33 L290.69,269.89 L290.96,268.76 L291.23,267.97 L291.49,267.38 L291.76,267.41 L292.02,267.66 L292.29,268.42 L292.56,269.46 L292.82,270.78 L293.09,272.68 L293.36,274.86 L293.62,277.00 L293.89,279.68 L294.15,282.60 L294.42,285.37 L294.69,288.63 L294.95,291.69 L295.22,295.21 L295.48,298.64 L295.75,301.88 L296.02,304.84 L296.28,308.11 L296.55,311.10 L296.81,314.04 L297.08,317.02 L297.35,319.34 L297.61,322.12 L297.88,324.32 L298.15,326.65 L298.41,328.49 L298.68,330.21 L298.94,331.97 L299.21,333.52 L299.48,334.77 L299.74,336.03 L300.01,336.97 L300.27,337.71 L300.54,338.90 L300.81,339.59 L301.07,340.16 L301.34,340.69 L301.60,341.28 L301.87,341.50 L302.14,341.82 L302.40,342.18 L302.67,342.61 L302.93,342.52 L303.20,343.02 L303.47,342.96 L303.73,343.04 L304.00,343.45 L304.27,343.39 L304.53,343.33 L304.80,343.52 L305.06,343.75 L305.33,343.84 L305.60,343.70 L305.86,343.84 L306.13,343.91 L306.39,343.78 L306.66,343.93 L306.93,343.90 L307.19,343.86 L307.46,343.88 L307.72,343.95 L307.99,343.95 L308.26,343.87 L308.52,343.88 L308.79,344.06 L309.05,343.94 L309.32,344.00 L309.59,344.02 L309.85,343.92 L310.12,344.09 L310.39,343.69 L310.65,343.85 L310.92,343.69 L311.18,343.91 L311.45,343.86 L311.72,343.38 L311.98,343.46 L312.25,343.62 L312.51,343.60 L312.78,343.56 L313.05,343.43 L313.31,343.46 L313.58,343.45 L313.84,343.34 L314.11,343.45 L314.38,343.03 L314.64,343.36 L314.91,343.15 L315.17,343.38 L315.44,343.23 L315.71,343.14 L315.97,343.30 L316.24,343.15 L316.51,343.15 L316.77,343.09 L317.04,343.29 L317.30,343.37 L317.57,343.46 L317.84,343.34 L318.10,343.51 L318.37,343.42 L318.63,343.44 L318.90,343.56 L319.17,343.65 L319.43,343.52 L319.70,343.57 L319.96,343.61 L320.23,343.68 L320.50,343.60 L320.76,343.86 L321.03,343.72 L321.29,343.86 L321.56,343.73 L321.83,343.90 L322.09,343.93 L322.36,343.85 L322.63,344.16 L322.89,343.98 L323.16,344.16 L323.42,344.06 L323.69,343.87 L323.96,343.90 L324.22,343.99 L324.49,343.94 L324.75,343.92 L325.02,343.87 L325.29,343.66 L325.55,343.83 L325.82,343.57 L326.08,343.85 L326.35,343.68 L326.62,343.65 L326.88,343.68 L327.15,343.70 L327.41,343.46 L327.68,343.38 L327.95,343.43 L328.21,343.27 L328.48,343.36 L328.75,343.63 L329.01,343.28 L329.28,343.45 L329.54,343.17 L329.81,343.33 L330.08,343.22 L330.34,343.22 L330.61,343.25 L330.87,343.35 L331.14,343.11 L331.41,343.05 L331.67,342.85 L331.94,342.95 L332.20,342.76 L332.47,342.77 L332.74,342.53 L333.00,342.57 L333.27,341.92 L333.54,341.89 L333.80,341.75 L334.07,341.27 L334.33,340.85 L334.60,340.49 L334.87,339.87 L335.13,339.52 L335.40,339.22 L335.66,338.44 L335.93,337.50 L336.20,336.82 L336.46,336.15 L336.73,335.57 L336.99,334.60 L337.26,333.88 L337.53,333.36 L337.79,332.68 L338.06,331.92 L338.32,331.29 L338.59,330.77 L338.86,330.51 L339.12,330.07 L339.39,330.28 L339.66,330.08 L339.92,330.29 L340.19,330.66 L340.45,330.88 L340.72,331.01 L340.99,331.75 L341.25,332.36 L341.52,332.77 L341.78,333.44 L342.05,334.27 L342.32,334.83 L342.58,335.95 L342.85,336.22 L343.11,337.10 L343.38,337.89 L343.65,338.54 L343.91,339.19 L344.18,339.76 L344.44,340.21 L344.71,340.83 L344.98,340.83 L345.24,341.44 L345.51,341.66 L345.78,342.02 L346.04,342.25 L346.31,342.30 L346.57,342.48 L346.84,342.78 L347.11,342.83 L347.37,342.79 L347.64,343.18 L347.90,343.27 L348.17,342.86 L348.44,343.11 L348.70,343.40 L348.97,343.22 L349.23,343.17 L349.50,343.14 L349.77,343.11 L350.03,343.16 L350.30,343.13 L350.56,343.30 L350.83,343.17 L351.10,343.18 L351.36,343.10 L351.63,343.24 L351.90,343.15 L352.16,343.24 L352.43,343.40 L352.69,343.32 L352.96,343.35 L353.23,343.34 L353.49,343.31 L353.76,343.29 L354.02,343.28 L354.29,343.42 L354.56,343.20 L354.82,343.50 L355.09,343.36 L355.35,343.27 L355.62,343.31 L355.89,343.30 L356.15,343.41 L356.42,343.31 L356.68,343.54 L356.95,343.31 L357.22,343.13 L357.48,343.32 L357.75,343.17 L358.02,343.40 L358.28,343.53 L358.55,343.47 L358.81,343.23 L359.08,343.29 L359.35,343.58 L359.61,343.39 L359.88,343.34 L360.14,343.46 L360.41,343.61 L360.68,343.45 L360.94,343.30 L361.21,343.31 L361.47,343.33 L361.74,343.17 L362.01,343.11 L362.27,343.24 L362.54,343.11 L362.80,343.22 L363.07,343.24 L363.34,343.51 L363.60,343.14 L363.87,343.24 L364.14,343.24 L364.40,343.33 L364.67,343.43 L364.93,343.27 L365.20,343.25 L365.47,343.18 L365.73,343.30 L366.00,343.51 L366.26,343.48 L366.53,343.39 L366.80,343.50 L367.06,343.59 L367.33,343.68 L367.59,343.59 L367.86,343.66 L368.13,343.51 L368.39,343.62 L368.66,343.99 L368.92,343.56 L369.19,343.80 L369.46,343.89 L369.72,343.84 L369.99,343.80 L370.26,343.90 L370.52,343.92 L370.79,343.91 L371.05,343.69 L371.32,343.89 L371.59,343.80 L371.85,343.81 L372.12,343.89 L372.38,343.91 L372.65,343.91 L372.92,343.70 L373.18,343.83 L373.45,343.82 L373.71,343.76 L373.98,343.74 L374.25,343.50 L374.51,343.44 L374.78,343.50 L375.05,343.18 L375.31,343.30 L375.58,343.15 L375.84,343.11 L376.11,342.89 L376.38,342.94 L376.64,342.99 L376.91,343.05 L377.17,343.01 L377.44,342.85 L377.71,342.80 L377.97,342.69 L378.24,342.82 L378.50,342.73 L378.77,342.82 L379.04,342.96 L379.30,342.75 L379.57,342.59 L379.83,342.69 L380.10,342.65 L380.37,342.71 L380.63,343.05 L380.90,342.97 L381.17,342.80 L381.43,343.12 L381.70,343.24 L381.96,343.11 L382.23,343.13 L382.50,343.23 L382.76,343.36 L383.03,343.46 L383.29,343.58 L383.56,343.64 L383.83,343.69 L384.09,343.76 L384.36,343.71 L384.62,343.49 L384.89,343.68 L385.16,343.76 L385.42,343.69 L385.69,343.85 L385.95,343.68 L386.22,343.60 L386.49,343.85 L386.75,343.70 L387.02,343.58 L387.29,343.58 L387.55,343.48 L387.82,343.26 L388.08,342.77 L388.35,342.80 L388.62,342.60 L388.88,342.29 L389.15,342.15 L389.41,341.94 L389.68,341.38 L389.95,340.91 L390.21,340.85 L390.48,340.08 L390.74,339.48 L391.01,339.11 L391.28,338.56 L391.54,337.82 L391.81,337.38 L392.07,336.58 L392.34,335.88 L392.61,335.37 L392.87,334.80 L393.14,334.00 L393.41,333.52 L393.67,332.91 L393.94,332.74 L394.20,331.85 L394.47,331.70 L394.74,331.20 L395.00,330.93 L395.27,330.86 L395.53,330.79 L395.80,330.83 L396.07,330.80 L396.33,330.85 L396.60,331.11 L396.86,331.56 L397.13,331.97 L397.40,332.52 L397.66,332.92 L397.93,333.56 L398.19,334.22 L398.46,334.68 L398.73,335.13 L398.99,335.82 L399.26,336.45 L399.53,337.46 L399.79,337.79 L400.06,338.65 L400.32,339.16 L400.59,339.84 L400.86,340.27 L401.12,340.61 L401.39,341.04 L401.65,341.47 L401.92,341.83 L402.19,342.06 L402.45,342.40 L402.72,342.84 L402.98,342.65 L403.25,343.06 L403.52,343.06 L403.78,343.31 L404.05,343.48 L404.31,343.44 L404.58,343.59 L404.85,343.34 L405.11,343.69 L405.38,343.49 L405.65,343.63 L405.91,343.56 L406.18,343.20 L406.44,343.38 L406.71,343.46 L406.98,343.58 L407.24,343.38 L407.51,343.33 L407.77,343.07 L408.04,343.36 L408.31,343.35 L408.57,343.09 L408.84,343.00 L409.10,342.78 L409.37,343.04 L409.64,343.21 L409.90,342.93 L410.17,342.96 L410.44,342.84 L410.70,342.63 L410.97,342.89 L411.23,342.57 L411.50,342.68 L411.77,342.74 L412.03,342.82 L412.30,342.78 L412.56,342.79 L412.83,342.68 L413.10,342.65 L413.36,342.85 L413.63,342.80 L413.89,342.78 L414.16,342.84 L414.43,342.99 L414.69,342.89 L414.96,343.01 L415.22,343.03 L415.49,343.31 L415.76,343.40 L416.02,343.65 L416.29,343.28 L416.56,343.43 L416.82,343.66 L417.09,343.57 L417.35,343.59 L417.62,343.86 L417.89,343.63 L418.15,343.54 L418.42,343.51 L418.68,343.70 L418.95,343.67 L419.22,343.44 L419.48,343.44 L419.75,343.56 L420.01,343.49 L420.28,343.26 L420.55,343.31 L420.81,343.18 L421.08,342.77 L421.34,342.79 L421.61,342.71 L421.88,342.40 L422.14,342.00 L422.41,341.99 L422.68,341.86 L422.94,341.69 L423.21,340.94 L423.47,341.19 L423.74,340.40 L424.01,340.28 L424.27,339.91 L424.54,339.47 L424.80,338.92 L425.07,338.30 L425.34,338.03 L425.60,337.36 L425.87,336.62 L426.13,336.72 L426.40,335.92 L426.67,335.48 L426.93,334.58 L427.20,334.29 L427.46,333.73 L427.73,333.15 L428.00,332.40" fill="none" stroke="#ff5a1e" stroke-width="1.2" stroke-linejoin="round" stroke-linecap="round"/>
<path d="M242.00,335.19 L242.27,335.95 L242.53,336.28 L242.80,336.87 L243.06,337.57 L243.33,337.88 L243.60,338.38 L243.86,338.76 L244.13,339.33 L244.39,339.56 L244.66,339.67 L244.93,340.07 L245.19,340.06 L245.46,340.31 L245.73,340.64 L245.99,340.55 L246.26,340.81 L246.52,340.82 L246.79,341.11 L247.06,341.40 L247.32,341.21 L247.59,341.41 L247.85,341.35 L248.12,341.39 L248.39,341.45 L248.65,341.83 L248.92,341.99 L249.18,341.82 L249.45,341.72 L249.72,341.94 L249.98,341.85 L250.25,342.03 L250.51,342.01 L250.78,342.05 L251.05,342.13 L251.31,342.03 L251.58,342.09 L251.85,341.97 L252.11,342.17 L252.38,342.09 L252.64,342.28 L252.91,342.23 L253.18,342.40 L253.44,342.48 L253.71,342.29 L253.97,342.40 L254.24,342.43 L254.51,342.66 L254.77,342.81 L255.04,342.74 L255.30,342.63 L255.57,342.87 L255.84,342.54 L256.10,342.93 L256.37,342.69 L256.63,342.45 L256.90,343.11 L257.17,342.99 L257.43,342.68 L257.70,342.83 L257.97,342.78 L258.23,342.81 L258.50,342.61 L258.76,342.69 L259.03,342.81 L259.30,342.76 L259.56,342.86 L259.83,342.70 L260.09,342.94 L260.36,342.54 L260.63,342.63 L260.89,342.33 L261.16,342.38 L261.42,342.65 L261.69,342.34 L261.96,342.48 L262.22,342.37 L262.49,342.22 L262.76,342.26 L263.02,342.21 L263.29,342.18 L263.55,342.30 L263.82,342.26 L264.09,342.08 L264.35,342.02 L264.62,342.14 L264.88,342.08 L265.15,342.20 L265.42,342.38 L265.68,342.16 L265.95,342.05 L266.21,342.03 L266.48,341.95 L266.75,341.95 L267.01,341.95 L267.28,342.03 L267.54,342.04 L267.81,342.20 L268.08,342.09 L268.34,342.13 L268.61,342.04 L268.88,342.41 L269.14,342.30 L269.41,342.49 L269.67,342.41 L269.94,342.52 L270.21,342.35 L270.47,342.50 L270.74,342.78 L271.00,342.34 L271.27,342.67 L271.54,342.77 L271.80,342.65 L272.07,342.72 L272.33,342.82 L272.60,342.62 L272.87,342.77 L273.13,342.65 L273.40,342.69 L273.66,342.72 L273.93,342.80 L274.20,342.85 L274.46,342.90 L274.73,342.69 L275.00,343.11 L275.26,343.01 L275.53,342.96 L275.79,342.83 L276.06,342.85 L276.33,342.92 L276.59,342.89 L276.86,342.61 L277.12,342.89 L277.39,343.13 L277.66,342.51 L277.92,342.82 L278.19,342.70 L278.45,342.59 L278.72,342.71 L278.99,342.33 L279.25,342.41 L279.52,342.47 L279.78,342.15 L280.05,341.98 L280.32,341.89 L280.58,341.62 L280.85,341.64 L281.12,341.06 L281.38,340.96 L281.65,340.32 L281.91,340.12 L282.18,339.51 L282.45,338.60 L282.71,338.23 L282.98,337.30 L283.24,336.46 L283.51,335.66 L283.78,334.15 L284.04,332.83 L284.31,331.66 L284.57,329.84 L284.84,328.20 L285.11,326.04 L285.37,323.71 L285.64,321.45 L285.90,319.07 L286.17,316.32 L286.44,313.33 L286.70,310.30 L286.97,307.13 L287.24,303.80 L287.50,300.75 L287.77,297.10 L288.03,293.52 L288.30,290.17 L288.57,286.93 L288.83,283.62 L289.10,280.34 L289.36,277.26 L289.63,274.54 L289.90,271.76 L290.16,269.51 L290.43,267.79 L290.69,265.99 L290.96,264.82 L291.23,264.03 L291.49,263.47 L291.76,263.30 L292.02,263.87 L292.29,264.40 L292.56,265.38 L292.82,266.99 L293.09,268.77 L293.36,270.77 L293.62,273.32 L293.89,276.00 L294.15,278.70 L294.42,282.02 L294.69,285.25 L294.95,288.58 L295.22,291.84 L295.48,295.44 L295.75,298.91 L296.02,302.31 L296.28,305.47 L296.55,308.90 L296.81,311.77 L297.08,314.84 L297.35,317.83 L297.61,320.22 L297.88,322.70 L298.15,325.18 L298.41,327.10 L298.68,329.04 L298.94,330.86 L299.21,332.55 L299.48,333.58 L299.74,335.02 L300.01,336.14 L300.27,337.13 L300.54,338.05 L300.81,338.82 L301.07,339.64 L301.34,340.08 L301.60,340.71 L301.87,341.18 L302.14,341.41 L302.40,341.84 L302.67,342.29 L302.93,342.36 L303.20,342.44 L303.47,342.67 L303.73,342.70 L304.00,342.96 L304.27,343.13 L304.53,343.00 L304.80,343.14 L305.06,343.35 L305.33,343.19 L305.60,343.30 L305.86,343.17 L306.13,343.21 L306.39,343.25 L306.66,343.57 L306.93,343.25 L307.19,343.23 L307.46,343.20 L307.72,343.23 L307.99,343.31 L308.26,343.22 L308.52,343.42 L308.79,343.16 L309.05,343.28 L309.32,343.10 L309.59,343.10 L309.85,342.82 L310.12,342.94 L310.39,342.91 L310.65,342.86 L310.92,342.59 L311.18,342.92 L311.45,342.74 L311.72,342.71 L311.98,342.70 L312.25,342.68 L312.51,342.74 L312.78,342.52 L313.05,342.55 L313.31,342.69 L313.58,342.67 L313.84,342.60 L314.11,342.58 L314.38,342.56 L314.64,342.66 L314.91,342.83 L315.17,342.58 L315.44,342.91 L315.71,342.85 L315.97,342.72 L316.24,342.90 L316.51,342.66 L316.77,342.66 L317.04,342.75 L317.30,342.89 L317.57,342.94 L317.84,342.95 L318.10,343.07 L318.37,342.83 L318.63,343.18 L318.90,342.99 L319.17,343.11 L319.43,343.17 L319.70,343.11 L319.96,343.11 L320.23,343.17 L320.50,343.31 L320.76,343.40 L321.03,343.41 L321.29,343.23 L321.56,343.25 L321.83,343.24 L322.09,343.40 L322.36,343.09 L322.63,343.47 L322.89,343.25 L323.16,343.20 L323.42,343.31 L323.69,343.37 L323.96,343.26 L324.22,343.31 L324.49,343.17 L324.75,343.27 L325.02,343.23 L325.29,343.03 L325.55,343.18 L325.82,342.99 L326.08,342.95 L326.35,342.79 L326.62,342.83 L326.88,342.92 L327.15,342.64 L327.41,342.85 L327.68,342.78 L327.95,342.75 L328.21,342.43 L328.48,342.66 L328.75,342.74 L329.01,342.55 L329.28,342.64 L329.54,342.33 L329.81,342.69 L330.08,342.52 L330.34,342.69 L330.61,342.35 L330.87,342.64 L331.14,342.50 L331.41,342.59 L331.67,342.34 L331.94,342.31 L332.20,342.57 L332.47,342.09 L332.74,341.97 L333.00,341.85 L333.27,341.55 L333.54,341.56 L333.80,341.32 L334.07,340.67 L334.33,340.14 L334.60,340.01 L334.87,339.47 L335.13,338.84 L335.40,338.22 L335.66,337.27 L335.93,336.59 L336.20,335.64 L336.46,334.80 L336.73,334.24 L336.99,333.19 L337.26,332.69 L337.53,331.61 L337.79,330.75 L338.06,330.21 L338.32,329.70 L338.59,329.00 L338.86,328.36 L339.12,328.23 L339.39,328.16 L339.66,327.87 L339.92,327.91 L340.19,328.32 L340.45,328.53 L340.72,328.82 L340.99,329.44 L341.25,330.02 L341.52,330.85 L341.78,331.59 L342.05,332.51 L342.32,333.29 L342.58,333.85 L342.85,334.91 L343.11,335.78 L343.38,336.50 L343.65,337.31 L343.91,337.81 L344.18,338.40 L344.44,339.21 L344.71,339.49 L344.98,339.83 L345.24,340.63 L345.51,340.79 L345.78,341.16 L346.04,341.30 L346.31,341.55 L346.57,341.77 L346.84,342.03 L347.11,342.26 L347.37,342.06 L347.64,342.53 L347.90,342.38 L348.17,342.47 L348.44,342.74 L348.70,342.70 L348.97,342.57 L349.23,343.01 L349.50,342.71 L349.77,342.87 L350.03,342.88 L350.30,343.04 L350.56,342.83 L350.83,343.01 L351.10,342.80 L351.36,343.03 L351.63,342.79 L351.90,342.84 L352.16,343.10 L352.43,342.89 L352.69,342.85 L352.96,343.09 L353.23,342.85 L353.49,342.69 L353.76,342.86 L354.02,342.61 L354.29,342.86 L354.56,342.85 L354.82,342.62 L355.09,342.59 L355.35,342.67 L355.62,342.64 L355.89,342.50 L356.15,342.67 L356.42,342.35 L356.68,342.53 L356.95,342.52 L357.22,342.52 L357.48,342.59 L357.75,342.39 L358.02,342.61 L358.28,342.51 L358.55,342.45 L358.81,342.36 L359.08,342.38 L359.35,342.56 L359.61,342.41 L359.88,342.53 L360.14,342.66 L360.41,342.66 L360.68,342.73 L360.94,342.52 L361.21,342.44 L361.47,342.70 L361.74,342.64 L362.01,342.75 L362.27,342.64 L362.54,342.81 L362.80,342.79 L363.07,342.81 L363.34,342.81 L363.60,342.83 L363.87,342.85 L364.14,342.88 L364.40,343.01 L364.67,342.87 L364.93,343.17 L365.20,342.99 L365.47,343.16 L365.73,343.07 L366.00,343.08 L366.26,343.39 L366.53,343.14 L366.80,343.06 L367.06,343.15 L367.33,343.23 L367.59,343.55 L367.86,343.33 L368.13,343.43 L368.39,343.21 L368.66,343.38 L368.92,343.42 L369.19,343.56 L369.46,343.25 L369.72,343.40 L369.99,343.35 L370.26,343.17 L370.52,343.27 L370.79,343.22 L371.05,342.94 L371.32,343.26 L371.59,343.21 L371.85,343.05 L372.12,342.90 L372.38,343.19 L372.65,343.00 L372.92,343.04 L373.18,343.03 L373.45,342.75 L373.71,342.85 L373.98,342.67 L374.25,342.64 L374.51,342.58 L374.78,342.54 L375.05,342.62 L375.31,342.45 L375.58,342.37 L375.84,342.32 L376.11,342.35 L376.38,342.17 L376.64,342.19 L376.91,342.22 L377.17,342.14 L377.44,342.18 L377.71,342.12 L377.97,342.43 L378.24,342.36 L378.50,342.27 L378.77,342.23 L379.04,342.52 L379.30,342.33 L379.57,342.32 L379.83,342.41 L380.10,342.46 L380.37,342.64 L380.63,342.53 L380.90,342.84 L381.17,342.54 L381.43,342.79 L381.70,342.64 L381.96,343.04 L382.23,342.84 L382.50,342.93 L382.76,343.10 L383.03,343.18 L383.29,342.94 L383.56,343.07 L383.83,342.97 L384.09,343.18 L384.36,343.17 L384.62,343.15 L384.89,343.10 L385.16,343.13 L385.42,343.06 L385.69,343.17 L385.95,343.24 L386.22,342.76 L386.49,342.89 L386.75,342.74 L387.02,342.72 L387.29,342.39 L387.55,342.30 L387.82,341.97 L388.08,341.92 L388.35,341.55 L388.62,341.18 L388.88,340.85 L389.15,340.33 L389.41,339.67 L389.68,339.37 L389.95,338.72 L390.21,337.98 L390.48,337.37 L390.74,336.59 L391.01,335.45 L391.28,334.56 L391.54,333.87 L391.81,332.84 L392.07,331.53 L392.34,330.40 L392.61,329.38 L392.87,328.31 L393.14,327.11 L393.41,326.26 L393.67,325.11 L393.94,324.19 L394.20,323.60 L394.47,322.65 L394.74,322.08 L395.00,321.63 L395.27,321.26 L395.53,320.86 L395.80,320.79 L396.07,320.72 L396.33,321.21 L396.60,321.39 L396.86,321.64 L397.13,322.36 L397.40,323.14 L397.66,323.92 L397.93,324.98 L398.19,325.90 L398.46,326.70 L398.73,327.82 L398.99,328.78 L399.26,330.07 L399.53,331.16 L399.79,332.55 L400.06,333.29 L400.32,334.04 L400.59,335.17 L400.86,336.16 L401.12,336.84 L401.39,337.66 L401.65,338.42 L401.92,339.15 L402.19,339.66 L402.45,340.07 L402.72,340.71 L402.98,340.94 L403.25,341.27 L403.52,341.44 L403.78,341.74 L404.05,342.10 L404.31,341.98 L404.58,342.29 L404.85,342.47 L405.11,342.41 L405.38,342.53 L405.65,342.40 L405.91,342.70 L406.18,342.68 L406.44,342.57 L406.71,342.32 L406.98,342.39 L407.24,342.61 L407.51,342.67 L407.77,342.48 L408.04,342.56 L408.31,342.31 L408.57,342.34 L408.84,342.34 L409.10,342.37 L409.37,342.12 L409.64,342.40 L409.90,342.43 L410.17,342.13 L410.44,342.10 L410.70,342.30 L410.97,342.19 L411.23,341.99 L411.50,342.39 L411.77,342.33 L412.03,342.28 L412.30,342.62 L412.56,342.41 L412.83,342.34 L413.10,342.49 L413.36,342.39 L413.63,342.47 L413.89,342.66 L414.16,342.59 L414.43,342.65 L414.69,342.96 L414.96,342.91 L415.22,342.94 L415.49,342.95 L415.76,342.99 L416.02,343.14 L416.29,342.99 L416.56,343.24 L416.82,342.92 L417.09,343.01 L417.35,342.88 L417.62,343.00 L417.89,343.09 L418.15,343.18 L418.42,342.90 L418.68,342.94 L418.95,342.85 L419.22,342.75 L419.48,342.62 L419.75,342.70 L420.01,342.39 L420.28,342.51 L420.55,342.38 L420.81,342.17 L421.08,341.99 L421.34,341.79 L421.61,342.01 L421.88,341.44 L422.14,341.58 L422.41,341.24 L422.68,340.89 L422.94,340.53 L423.21,340.51 L423.47,340.29 L423.74,339.65 L424.01,339.38 L424.27,339.17 L424.54,338.69 L424.80,338.48 L425.07,337.73 L425.34,337.41 L425.60,336.72 L425.87,336.62 L426.13,335.77 L426.40,335.07 L426.67,334.78 L426.93,334.23 L427.20,333.92 L427.46,333.10 L427.73,332.58 L428.00,332.10" fill="none" stroke="#b02a30" stroke-width="1.2" stroke-linejoin="round" stroke-linecap="round"/>
<path d="M242.00,335.37 L242.27,335.77 L242.53,336.45 L242.80,336.88 L243.06,337.24 L243.33,337.71 L243.60,338.08 L243.86,338.31 L244.13,338.88 L244.39,338.86 L244.66,339.43 L244.93,339.64 L245.19,339.74 L245.46,339.86 L245.73,340.11 L245.99,340.36 L246.26,340.55 L246.52,340.63 L246.79,340.85 L247.06,340.79 L247.32,341.00 L247.59,340.89 L247.85,341.28 L248.12,341.30 L248.39,341.33 L248.65,341.60 L248.92,341.63 L249.18,341.30 L249.45,341.72 L249.72,341.62 L249.98,341.99 L250.25,342.24 L250.51,341.95 L250.78,342.09 L251.05,342.12 L251.31,342.25 L251.58,342.35 L251.85,342.49 L252.11,342.27 L252.38,342.63 L252.64,342.38 L252.91,342.58 L253.18,342.73 L253.44,342.71 L253.71,342.55 L253.97,342.61 L254.24,342.67 L254.51,342.74 L254.77,342.90 L255.04,342.62 L255.30,342.84 L255.57,342.86 L255.84,342.86 L256.10,342.84 L256.37,342.96 L256.63,342.82 L256.90,342.84 L257.17,342.78 L257.43,342.90 L257.70,342.43 L257.97,342.78 L258.23,342.56 L258.50,342.51 L258.76,342.39 L259.03,342.24 L259.30,342.37 L259.56,342.29 L259.83,342.39 L260.09,342.11 L260.36,342.42 L260.63,342.23 L260.89,342.13 L261.16,342.04 L261.42,341.99 L261.69,341.92 L261.96,341.96 L262.22,342.00 L262.49,341.95 L262.76,341.78 L263.02,341.91 L263.29,341.82 L263.55,341.94 L263.82,342.14 L264.09,342.00 L264.35,341.89 L264.62,341.74 L264.88,341.78 L265.15,341.77 L265.42,342.08 L265.68,341.92 L265.95,342.05 L266.21,341.99 L266.48,342.11 L266.75,342.30 L267.01,342.08 L267.28,342.16 L267.54,342.14 L267.81,342.38 L268.08,342.19 L268.34,342.21 L268.61,342.21 L268.88,342.25 L269.14,342.50 L269.41,342.79 L269.67,342.39 L269.94,342.65 L270.21,342.59 L270.47,342.45 L270.74,342.57 L271.00,342.59 L271.27,342.55 L271.54,342.87 L271.80,342.42 L272.07,342.70 L272.33,342.70 L272.60,342.59 L272.87,342.67 L273.13,342.75 L273.40,342.66 L273.66,342.68 L273.93,342.70 L274.20,342.36 L274.46,342.77 L274.73,342.85 L275.00,342.68 L275.26,342.66 L275.53,342.35 L275.79,342.49 L276.06,342.39 L276.33,342.39 L276.59,342.56 L276.86,342.33 L277.12,342.39 L277.39,342.15 L277.66,342.34 L277.92,342.35 L278.19,342.23 L278.45,342.20 L278.72,342.48 L278.99,342.07 L279.25,342.05 L279.52,342.02 L279.78,342.20 L280.05,342.23 L280.32,341.93 L280.58,341.69 L280.85,341.58 L281.12,341.59 L281.38,341.15 L281.65,341.19 L281.91,340.89 L282.18,340.38 L282.45,340.04 L282.71,339.57 L282.98,339.10 L283.24,338.14 L283.51,337.67 L283.78,336.64 L284.04,335.63 L284.31,334.66 L284.57,333.42 L284.84,332.00 L285.11,330.46 L285.37,328.94 L285.64,327.49 L285.90,325.68 L286.17,323.52 L286.44,321.46 L286.70,319.02 L286.97,316.73 L287.24,314.35 L287.50,311.70 L287.77,309.18 L288.03,306.75 L288.30,304.15 L288.57,301.54 L288.83,299.26 L289.10,296.81 L289.36,294.72 L289.63,292.50 L289.90,290.54 L290.16,288.88 L290.43,287.35 L290.69,286.06 L290.96,285.13 L291.23,284.58 L291.49,284.18 L291.76,284.17 L292.02,284.02 L292.29,284.69 L292.56,285.48 L292.82,286.63 L293.09,287.89 L293.36,289.46 L293.62,291.41 L293.89,293.33 L294.15,295.32 L294.42,297.92 L294.69,300.27 L294.95,302.56 L295.22,305.26 L295.48,307.62 L295.75,310.39 L296.02,312.74 L296.28,315.14 L296.55,317.58 L296.81,319.84 L297.08,322.16 L297.35,324.24 L297.61,326.20 L297.88,327.97 L298.15,329.30 L298.41,331.33 L298.68,332.54 L298.94,334.11 L299.21,335.41 L299.48,336.38 L299.74,337.27 L300.01,338.14 L300.27,338.91 L300.54,339.52 L300.81,340.10 L301.07,340.56 L301.34,341.25 L301.60,341.48 L301.87,341.91 L302.14,342.04 L302.40,342.30 L302.67,342.46 L302.93,342.69 L303.20,342.86 L303.47,342.89 L303.73,342.86 L304.00,342.91 L304.27,343.25 L304.53,343.04 L304.80,343.06 L305.06,343.28 L305.33,343.23 L305.60,343.16 L305.86,343.03 L306.13,343.34 L306.39,343.08 L306.66,343.07 L306.93,342.95 L307.19,342.77 L307.46,342.74 L307.72,342.92 L307.99,342.88 L308.26,342.77 L308.52,342.63 L308.79,342.56 L309.05,342.66 L309.32,342.50 L309.59,342.75 L309.85,342.76 L310.12,342.94 L310.39,342.69 L310.65,342.50 L310.92,342.45 L311.18,342.14 L311.45,342.48 L311.72,342.53 L311.98,342.67 L312.25,342.64 L312.51,342.65 L312.78,342.62 L313.05,342.69 L313.31,342.81 L313.58,342.53 L313.84,342.64 L314.11,342.56 L314.38,342.95 L314.64,342.94 L314.91,342.92 L315.17,342.72 L315.44,342.92 L315.71,342.91 L315.97,342.98 L316.24,342.99 L316.51,343.10 L316.77,343.03 L317.04,343.21 L317.30,343.16 L317.57,343.13 L317.84,343.17 L318.10,343.15 L318.37,343.32 L318.63,343.20 L318.90,343.28 L319.17,343.20 L319.43,343.07 L319.70,343.36 L319.96,343.11 L320.23,343.31 L320.50,343.27 L320.76,343.00 L321.03,343.07 L321.29,343.09 L321.56,343.03 L321.83,342.96 L322.09,343.16 L322.36,343.01 L322.63,343.05 L322.89,342.91 L323.16,342.96 L323.42,342.80 L323.69,342.85 L323.96,342.89 L324.22,342.79 L324.49,342.69 L324.75,342.59 L325.02,342.71 L325.29,342.70 L325.55,342.60 L325.82,342.52 L326.08,342.66 L326.35,342.87 L326.62,342.53 L326.88,342.59 L327.15,342.60 L327.41,342.24 L327.68,342.57 L327.95,342.47 L328.21,342.73 L328.48,342.55 L328.75,342.50 L329.01,342.59 L329.28,342.65 L329.54,342.59 L329.81,342.67 L330.08,342.53 L330.34,342.69 L330.61,342.82 L330.87,342.97 L331.14,342.82 L331.41,342.76 L331.67,342.84 L331.94,342.79 L332.20,342.81 L332.47,342.66 L332.74,342.41 L333.00,342.31 L333.27,342.13 L333.54,341.94 L333.80,341.67 L334.07,341.26 L334.33,340.75 L334.60,340.53 L334.87,339.91 L335.13,339.66 L335.40,339.11 L335.66,338.31 L335.93,337.95 L336.20,337.30 L336.46,336.51 L336.73,335.98 L336.99,335.29 L337.26,334.21 L337.53,333.79 L337.79,333.07 L338.06,332.47 L338.32,331.99 L338.59,331.33 L338.86,330.98 L339.12,330.67 L339.39,330.51 L339.66,330.52 L339.92,330.40 L340.19,330.60 L340.45,331.05 L340.72,331.32 L340.99,331.80 L341.25,332.04 L341.52,332.74 L341.78,333.39 L342.05,334.11 L342.32,334.72 L342.58,335.59 L342.85,336.15 L343.11,336.83 L343.38,337.48 L343.65,338.18 L343.91,338.62 L344.18,339.36 L344.44,339.77 L344.71,340.19 L344.98,340.59 L345.24,341.01 L345.51,341.39 L345.78,341.67 L346.04,341.84 L346.31,342.12 L346.57,342.21 L346.84,342.50 L347.11,342.48 L347.37,342.35 L347.64,342.85 L347.90,342.78 L348.17,342.69 L348.44,342.86 L348.70,342.82 L348.97,343.21 L349.23,343.03 L349.50,342.80 L349.77,343.06 L350.03,342.94 L350.30,343.21 L350.56,342.84 L350.83,342.67 L351.10,342.93 L351.36,342.84 L351.63,342.80 L351.90,342.55 L352.16,342.82 L352.43,342.92 L352.69,342.45 L352.96,342.77 L353.23,342.51 L353.49,342.82 L353.76,342.54 L354.02,342.42 L354.29,342.53 L354.56,342.42 L354.82,342.25 L355.09,342.37 L355.35,342.20 L355.62,342.02 L355.89,342.46 L356.15,342.16 L356.42,342.12 L356.68,342.22 L356.95,341.99 L357.22,342.02 L357.48,342.13 L357.75,342.14 L358.02,342.22 L358.28,342.37 L358.55,342.20 L358.81,342.34 L359.08,342.38 L359.35,342.20 L359.61,342.39 L359.88,342.29 L360.14,342.57 L360.41,342.53 L360.68,342.52 L360.94,342.40 L361.21,342.61 L361.47,342.55 L361.74,342.77 L362.01,342.72 L362.27,342.68 L362.54,342.93 L362.80,342.95 L363.07,342.83 L363.34,343.08 L363.60,342.95 L363.87,342.98 L364.14,343.07 L364.40,343.00 L364.67,343.07 L364.93,343.13 L365.20,343.36 L365.47,343.38 L365.73,343.18 L366.00,343.42 L366.26,343.23 L366.53,343.29 L366.80,343.35 L367.06,343.28 L367.33,343.53 L367.59,343.26 L367.86,343.08 L368.13,343.36 L368.39,343.13 L368.66,343.12 L368.92,342.77 L369.19,343.22 L369.46,343.17 L369.72,343.13 L369.99,343.11 L370.26,343.16 L370.52,342.91 L370.79,342.99 L371.05,342.74 L371.32,342.75 L371.59,342.87 L371.85,342.75 L372.12,342.50 L372.38,342.66 L372.65,342.55 L372.92,342.44 L373.18,342.55 L373.45,342.41 L373.71,342.24 L373.98,342.26 L374.25,342.58 L374.51,342.15 L374.78,342.34 L375.05,342.36 L375.31,342.35 L375.58,342.11 L375.84,342.21 L376.11,342.26 L376.38,342.33 L376.64,342.16 L376.91,342.11 L377.17,342.38 L377.44,342.40 L377.71,342.34 L377.97,342.24 L378.24,342.39 L378.50,342.39 L378.77,342.51 L379.04,342.30 L379.30,342.50 L379.57,342.51 L379.83,342.44 L380.10,342.65 L380.37,342.67 L380.63,342.66 L380.90,342.80 L381.17,342.63 L381.43,342.83 L381.70,342.92 L381.96,342.93 L382.23,343.05 L382.50,342.80 L382.76,342.77 L383.03,342.98 L383.29,342.99 L383.56,343.17 L383.83,342.96 L384.09,342.73 L384.36,342.86 L384.62,342.58 L384.89,342.40 L385.16,342.76 L385.42,342.33 L385.69,342.19 L385.95,341.95 L386.22,341.84 L386.49,341.36 L386.75,341.13 L387.02,340.47 L387.29,339.98 L387.55,339.83 L387.82,339.28 L388.08,338.55 L388.35,337.85 L388.62,337.11 L388.88,336.22 L389.15,335.65 L389.41,334.65 L389.68,333.69 L389.95,332.70 L390.21,331.78 L390.48,330.69 L390.74,329.68 L391.01,328.43 L391.28,327.63 L391.54,326.86 L391.81,325.62 L392.07,324.82 L392.34,324.18 L392.61,323.51 L392.87,322.90 L393.14,322.19 L393.41,322.12 L393.67,321.73 L393.94,321.72 L394.20,321.98 L394.47,322.10 L394.74,322.59 L395.00,323.36 L395.27,323.68 L395.53,324.38 L395.80,324.99 L396.07,325.90 L396.33,326.79 L396.60,327.85 L396.86,328.81 L397.13,329.91 L397.40,331.01 L397.66,331.96 L397.93,332.92 L398.19,333.91 L398.46,335.07 L398.73,335.91 L398.99,336.85 L399.26,337.62 L399.53,338.16 L399.79,338.92 L400.06,339.25 L400.32,340.21 L400.59,340.53 L400.86,340.75 L401.12,340.97 L401.39,341.45 L401.65,341.42 L401.92,341.75 L402.19,342.10 L402.45,342.15 L402.72,342.19 L402.98,342.44 L403.25,342.27 L403.52,342.47 L403.78,342.40 L404.05,342.38 L404.31,342.55 L404.58,342.37 L404.85,342.72 L405.11,342.41 L405.38,342.71 L405.65,342.34 L405.91,342.53 L406.18,342.30 L406.44,342.28 L406.71,342.45 L406.98,342.50 L407.24,342.26 L407.51,342.55 L407.77,342.31 L408.04,342.42 L408.31,342.45 L408.57,342.47 L408.84,342.19 L409.10,342.60 L409.37,342.48 L409.64,342.36 L409.90,342.30 L410.17,342.23 L410.44,342.28 L410.70,342.52 L410.97,342.42 L411.23,342.34 L411.50,342.43 L411.77,342.70 L412.03,342.49 L412.30,342.48 L412.56,342.73 L412.83,342.65 L413.10,342.62 L413.36,342.57 L413.63,342.47 L413.89,342.54 L414.16,342.65 L414.43,342.70 L414.69,342.78 L414.96,342.82 L415.22,342.80 L415.49,342.81 L415.76,342.66 L416.02,342.53 L416.29,342.72 L416.56,342.67 L416.82,342.69 L417.09,342.72 L417.35,342.58 L417.62,342.57 L417.89,342.66 L418.15,342.65 L418.42,342.52 L418.68,342.61 L418.95,342.47 L419.22,342.31 L419.48,342.37 L419.75,342.51 L420.01,342.12 L420.28,342.25 L420.55,342.17 L420.81,342.08 L421.08,341.68 L421.34,341.88 L421.61,341.51 L421.88,341.30 L422.14,341.13 L422.41,341.04 L422.68,340.76 L422.94,340.50 L423.21,340.43 L423.47,339.92 L423.74,339.59 L424.01,339.49 L424.27,339.14 L424.54,338.83 L424.80,338.18 L425.07,338.03 L425.34,337.52 L425.60,337.22 L425.87,336.38 L426.13,336.06 L426.40,335.49 L426.67,334.80 L426.93,334.36 L427.20,334.03 L427.46,333.28 L427.73,332.69 L428.00,332.33" fill="none" stroke="#9a10b4" stroke-width="1.2" stroke-linejoin="round" stroke-linecap="round"/>
</g>
<line x1="291.56" y1="249.50" x2="291.56" y2="348.00" stroke="#222" stroke-width="1.1" stroke-dasharray="4 1.6 1 1.6"/>
<line x1="395.39" y1="313.00" x2="395.39" y2="352.00" stroke="#222" stroke-width="1.1" stroke-dasharray="4 1.6 1 1.6"/>
<rect x="242.00" y="206.60" width="186.00" height="149.60" stroke="#333" stroke-width="1.35" fill="none"/>
<line x1="242.00" y1="356.20" x2="242.00" y2="359.10" stroke="#333" stroke-width="1"/>
<line x1="269.35" y1="356.20" x2="269.35" y2="357.90" stroke="#333" stroke-width="1"/>
<line x1="296.70" y1="356.20" x2="296.70" y2="359.10" stroke="#333" stroke-width="1"/>
<line x1="324.06" y1="356.20" x2="324.06" y2="357.90" stroke="#333" stroke-width="1"/>
<line x1="351.41" y1="356.20" x2="351.41" y2="359.10" stroke="#333" stroke-width="1"/>
<line x1="378.76" y1="356.20" x2="378.76" y2="357.90" stroke="#333" stroke-width="1"/>
<line x1="406.12" y1="356.20" x2="406.12" y2="359.10" stroke="#333" stroke-width="1"/>
<text transform="translate(242.00 367.30) scale(0.92 1)" font-size="8.26" text-anchor="middle" font-weight="bold" fill="#111" stroke="#111" stroke-width="0.25">1400</text>
<text transform="translate(296.70 367.30) scale(0.92 1)" font-size="8.26" text-anchor="middle" font-weight="bold" fill="#111" stroke="#111" stroke-width="0.25">1450</text>
<text transform="translate(351.41 367.30) scale(0.92 1)" font-size="8.26" text-anchor="middle" font-weight="bold" fill="#111" stroke="#111" stroke-width="0.25">1500</text>
<text transform="translate(406.12 367.30) scale(0.92 1)" font-size="8.26" text-anchor="middle" font-weight="bold" fill="#111" stroke="#111" stroke-width="0.25">1550</text>
<text transform="translate(334.70 383.50) scale(1.0 1)" font-size="9.30" text-anchor="middle" font-weight="bold" fill="#111" stroke="#111" stroke-width="0.25">Wavenumber (cm<tspan font-size="64%" dy="-3.91">-1</tspan><tspan dy="3.91">)</tspan></text>
<text transform="translate(234.40 280.90) rotate(-90) scale(1.0 1)" font-size="9.20" text-anchor="middle" font-weight="bold" fill="#111" stroke="#111" stroke-width="0.25">Intensity (a.u.)</text>
<text transform="translate(257.10 227.50) scale(1.0 1)" font-size="21.50" text-anchor="start" font-weight="bold" fill="#111" stroke="#111" stroke-width="0.25">e</text>
<text transform="translate(293.10 246.80) scale(0.92 1)" font-size="7.61" text-anchor="middle" font-weight="bold" fill="#111" stroke="#111" stroke-width="0.25">LA site</text>
<text transform="translate(396.90 307.80) scale(0.92 1)" font-size="7.61" text-anchor="middle" font-weight="bold" fill="#111" stroke="#111" stroke-width="0.25">BA site</text>
<line x1="365.50" y1="213.90" x2="380.50" y2="213.90" stroke="#ffd060" stroke-width="1.4"/>
<text transform="translate(381.80 216.20) scale(0.92 1)" font-size="7.07" text-anchor="start" font-weight="bold" fill="#111" stroke="#111" stroke-width="0.25">673K-Nb<tspan font-size="64%" dy="1.82">2</tspan><tspan dy="-1.82">O</tspan><tspan font-size="64%" dy="1.82">5</tspan></text>
<line x1="365.50" y1="223.27" x2="380.50" y2="223.27" stroke="#ff6a2a" stroke-width="1.4"/>
<text transform="translate(381.80 225.57) scale(0.92 1)" font-size="7.07" text-anchor="start" font-weight="bold" fill="#111" stroke="#111" stroke-width="0.25">773K-Nb<tspan font-size="64%" dy="1.82">2</tspan><tspan dy="-1.82">O</tspan><tspan font-size="64%" dy="1.82">5</tspan></text>
<line x1="365.50" y1="232.64" x2="380.50" y2="232.64" stroke="#b84444" stroke-width="1.4"/>
<text transform="translate(381.80 234.94) scale(0.92 1)" font-size="7.07" text-anchor="start" font-weight="bold" fill="#111" stroke="#111" stroke-width="0.25">873K-Nb<tspan font-size="64%" dy="1.82">2</tspan><tspan dy="-1.82">O</tspan><tspan font-size="64%" dy="1.82">5</tspan></text>
<line x1="365.50" y1="242.01" x2="380.50" y2="242.01" stroke="#9a10b4" stroke-width="1.4"/>
<text transform="translate(381.80 244.31) scale(0.92 1)" font-size="7.07" text-anchor="start" font-weight="bold" fill="#111" stroke="#111" stroke-width="0.25">973K-Nb<tspan font-size="64%" dy="1.82">2</tspan><tspan dy="-1.82">O</tspan><tspan font-size="64%" dy="1.82">5</tspan></text>
<defs><linearGradient id="gf" x1="0" y1="1" x2="1" y2="0"><stop offset="0" stop-color="#ffffff"/><stop offset="0.3" stop-color="#effaf8"/><stop offset="0.5" stop-color="#d5f2ed"/><stop offset="0.75" stop-color="#b8e9e0"/><stop offset="1" stop-color="#98dfd3"/></linearGradient><linearGradient id="gb" x1="0" y1="0" x2="0" y2="1"><stop offset="0" stop-color="#9adfd4"/><stop offset="0.5" stop-color="#c8eee7"/><stop offset="0.88" stop-color="#f1fbf9"/><stop offset="1" stop-color="#ffffff"/></linearGradient></defs>
<rect x="465.6" y="206.6" width="186.39999999999998" height="149.75000000000003" fill="url(#gf)"/>
<rect x="465.60" y="206.60" width="186.40" height="149.75" stroke="#222" stroke-width="1.2" fill="none"/>
<line x1="462.70" y1="356.35" x2="465.60" y2="356.35" stroke="#222" stroke-width="1"/>
<line x1="463.90" y1="343.87" x2="465.60" y2="343.87" stroke="#222" stroke-width="1"/>
<line x1="462.70" y1="331.39" x2="465.60" y2="331.39" stroke="#222" stroke-width="1"/>
<line x1="463.90" y1="318.91" x2="465.60" y2="318.91" stroke="#222" stroke-width="1"/>
<line x1="462.70" y1="306.43" x2="465.60" y2="306.43" stroke="#222" stroke-width="1"/>
<line x1="463.90" y1="293.95" x2="465.60" y2="293.95" stroke="#222" stroke-width="1"/>
<line x1="462.70" y1="281.47" x2="465.60" y2="281.47" stroke="#222" stroke-width="1"/>
<line x1="463.90" y1="269.00" x2="465.60" y2="269.00" stroke="#222" stroke-width="1"/>
<line x1="462.70" y1="256.52" x2="465.60" y2="256.52" stroke="#222" stroke-width="1"/>
<line x1="463.90" y1="244.04" x2="465.60" y2="244.04" stroke="#222" stroke-width="1"/>
<line x1="462.70" y1="231.56" x2="465.60" y2="231.56" stroke="#222" stroke-width="1"/>
<line x1="463.90" y1="219.08" x2="465.60" y2="219.08" stroke="#222" stroke-width="1"/>
<line x1="462.70" y1="206.60" x2="465.60" y2="206.60" stroke="#222" stroke-width="1"/>
<text transform="translate(460.60 359.25) scale(0.92 1)" font-size="8.70" text-anchor="end" font-weight="bold" fill="#111" stroke="#111" stroke-width="0.25">5</text>
<text transform="translate(460.60 334.29) scale(0.92 1)" font-size="8.70" text-anchor="end" font-weight="bold" fill="#111" stroke="#111" stroke-width="0.25">10</text>
<text transform="translate(460.60 309.33) scale(0.92 1)" font-size="8.70" text-anchor="end" font-weight="bold" fill="#111" stroke="#111" stroke-width="0.25">15</text>
<text transform="translate(460.60 284.37) scale(0.92 1)" font-size="8.70" text-anchor="end" font-weight="bold" fill="#111" stroke="#111" stroke-width="0.25">20</text>
<text transform="translate(460.60 259.42) scale(0.92 1)" font-size="8.70" text-anchor="end" font-weight="bold" fill="#111" stroke="#111" stroke-width="0.25">25</text>
<text transform="translate(460.60 234.46) scale(0.92 1)" font-size="8.70" text-anchor="end" font-weight="bold" fill="#111" stroke="#111" stroke-width="0.25">30</text>
<text transform="translate(460.60 209.50) scale(0.92 1)" font-size="8.70" text-anchor="end" font-weight="bold" fill="#111" stroke="#111" stroke-width="0.25">35</text>
<line x1="469.33" y1="356.35" x2="469.33" y2="358.05" stroke="#222" stroke-width="1"/>
<line x1="487.97" y1="356.35" x2="487.97" y2="359.25" stroke="#222" stroke-width="1"/>
<line x1="506.61" y1="356.35" x2="506.61" y2="358.05" stroke="#222" stroke-width="1"/>
<line x1="525.25" y1="356.35" x2="525.25" y2="359.25" stroke="#222" stroke-width="1"/>
<line x1="543.89" y1="356.35" x2="543.89" y2="358.05" stroke="#222" stroke-width="1"/>
<line x1="562.53" y1="356.35" x2="562.53" y2="359.25" stroke="#222" stroke-width="1"/>
<line x1="581.17" y1="356.35" x2="581.17" y2="358.05" stroke="#222" stroke-width="1"/>
<line x1="599.81" y1="356.35" x2="599.81" y2="359.25" stroke="#222" stroke-width="1"/>
<line x1="618.45" y1="356.35" x2="618.45" y2="358.05" stroke="#222" stroke-width="1"/>
<line x1="637.09" y1="356.35" x2="637.09" y2="359.25" stroke="#222" stroke-width="1"/>
<text transform="translate(487.97 367.60) scale(0.92 1)" font-size="8.70" text-anchor="middle" font-weight="bold" fill="#111" stroke="#111" stroke-width="0.25">10</text>
<text transform="translate(525.25 367.60) scale(0.92 1)" font-size="8.70" text-anchor="middle" font-weight="bold" fill="#111" stroke="#111" stroke-width="0.25">15</text>
<text transform="translate(562.53 367.60) scale(0.92 1)" font-size="8.70" text-anchor="middle" font-weight="bold" fill="#111" stroke="#111" stroke-width="0.25">20</text>
<text transform="translate(599.81 367.60) scale(0.92 1)" font-size="8.70" text-anchor="middle" font-weight="bold" fill="#111" stroke="#111" stroke-width="0.25">25</text>
<text transform="translate(637.09 367.60) scale(0.92 1)" font-size="8.70" text-anchor="middle" font-weight="bold" fill="#111" stroke="#111" stroke-width="0.25">30</text>
<text transform="translate(558.60 381.80) scale(1.0 1)" font-size="9.26" text-anchor="middle" font-weight="bold" fill="#111" stroke="#111" stroke-width="0.25">Oxygen Vancancy(%)</text>
<text transform="translate(448.30 280.50) rotate(-90) scale(1.0 1)" font-size="9.25" text-anchor="middle" font-weight="bold" fill="#111" stroke="#111" stroke-width="0.25">Hydroxyl group(%)</text>
<text transform="translate(617.30 226.80) scale(1.0 1)" font-size="21.00" text-anchor="start" font-weight="bold" fill="#111" stroke="#111" stroke-width="0.25">f</text>
<rect x="484.00" y="297.60" width="5.80" height="5.80" fill="#4a4a4a"/>
<circle cx="564.80" cy="317.20" r="3.10" fill="#3f7fa6"/>
<path d="M536.60,283.15 L540.10,289.80 L533.10,289.80Z" fill="#ffc125"/>
<path d="M567.70,265.84 L571.10,259.38 L564.30,259.38Z" fill="#ff6a14"/>
<path d="M633.20,232.58 L637.52,236.90 L633.20,241.22 L628.88,236.90Z" fill="#a80000"/>
<path d="M555.40,274.00 L562.24,270.40 L562.24,277.60Z" fill="#8c0a9e"/>
<rect x="473.05" y="211.45" width="5.30" height="5.30" fill="#4a4a4a"/>
<text transform="translate(485.00 216.40) scale(0.92 1)" font-size="7.07" text-anchor="start" font-weight="bold" fill="#111" stroke="#111" stroke-width="0.25">Nb<tspan font-size="64%" dy="1.82">2</tspan><tspan dy="-1.82">O</tspan><tspan font-size="64%" dy="1.82">5</tspan></text>
<circle cx="475.70" cy="223.55" r="2.90" fill="#3f7fa6"/>
<text transform="translate(485.00 225.85) scale(0.92 1)" font-size="7.07" text-anchor="start" font-weight="bold" fill="#111" stroke="#111" stroke-width="0.25">H<tspan font-size="64%" dy="1.82">2</tspan><tspan dy="-1.82">-</tspan>Nb<tspan font-size="64%" dy="1.82">2</tspan><tspan dy="-1.82">O</tspan><tspan font-size="64%" dy="1.82">5</tspan></text>
<path d="M475.70,229.43 L478.95,235.60 L472.45,235.60Z" fill="#ffc125"/>
<text transform="translate(485.00 235.30) scale(0.92 1)" font-size="7.07" text-anchor="start" font-weight="bold" fill="#111" stroke="#111" stroke-width="0.25">673K-Nb<tspan font-size="64%" dy="1.82">2</tspan><tspan dy="-1.82">O</tspan><tspan font-size="64%" dy="1.82">5</tspan></text>
<path d="M475.70,246.02 L478.95,239.85 L472.45,239.85Z" fill="#ff6a14"/>
<text transform="translate(485.00 244.75) scale(0.92 1)" font-size="7.07" text-anchor="start" font-weight="bold" fill="#111" stroke="#111" stroke-width="0.25">773K-Nb<tspan font-size="64%" dy="1.82">2</tspan><tspan dy="-1.82">O</tspan><tspan font-size="64%" dy="1.82">5</tspan></text>
<path d="M475.70,247.82 L479.78,251.90 L475.70,255.98 L471.62,251.90Z" fill="#a80000"/>
<text transform="translate(485.00 254.20) scale(0.92 1)" font-size="7.07" text-anchor="start" font-weight="bold" fill="#111" stroke="#111" stroke-width="0.25">873K-Nb<tspan font-size="64%" dy="1.82">2</tspan><tspan dy="-1.82">O</tspan><tspan font-size="64%" dy="1.82">5</tspan></text>
<path d="M472.30,261.35 L478.76,257.95 L478.76,264.75Z" fill="#8c0a9e"/>
<text transform="translate(485.00 263.65) scale(0.92 1)" font-size="7.07" text-anchor="start" font-weight="bold" fill="#111" stroke="#111" stroke-width="0.25">973K-Nb<tspan font-size="64%" dy="1.82">2</tspan><tspan dy="-1.82">O</tspan><tspan font-size="64%" dy="1.82">5</tspan></text>
<rect x="662.6" y="229.5" width="10.2" height="106.9" fill="url(#gb)" stroke="#333" stroke-width="1"/>
<line x1="657.50" y1="319.20" x2="657.50" y2="257.50" stroke="#333" stroke-width="0.75"/>
<path d="M657.5,254.8 L658.7,258.4 L656.3,258.4Z" fill="#333"/>
<text transform="translate(679.80 287.00) rotate(90) scale(0.92 1)" font-size="7.72" text-anchor="middle" font-weight="bold" fill="#111" stroke="#111" stroke-width="0.25">FLP concentration</text>
</svg>
</body></html>
